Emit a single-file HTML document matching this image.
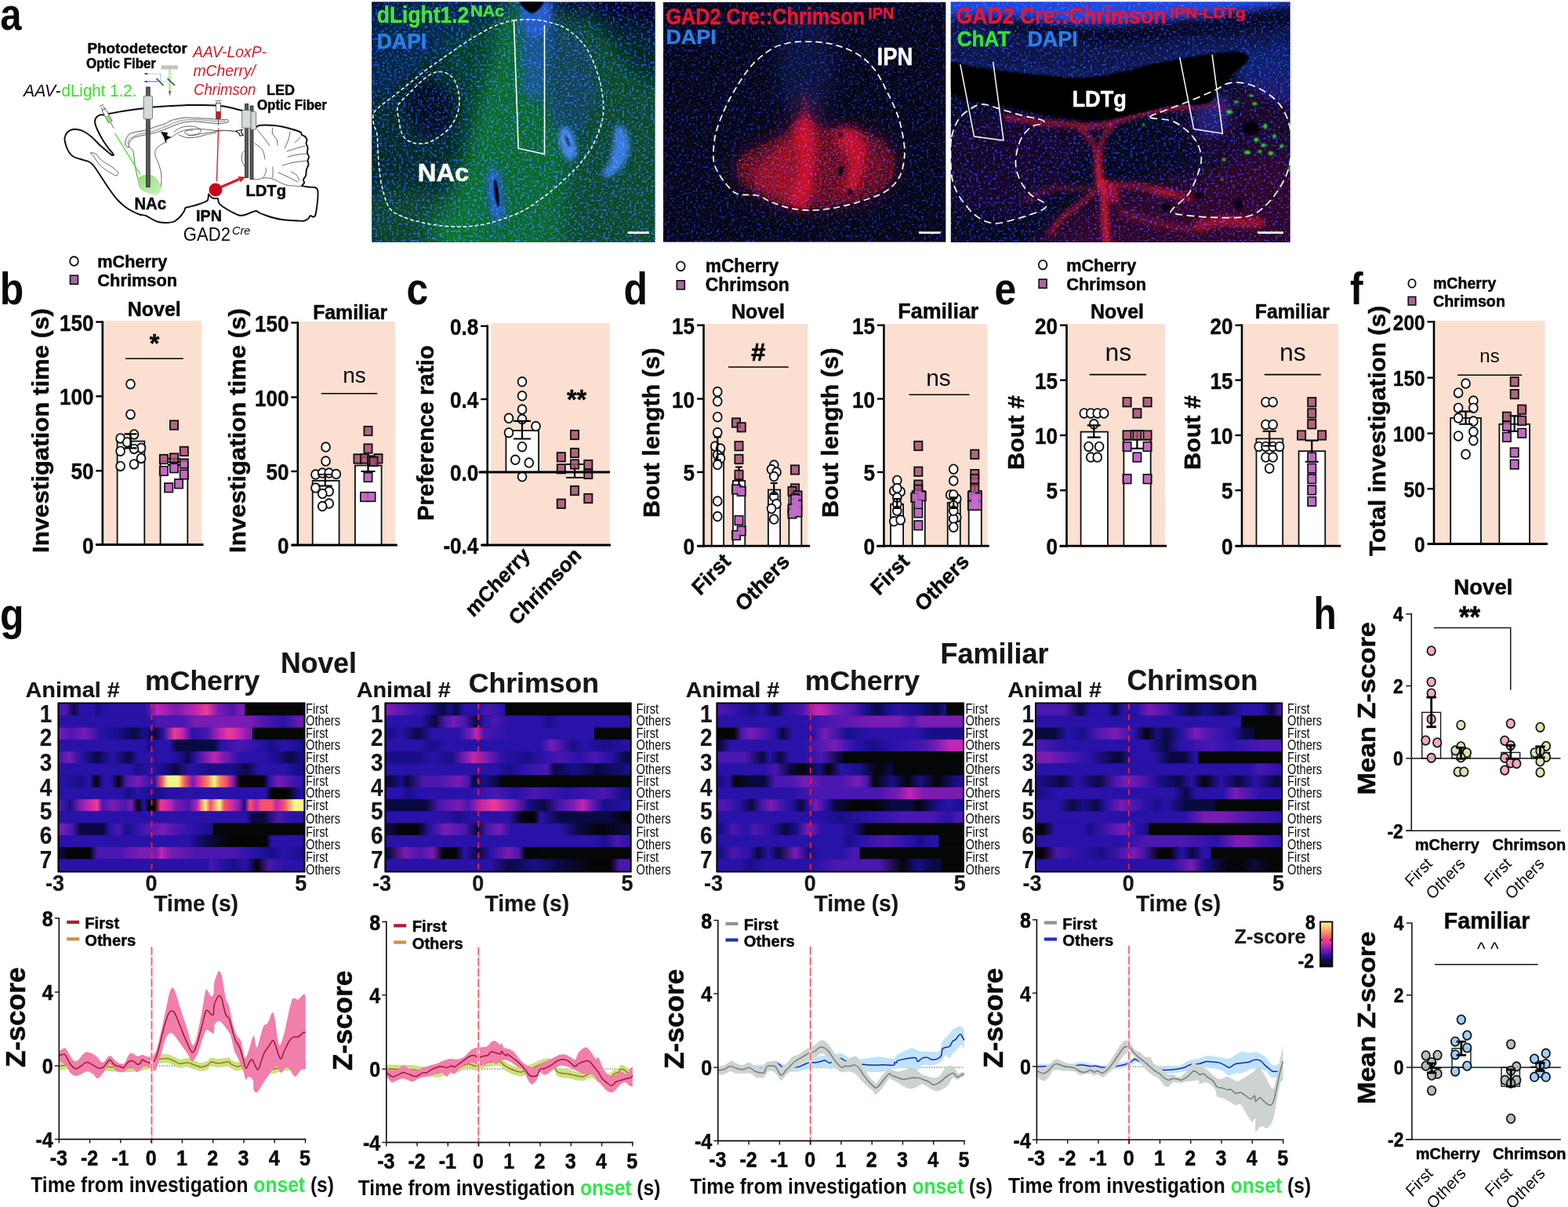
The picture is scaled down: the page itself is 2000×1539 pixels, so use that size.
<!DOCTYPE html>
<html lang="en"><head><meta charset="utf-8"><title>Figure</title>
<style>
html,body{margin:0;padding:0;background:#fff}
body{width:2000px;height:1539px;overflow:hidden}
svg{display:block}
svg text{font-family:"Liberation Sans",sans-serif;font-weight:700;fill:#0a0a0a}
</style></head><body>
<svg width="2000" height="1539" viewBox="0 0 2000 1539" fill="none">
<rect width="2000" height="1539" fill="#fff"/>
<g id="panel_a">
<path d="M164 188C164.83 187.5 164 184 165 182C166 180 167.5 177.5 170 176C172.5 174.5 175.83 174 180 173C184.17 172 190.83 171 195 170C199.17 169 201.67 168.17 205 167C208.33 165.83 211.67 164.33 215 163C218.33 161.67 221.67 160.17 225 159C228.33 157.83 230.83 156.67 235 156C239.17 155.33 244.17 154.83 250 155C255.83 155.17 265 156.58 270 157C275 157.42 276.67 157.67 280 157.5C283.33 157.33 288.17 156.75 290 156C291.83 155.25 291.83 153.58 291 153C290.17 152.42 287.67 152.67 285 152.5C282.33 152.33 279.17 152.25 275 152C270.83 151.75 265.83 151.33 260 151C254.17 150.67 244.17 150.17 240 150C235.83 149.83 238.33 149.5 235 150C231.67 150.5 224.17 151.67 220 153C215.83 154.33 213.33 156.67 210 158C206.67 159.33 204.17 159.67 200 161C195.83 162.33 190 164.67 185 166C180 167.33 173.67 167.83 170 169C166.33 170.17 164.67 171.17 163 173C161.33 174.83 160.5 178 160 180C159.5 182 159.33 183.67 160 185C160.67 186.33 163.17 188.5 164 188Z" fill="#eef1f0" stroke="#3a4040" stroke-width="0.8"/>
<path d="M163 184C163.5 182.83 163.5 179.17 166 177C168.5 174.83 173.17 172.58 178 171C182.83 169.42 189.33 169.17 195 167.5C200.67 165.83 206.17 163.25 212 161C217.83 158.75 223.67 155.42 230 154C236.33 152.58 242.5 152.42 250 152.5C257.5 152.58 268.67 154.17 275 154.5C281.33 154.83 285.83 154.5 288 154.5" stroke="#5a6060" stroke-width="0.6"/>
<path d="M219 175C220.17 174.17 223.17 171.5 226 170C228.83 168.5 232.33 166.92 236 166C239.67 165.08 243.67 164.67 248 164.5C252.33 164.33 257.33 164.67 262 165C266.67 165.33 271.33 166.25 276 166.5C280.67 166.75 286 166.33 290 166.5C294 166.67 298.33 167.33 300 167.5M222 168C223.33 167.17 227 164.17 230 163C233 161.83 236.67 161.17 240 161C243.33 160.83 247.33 161.17 250 162C252.67 162.83 255.5 164.5 256 166C256.5 167.5 255 169.92 253 171C251 172.08 246.83 172.67 244 172.5C241.17 172.33 237 171 236 170C235 169 236.33 167.17 238 166.5C239.67 165.83 244.67 166.08 246 166M228 172C229.67 172.58 234.33 175 238 175.5C241.67 176 246 175.58 250 175C254 174.42 257.67 173 262 172C266.33 171 273.67 169.5 276 169M240 173C243.33 172.5 253.33 171 260 170C266.67 169 275 167.58 280 167C285 166.42 286.67 166.42 290 166.5C293.33 166.58 298.33 167.33 300 167.5M164 187C164.83 187.67 167.83 188.83 169 191C170.17 193.17 170.5 196.83 171 200C171.5 203.17 171.5 206.67 172 210C172.5 213.33 173.33 217 174 220C174.67 223 175.17 225.5 176 228C176.83 230.5 178.5 233.83 179 235M213 181C211.83 181.5 208.33 182.5 206 184C203.67 185.5 200.33 187.67 199 190C197.67 192.33 197.5 195 198 198C198.5 201 200.83 204.67 202 208C203.17 211.33 204.33 214.67 205 218C205.67 221.33 206 224.67 206 228C206 231.33 205.5 235.17 205 238C204.5 240.83 203.33 243.83 203 245M115.5 195C115.83 194.33 119.92 194.67 122 196C124.08 197.33 125.83 201 128 203C130.17 205 132.5 206.33 135 208C137.5 209.67 140.5 211.17 143 213C145.5 214.83 148.75 217.5 150 219C151.25 220.5 150.83 221.17 150.5 222C150.17 222.83 149.42 224.17 148 224C146.58 223.83 144.33 222.33 142 221C139.67 219.67 136.67 218 134 216C131.33 214 128.33 211.67 126 209C123.67 206.33 121.75 202.33 120 200C118.25 197.67 115.17 195.67 115.5 195ZM323 228C323.83 228.17 326 229.17 328 229C330 228.83 332.67 227.33 335 227C337.33 226.67 339.5 226.67 342 227C344.5 227.33 347 227.83 350 229C353 230.17 357 232.75 360 234C363 235.25 365.5 236 368 236.5C370.5 237 372.17 236.83 375 237C377.83 237.17 383.33 237.42 385 237.5M328 165C329.33 166.67 333.33 171.5 336 175C338.67 178.5 342.67 184.17 344 186M325 183C326.17 183.83 330.17 186.17 332 188C333.83 189.83 335 191.5 336 194C337 196.5 337.67 201.5 338 203M348 163C347.92 164.17 346.67 167.5 347.5 170C348.33 172.5 351.92 175.5 353 178C354.08 180.5 353.83 183.83 354 185M370 168C369.67 169.67 369.17 174.5 368 178C366.83 181.5 363.83 187.17 363 189M383 175C382.33 175.67 380.17 177.83 379 179C377.83 180.17 376.5 181.5 376 182M389 186C387.17 186.5 381.83 187.83 378 189C374.17 190.17 368 192.33 366 193M392 196C390 196.17 384.17 196.33 380 197C375.83 197.67 369.17 199.5 367 200M392 205C389.17 205.33 380.33 206 375 207C369.67 208 362.5 210.33 360 211M355 220C357.17 221 363.83 224 368 226C372.17 228 378 231 380 232M371 219C372.17 219.67 376.17 221.17 378 223C379.83 224.83 381.33 228.83 382 230M348 213C348 214.5 348.17 219.67 348 222C347.83 224.33 347.17 226.17 347 227M339 214C339 215 339.5 218 339 220C338.5 222 336.5 225 336 226M312 192C311.5 192.67 309.58 193.83 309 196C308.42 198.17 308 202.33 308.5 205C309 207.67 311.42 210.83 312 212" stroke="#3a4040" stroke-width="0.8" stroke-linecap="round"/>
<path d="M205 168L214 169L213 173L219 175L213 178L211 182L209 175Z" fill="#0a0a0a"/>
<path d="M300.5 167.3L309 165.3L307.5 168.6L310.5 172.3L306 173.3L305.3 170.3Z" fill="#fff" stroke="#0a0a0a" stroke-width="1.1" stroke-linejoin="round"/>
<path d="M310 141C309.17 140.83 307.5 140.58 305 140C302.5 139.42 298.33 138.25 295 137.5C291.67 136.75 288.33 136 285 135.5C281.67 135 279.17 134.75 275 134.5C270.83 134.25 265.83 134.08 260 134C254.17 133.92 245 133.92 240 134C235 134.08 235 134.25 230 134.5C225 134.75 215.92 135.17 210 135.5C204.08 135.83 199 136.05 194.5 136.5C190 136.95 187.08 137.67 183 138.2C178.92 138.73 173.83 139.2 170 139.7C166.17 140.2 163.33 140.65 160 141.2C156.67 141.75 153.33 142.4 150 143C146.67 143.6 143 144.22 140 144.8C137 145.38 134 146.25 132 146.5C130 146.75 129.42 145.88 128 146.3C126.58 146.72 124.67 147.72 123.5 149C122.33 150.28 121.25 152.17 121 154C120.75 155.83 121.5 158.17 122 160C122.5 161.83 122.92 162.67 124 165C125.08 167.33 126.83 171 128.5 174C130.17 177 132.12 180.2 134 183C135.88 185.8 138.3 188.88 139.8 190.8C141.3 192.72 142.13 193.38 143 194.5C143.87 195.62 144.67 197 145 197.5C144.67 197.58 144 198.42 143 198C142 197.58 140.83 196.5 139 195C137.17 193.5 134.08 190.8 132 189C129.92 187.2 129 186.58 126.5 184.2C124 181.82 120.17 177.4 117 174.7C113.83 172 110.33 169.57 107.5 168C104.67 166.43 102.42 165.8 100 165.3C97.58 164.8 95.33 164.47 93 165C90.67 165.53 87.75 166.67 86 168.5C84.25 170.33 82.83 173.25 82.5 176C82.17 178.75 83.08 182 84 185C84.92 188 86.33 191.5 88 194C89.67 196.5 91.5 198.5 94 200C96.5 201.5 99.67 201.92 103 203C106.33 204.08 111.17 205 114 206.5C116.83 208 117.33 208.58 120 212C122.67 215.42 126.67 222 130 227C133.33 232 136.67 237.33 140 242C143.33 246.67 146.67 251.33 150 255C153.33 258.67 156.67 261.5 160 264C163.33 266.5 167 268.42 170 270C173 271.58 175.33 272.67 178 273.5C180.67 274.33 183.33 274 186 275C188.67 276 191.33 278.17 194 279.5C196.67 280.83 199 282.25 202 283C205 283.75 208.67 284.08 212 284C215.33 283.92 219 283.83 222 282.5C225 281.17 227.83 278.25 230 276C232.17 273.75 233.92 270.83 235 269C236.08 267.17 235.67 265.83 236.5 265C237.33 264.17 237.75 264.58 240 264C242.25 263.42 246.67 262.5 250 261.5C253.33 260.5 257.5 259.08 260 258C262.5 256.92 264 256.75 265 255C266 253.25 265.83 248.75 266 247.5C266.5 248.08 267.83 250.08 269 251C270.17 251.92 271.5 252.67 273 253C274.5 253.33 277.17 253 278 253C278.08 253.5 278.17 254.83 278.5 256C278.83 257.17 278.92 258.67 280 260C281.08 261.33 282.5 262.33 285 264C287.5 265.67 291.67 268.25 295 270C298.33 271.75 302.17 273.83 305 274.5C307.83 275.17 309.5 274.58 312 274C314.5 273.42 317.5 271.83 320 271C322.5 270.17 325.33 269 327 269C328.67 269 327.83 270 330 271C332.17 272 336.67 273.83 340 275C343.33 276.17 346.67 277.17 350 278C353.33 278.83 356.67 279.5 360 280C363.33 280.5 366.67 280.75 370 281C373.33 281.25 377 281.42 380 281.5C383 281.58 385.83 281.92 388 281.5C390.17 281.08 391.67 280.08 393 279C394.33 277.92 395 275.42 396 275C397 274.58 398 276.5 399 276.5C400 276.5 401.17 276.92 402 275C402.83 273.08 403.42 269.17 404 265C404.58 260.83 405.33 253.83 405.5 250C405.67 246.17 405.58 243.83 405 242C404.42 240.17 403.83 239.58 402 239C400.17 238.42 396.83 238.83 394 238.5C391.17 238.17 386.5 237.25 385 237C385.5 236.33 387.67 234.33 388 233C388.33 231.67 386.67 230.5 387 229C387.33 227.5 389.33 226.17 390 224C390.67 221.83 390.42 218.33 391 216C391.58 213.67 393.25 211.83 393.5 210C393.75 208.17 392.42 206.67 392.5 205C392.58 203.33 394.08 201.67 394 200C393.92 198.33 392.25 197 392 195C391.75 193 392.75 190 392.5 188C392.25 186 390.67 184.58 390.5 183C390.33 181.42 391.75 180 391.5 178.5C391.25 177 390.08 175.08 389 174C387.92 172.92 385.83 172.83 385 172C384.17 171.17 384.83 169.83 384 169C383.17 168.17 382.33 167.83 380 167C377.67 166.17 373.33 164.92 370 164C366.67 163.08 363.33 162.17 360 161.5C356.67 160.83 353.33 160.33 350 160C346.67 159.67 343.33 159.5 340 159.5C336.67 159.5 332.17 159.58 330 160C327.83 160.42 327.5 161.67 327 162" stroke="#0a0a0a" stroke-width="1.9" stroke-linejoin="round" stroke-linecap="round"/>
<linearGradient id="nacg" x1="0" y1="0" x2="1" y2="1"><stop offset="0" stop-color="#8fdc74"/><stop offset="1" stop-color="#cdf2bd"/></linearGradient>
<path d="M176 228C176.67 225.83 178.67 224.83 181 224C183.33 223.17 187.17 222.67 190 223C192.83 223.33 195.83 224.33 198 226C200.17 227.67 201.83 230.67 203 233C204.17 235.33 205 238 205 240C205 242 204.17 243.67 203 245C201.83 246.33 200.17 247.83 198 248C195.83 248.17 192.67 246.83 190 246C187.33 245.17 184.17 244.5 182 243C179.83 241.5 178 239.5 177 237C176 234.5 175.33 230.17 176 228Z" fill="url(#nacg)" stroke="#c5d6c0" stroke-width="0.8"/>
<path d="M146.5 170L179 222.5" stroke="#3fe01f" stroke-width="1.3"/>
<g transform="translate(137,148.5) rotate(-28)"><path d="M-3 -16h6M-1.6 -14v8M1.6 -14v8M0 8v9" stroke="#2a2e2e" stroke-width="0.7"/><rect x="-2.6" y="-10" width="5.2" height="18" fill="#fff" stroke="#2a2e2e" stroke-width="0.7"/><rect x="-2.3" y="-1" width="4.6" height="9" fill="#8fdc74"/></g>
<rect x="186.6" y="111" width="4.6" height="127.5" fill="#565c5c" stroke="#2a2e2e" stroke-width="0.9"/>
<rect x="183.2" y="122.3" width="11.3" height="29.5" rx="1.6" fill="#d3dad8" stroke="#6a7070" stroke-width="0.9"/>
<rect x="205.5" y="83.3" width="21.3" height="5.2" fill="#c1c5c5"/>
<path d="M216.6 88.5L216.6 117" stroke="#bfeaa0" stroke-width="3.4"/>
<path d="M215.2 116h2.8l-1.4 7z" fill="#4a5050"/>
<path d="M189 94H204.6V104H216.5" stroke="#9fd4f4" stroke-width="1.2"/>
<path d="M189 104L201.5 104" stroke="#4f7fe0" stroke-width="1.2"/>
<path d="M199.5 100L208.5 109M213.5 100L223 109" stroke="#3a4040" stroke-width="1.6"/>
<path d="M184.5 94h4M184.5 104h4" stroke="#1a1a1a" stroke-width="1.4"/>
<circle cx="216.6" cy="92.5" r="0.8" fill="#fff"/><circle cx="216.6" cy="96" r="0.8" fill="#fff"/>
<path d="M274.6 128.3h8M277 129.5v12M280 129.5v12M278.5 151.5v9" stroke="#2a2e2e" stroke-width="0.7"/>
<rect x="275.6" y="131.5" width="5.8" height="20" fill="#fff" stroke="#2a2e2e" stroke-width="0.7"/>
<rect x="276" y="142" width="5" height="9.6" fill="#e0101c"/>
<path d="M278.6 164L276.5 231.5" stroke="#d3202c" stroke-width="1.4"/>
<rect x="319" y="135" width="4" height="93.5" fill="#565c5c" stroke="#2a2e2e" stroke-width="0.9"/>
<rect x="319.8" y="142.2" width="6.8" height="23" rx="1.4" fill="#d3dad8" stroke="#6a7070" stroke-width="0.9"/>
<rect x="312.6" y="132.5" width="4" height="94" fill="#565c5c" stroke="#2a2e2e" stroke-width="0.9"/>
<rect x="308.6" y="140.6" width="11.4" height="22.6" rx="1.4" fill="#d3dad8" stroke="#6a7070" stroke-width="0.9"/>
<circle cx="275" cy="242" r="8.5" fill="#c8041c"/>
<path d="M282 238.5L305 228.5" stroke="#d81a28" stroke-width="3.2"/>
<path d="M313 225.5L303.5 225L306.8 232.5Z" fill="#d81a28"/>
<text transform="translate(0.3,37.5) scale(0.860,1)" font-size="57">a</text>
<text transform="translate(111.5,68) scale(0.990,1)" font-size="19" style="stroke:#0a0a0a;stroke-width:0.5;stroke-linejoin:round;">Photodetector</text>
<text transform="translate(110,87) scale(0.958,1)" font-size="17.6" style="stroke:#0a0a0a;stroke-width:0.5;stroke-linejoin:round;">Optic Fiber</text>
<text transform="translate(30,123) scale(0.986,1)" font-size="21.5" style="font-weight:400;font-style:italic;">AAV-</text>
<text transform="translate(78.5,123) scale(0.956,1)" font-size="21.5" style="font-weight:400;fill:#3ddf2c;">dLight 1.2.</text>
<text transform="translate(246,73) scale(0.945,1)" font-size="20.5" style="font-weight:400;font-style:italic;fill:#cf1f2a;">AAV-LoxP-</text>
<text transform="translate(246.5,97) scale(0.943,1)" font-size="20.5" style="font-weight:400;font-style:italic;fill:#cf1f2a;">mCherry/</text>
<text transform="translate(247,121) scale(0.906,1)" font-size="20.5" style="font-weight:400;font-style:italic;fill:#cf1f2a;">Chrimson</text>
<text transform="translate(340,120.5) scale(0.947,1)" font-size="19" style="stroke:#0a0a0a;stroke-width:0.5;stroke-linejoin:round;">LED</text>
<text transform="translate(328,139.5) scale(0.958,1)" font-size="17.6" style="stroke:#0a0a0a;stroke-width:0.5;stroke-linejoin:round;">Optic Fiber</text>
<text transform="translate(171.5,266.5) scale(0.937,1)" font-size="21.6" style="stroke:#0a0a0a;stroke-width:0.5;stroke-linejoin:round;">NAc</text>
<text transform="translate(250,281.5) scale(0.943,1)" font-size="21" style="stroke:#0a0a0a;stroke-width:0.5;stroke-linejoin:round;">IPN</text>
<text transform="translate(313.5,250) scale(0.960,1)" font-size="21" style="stroke:#0a0a0a;stroke-width:0.5;stroke-linejoin:round;">LDTg</text>
<text transform="translate(233.8,306.5) scale(0.961,1)" font-size="23" style="font-weight:400;">GAD2</text>
<text transform="translate(296,299) scale(0.941,1)" font-size="15.5" style="font-weight:400;font-style:italic;">Cre</text>
<defs>
<filter id="b3" x="-30%" y="-30%" width="160%" height="160%"><feGaussianBlur stdDeviation="3"/></filter>
<filter id="b6" x="-40%" y="-40%" width="180%" height="180%"><feGaussianBlur stdDeviation="6"/></filter>
<filter id="b12" x="-60%" y="-60%" width="220%" height="220%"><feGaussianBlur stdDeviation="12"/></filter>
<filter id="b1" x="-20%" y="-20%" width="140%" height="140%"><feGaussianBlur stdDeviation="1.2"/></filter>
<filter id="spB" x="0" y="0" width="1" height="1" color-interpolation-filters="sRGB"><feTurbulence type="fractalNoise" baseFrequency="0.33" numOctaves="2" seed="4"/><feColorMatrix type="matrix" values="0 0 0 0 0.10  0 0 0 0 0.22  0 0 0 0 0.92  7 0 0 0 -3.75"/><feGaussianBlur stdDeviation="0.45"/></filter>
<filter id="spS" x="0" y="0" width="1" height="1" color-interpolation-filters="sRGB"><feTurbulence type="fractalNoise" baseFrequency="0.33" numOctaves="2" seed="9"/><feColorMatrix type="matrix" values="0 0 0 0 0.10  0 0 0 0 0.20  0 0 0 0 0.90  7 0 0 0 -4.0"/><feGaussianBlur stdDeviation="0.45"/></filter>
<filter id="spB2" x="0" y="0" width="1" height="1" color-interpolation-filters="sRGB"><feTurbulence type="fractalNoise" baseFrequency="0.5" numOctaves="1" seed="11"/><feColorMatrix type="matrix" values="0 0 0 0 0.12  0 0 0 0 0.30  0 0 0 0 0.95  0 9 0 0 -4.6"/></filter>
<filter id="spR" x="0" y="0" width="1" height="1" color-interpolation-filters="sRGB"><feTurbulence type="fractalNoise" baseFrequency="0.45" numOctaves="1" seed="23"/><feColorMatrix type="matrix" values="0 0 0 0 0.95  0 0 0 0 0.06  0 0 0 0 0.14  0 0 9 0 -4.4"/></filter>
<filter id="spG" x="0" y="0" width="1" height="1" color-interpolation-filters="sRGB"><feTurbulence type="fractalNoise" baseFrequency="0.6" numOctaves="1" seed="7"/><feColorMatrix type="matrix" values="0 0 0 0 0.10  0 0 0 0 0.55  0 0 0 0 0.20  8 0 0 0 -3.9"/></filter>
</defs><clipPath id="c2r"><path d="M945 200C952.5 192.17 973.83 184.67 985 178C996.17 171.33 1004.83 169.67 1012 160C1019.17 150.33 1023.33 120.33 1028 120C1032.67 119.67 1031.33 150.5 1040 158C1048.67 165.5 1068 163 1080 165C1092 167 1102.67 165.83 1112 170C1121.33 174.17 1131 182.5 1136 190C1141 197.5 1143.33 206.67 1142 215C1140.67 223.33 1136.67 232.83 1128 240C1119.33 247.17 1104.67 253.67 1090 258C1075.33 262.33 1055.83 265.67 1040 266C1024.17 266.33 1008 263.5 995 260C982 256.5 971.17 250.83 962 245C952.83 239.17 942.83 232.5 940 225C937.17 217.5 937.5 207.83 945 200Z"/></clipPath><clipPath id="c3r"><path d="M1300 309L1340 250L1390 200L1395 155L1410 155L1415 200L1480 230L1560 200L1646 180V309Z"/></clipPath><clipPath id="c1"><rect x="474.2" y="2.5" width="361.2" height="306.3"/></clipPath>
<g clip-path="url(#c1)">
<rect x="474.2" y="2.5" width="361.2" height="306.3" fill="#070d20"/>
<g filter="url(#b12)">
<path d="M650 10C673.33 -1.67 727.33 20 760 30C792.67 40 831.67 21.67 846 70C860.33 118.33 893.67 278.33 846 320C798.33 361.67 602.67 340 560 320C517.33 300 580 236.67 590 200C600 163.33 610 131.67 620 100C630 68.33 626.67 21.67 650 10Z" fill="#10a028" fill-opacity="0.42"/>
<path d="M474 40C498.33 -10 599 -26.67 620 20C641 66.67 624.33 270 600 320C575.67 370 495 366.67 474 320C453 273.33 449.67 90 474 40Z" fill="#0c7a28" fill-opacity="0.26"/>
<path d="M636 -10C644.33 -25 671 -21.67 680 -10C689 1.67 686.67 36.67 690 60C693.33 83.33 695 108.33 700 130C705 151.67 716.67 170 720 190C723.33 210 723.33 226.67 720 250C716.67 273.33 726.67 316.67 700 330C673.33 343.33 579.17 343.33 560 330C540.83 316.67 576.67 278.33 585 250C593.33 221.67 602.5 188.33 610 160C617.5 131.67 625.67 108.33 630 80C634.33 51.67 627.67 5 636 -10Z" fill="#18a830" fill-opacity="0.32"/>
<path d="M474 250C488.33 238.33 542.33 238.33 560 250C577.67 261.67 594.33 308.33 580 320C565.67 331.67 491.67 331.67 474 320C456.33 308.33 459.67 261.67 474 250Z" fill="#108028" fill-opacity="0.3"/>
<path d="M560 60C568.33 43.33 626.67 10 640 20C653.33 30 646.67 90 640 120C633.33 150 608.33 200 600 200C591.67 200 596.67 143.33 590 120C583.33 96.67 551.67 76.67 560 60Z" fill="#108028" fill-opacity="0.25"/>
<path d="M740 0C752.67 -8.33 828.33 -18.33 846 0C863.67 18.33 853.67 95 846 110C838.33 125 812.67 100 800 90C787.33 80 780 65 770 50C760 35 727.33 8.33 740 0Z" fill="#050a18" fill-opacity="0.55"/>
</g>
<g filter="url(#b6)">
<path d="M664 -5C670.33 -19.17 697.67 -15.83 704 -5C710.33 5.83 703.33 42.5 702 60C700.67 77.5 698 89.17 696 100C694 110.83 694.33 121.67 690 125C685.67 128.33 674 127.5 670 120C666 112.5 667 100.83 666 80C665 59.17 657.67 9.17 664 -5Z" fill="#2050c8" fill-opacity="0.6"/>
<path d="M700 40C708.33 25 740 46.67 750 60C760 73.33 761.67 101.67 760 120C758.33 138.33 750 165 740 170C730 175 706.67 171.67 700 150C693.33 128.33 691.67 55 700 40Z" fill="#1a40a0" fill-opacity="0.35"/>
<path d="M474 2C501.67 -17.67 619 -4.33 640 2C661 8.33 616.67 27 600 40C583.33 53 561 66.67 540 80C519 93.33 485 133 474 120C463 107 446.33 21.67 474 2Z" fill="#10246c" fill-opacity="0.4"/>
<ellipse cx="548" cy="138" rx="30" ry="36" fill="#04060f" fill-opacity="0.6" transform="rotate(-15 548 138)"/>
<ellipse cx="632" cy="250" rx="9" ry="40" fill="#2458d8" fill-opacity="0.8" transform="rotate(-6 632 250)"/>
</g>
<g filter="url(#b3)">
<ellipse cx="724" cy="183" rx="10" ry="22" fill="#4484f0" transform="rotate(-14 724 183)"/>
<path d="M786 160C788.67 156.83 795.17 161.83 798 166C800.83 170.17 803 178.5 803 185C803 191.5 800.5 199.5 798 205C795.5 210.5 791.67 214.5 788 218C784.33 221.5 779.33 225.33 776 226C772.67 226.67 767.67 225.5 768 222C768.33 218.5 775.67 211.17 778 205C780.33 198.83 780.67 192.5 782 185C783.33 177.5 783.33 163.17 786 160Z" fill="#3c7cea" fill-opacity="0.95"/>
<ellipse cx="632" cy="246" rx="5.5" ry="30" fill="#2a64e0" fill-opacity="0.95" transform="rotate(-7 632 246)"/>
<path d="M668 2C672.67 -4.33 694.67 -2.67 700 2C705.33 6.67 701.67 22.83 700 30C698.33 37.17 694.67 43.33 690 45C685.33 46.67 675.67 47.17 672 40C668.33 32.83 663.33 8.33 668 2Z" fill="#2a5cd8" fill-opacity="0.8"/>
</g>
<rect x="474.2" y="2.5" width="361.2" height="306.3" filter="url(#spB)" opacity="0.85" style="mix-blend-mode:screen"/>
<g filter="url(#b1)">
<path d="M664 2C667.67 0.33 688 0.5 692 2C696 3.5 690.17 8.5 688 11C685.83 13.5 682 16.83 679 17C676 17.17 672.5 14.5 670 12C667.5 9.5 660.33 3.67 664 2Z" fill="#020305"/>
<ellipse cx="633.5" cy="246" rx="2.6" ry="18" fill="#020305" transform="rotate(-7 633.5 246)"/>
<ellipse cx="724" cy="180" rx="1.6" ry="8" fill="#0a1030" fill-opacity="0.85" transform="rotate(-20 724 180)"/>
</g>
<path d="M655.4 26C661.28 25.33 671.03 24.67 678.3 25C685.57 25.33 692.05 26.28 699 28C705.95 29.72 713.4 31.63 720 35.3C726.6 38.97 733.43 44.8 738.6 50C743.77 55.2 747.18 59.58 751 66.5C754.82 73.42 758.72 83.18 761.5 91.5C764.28 99.82 766.32 108.08 767.7 116.4C769.08 124.72 770.15 133.8 769.8 141.4C769.45 149 768.03 154.4 765.6 162C763.17 169.6 759.7 179 755.2 187C750.7 195 744.83 202.7 738.6 210C732.37 217.3 725.43 223.87 717.8 230.8C710.17 237.73 701.1 245.37 692.8 251.6C684.5 257.83 676.3 263.7 668 268.2C659.7 272.7 651.33 275.65 643 278.6C634.67 281.55 626.33 284.17 618 285.9C609.67 287.63 602 288.65 593 289C584 289.35 573 288.87 564 288C555 287.13 547.33 285.72 539 283.8C530.67 281.88 520.93 279.47 514 276.5C507.07 273.53 501.57 271.2 497.4 266C493.23 260.8 491.23 253.25 489 245.3C486.77 237.35 485.2 228.02 484 218.3C482.8 208.58 482.33 194.97 481.8 187C481.27 179.03 481.67 175.33 480.8 170.5C479.93 165.67 477.37 162.17 476.6 158C475.83 153.83 475.15 148.97 476.2 145.5C477.25 142.03 478.67 141 482.9 137.2C487.13 133.4 495.02 127.9 501.6 122.7C508.18 117.5 515.47 111.55 522.4 106C529.33 100.45 536.27 94.6 543.2 89.4C550.13 84.2 557.08 79.65 564 74.8C570.92 69.95 577.78 64.97 584.7 60.3C591.62 55.63 598.57 50.97 605.5 46.8C612.43 42.63 620.05 38.27 626.3 35.3C632.55 32.33 638.15 30.55 643 29C647.85 27.45 649.52 26.67 655.4 26Z" stroke="#fff" stroke-width="1.5" stroke-dasharray="4.6 3"/>
<path d="M559.8 91.5C563.27 91.33 566.92 91.87 570.2 93.6C573.48 95.33 577.08 98.1 579.5 101.9C581.92 105.7 583.65 111.22 584.7 116.4C585.75 121.58 586.32 127.45 585.8 133C585.28 138.55 583.85 144.5 581.6 149.7C579.35 154.9 575.93 160.05 572.3 164.2C568.67 168.35 564.32 171.63 559.8 174.6C555.28 177.57 550.05 180.6 545.2 182C540.35 183.4 535.2 183.7 530.7 183C526.2 182.3 521.32 180.23 518.2 177.8C515.08 175.37 513.55 172.4 512 168.4C510.45 164.4 509.77 159 508.9 153.8C508.03 148.6 506.28 141.35 506.8 137.2C507.32 133.05 509.07 132.37 512 128.9C514.93 125.43 520.25 120.55 524.4 116.4C528.55 112.25 532.73 107.63 536.9 104C541.07 100.37 545.58 96.68 549.4 94.6C553.22 92.52 556.33 91.67 559.8 91.5Z" stroke="#fff" stroke-width="1.5" stroke-dasharray="4.6 3"/>
<path d="M655.4 26L661.2 189.2L694.5 196.5V32.2" stroke="#fff" stroke-width="1.6" stroke-linejoin="miter"/>
<path d="M800.5 296.7L828 296.7" stroke="#fff" stroke-width="2.8"/>
<text transform="translate(480.8,29.1) scale(0.912,1)" font-size="29" style="fill:#4be03a;stroke:#4be03a;stroke-width:0.5;stroke-linejoin:round;">dLight1.2</text>
<text transform="translate(600.3,20.8) scale(1.102,1)" font-size="19.5" style="fill:#4be03a;stroke:#4be03a;stroke-width:0.5;stroke-linejoin:round;">NAc</text>
<text transform="translate(480.8,62) scale(0.983,1)" font-size="27" style="fill:#2b7fe6;stroke:#2b7fe6;stroke-width:0.5;stroke-linejoin:round;">DAPI</text>
<text transform="translate(532.8,231.2) scale(1.056,1)" font-size="31" style="fill:#fff;stroke:#fff;stroke-width:0.5;stroke-linejoin:round;">NAc</text>
</g><clipPath id="c2"><rect x="845.8" y="2.5" width="360.8" height="306.3"/></clipPath>
<g clip-path="url(#c2)">
<rect x="845.8" y="2.5" width="360.8" height="306.3" fill="#060816"/>
<g filter="url(#b12)">
<ellipse cx="1028" cy="80" rx="36" ry="75" fill="#142a8c" fill-opacity="0.3"/>
<path d="M945 200C952.5 192.17 973.83 184.67 985 178C996.17 171.33 1004.83 169.67 1012 160C1019.17 150.33 1023.33 120.33 1028 120C1032.67 119.67 1031.33 150.5 1040 158C1048.67 165.5 1068 163 1080 165C1092 167 1102.67 165.83 1112 170C1121.33 174.17 1131 182.5 1136 190C1141 197.5 1143.33 206.67 1142 215C1140.67 223.33 1136.67 232.83 1128 240C1119.33 247.17 1104.67 253.67 1090 258C1075.33 262.33 1055.83 265.67 1040 266C1024.17 266.33 1008 263.5 995 260C982 256.5 971.17 250.83 962 245C952.83 239.17 942.83 232.5 940 225C937.17 217.5 937.5 207.83 945 200Z" fill="#a81028" fill-opacity="0.45"/>
</g>
<g filter="url(#b6)">
<path d="M1012 165C1014.67 154.17 1029.33 144.17 1034 150C1038.67 155.83 1040.67 181.33 1040 200C1039.33 218.67 1035.33 252.33 1030 262C1024.67 271.67 1010 265.83 1008 258C1006 250.17 1017.33 230.5 1018 215C1018.67 199.5 1009.33 175.83 1012 165Z" fill="#ee1630" fill-opacity="0.7"/>
<path d="M1064 168C1066.67 164.17 1079.33 159.17 1086 162C1092.67 164.83 1102.33 172.83 1104 185C1105.67 197.17 1100.33 224.5 1096 235C1091.67 245.5 1080.33 253 1078 248C1075.67 243 1083.33 215.5 1082 205C1080.67 194.5 1073 191.17 1070 185C1067 178.83 1061.33 171.83 1064 168Z" fill="#ee1630" fill-opacity="0.65"/>
<path d="M990 190C998.33 182.5 1006.33 174.17 1010 185C1013.67 195.83 1016.17 244.17 1012 255C1007.83 265.83 993.67 254.17 985 250C976.33 245.83 959.17 240 960 230C960.83 220 981.67 197.5 990 190Z" fill="#d01530" fill-opacity="0.4"/>
</g>
<rect x="940" y="120" width="210" height="150" filter="url(#spR)" opacity="0.55" clip-path="url(#c2r)"/>
<rect x="845.8" y="2.5" width="360.8" height="306.3" filter="url(#spS)" opacity="0.7" style="mix-blend-mode:screen"/>
<g filter="url(#b1)">
<ellipse cx="1073" cy="218" rx="3" ry="7" fill="#0a0620" fill-opacity="0.9" transform="rotate(10 1073 218)"/><ellipse cx="1084" cy="245" rx="3.5" ry="4" fill="#0a0620" fill-opacity="0.9"/><ellipse cx="1072" cy="172" rx="3" ry="3.5" fill="#0a0620" fill-opacity="0.8"/>
</g>
<path d="M1027 53C1036.17 53.17 1049.17 53.5 1060 56C1070.83 58.5 1082.83 62.67 1092 68C1101.17 73.33 1108.33 79.67 1115 88C1121.67 96.33 1126.83 107.67 1132 118C1137.17 128.33 1142.5 139.33 1146 150C1149.5 160.67 1151.83 172.83 1153 182C1154.17 191.17 1154.17 197.33 1153 205C1151.83 212.67 1150.17 221.33 1146 228C1141.83 234.67 1135.67 240.33 1128 245C1120.33 249.67 1109.67 252.83 1100 256C1090.33 259.17 1080 262 1070 264C1060 266 1050 267.67 1040 268C1030 268.33 1019.17 267.67 1010 266C1000.83 264.33 992.5 260.83 985 258C977.5 255.17 972.5 250.83 965 249C957.5 247.17 946.83 249.83 940 247C933.17 244.17 928.67 237.83 924 232C919.33 226.17 914.33 218.17 912 212C909.67 205.83 909.83 202 910 195C910.17 188 910.67 179.17 913 170C915.33 160.83 919.5 150 924 140C928.5 130 934 119.67 940 110C946 100.33 952.5 90 960 82C967.5 74 977.5 66.5 985 62C992.5 57.5 998 56.5 1005 55C1012 53.5 1017.83 52.83 1027 53Z" stroke="#fff" stroke-width="1.7" stroke-dasharray="8.3 5"/>
<path d="M1172 296.7L1199.7 296.7" stroke="#fff" stroke-width="2.8"/>
<text transform="translate(849.4,30.8) scale(0.870,1)" font-size="29" style="fill:#ea1530;stroke:#ea1530;stroke-width:0.5;stroke-linejoin:round;">GAD2 Cre::Chrimson</text>
<text transform="translate(1107.2,23.9) scale(0.996,1)" font-size="20" style="fill:#ea1530;stroke:#ea1530;stroke-width:0.5;stroke-linejoin:round;">IPN</text>
<text transform="translate(849.4,56.1) scale(1.037,1)" font-size="26" style="fill:#2b7fe6;stroke:#2b7fe6;stroke-width:0.5;stroke-linejoin:round;">DAPI</text>
<text transform="translate(1118.6,82.7) scale(0.884,1)" font-size="31" style="fill:#fff;stroke:#fff;stroke-width:0.5;stroke-linejoin:round;">IPN</text>
</g><clipPath id="c3"><rect x="1212.6" y="2.3" width="433.2" height="306.7"/></clipPath>
<g clip-path="url(#c3)">
<rect x="1212.6" y="2.3" width="433.2" height="306.7" fill="#07091c"/>
<g filter="url(#b6)">
<path d="M1200 -9.2C1257.5 -13.8 1470.24 -9.97 1544.99 -9.2C1619.73 -8.43 1631.23 -6.9 1648.48 -4.6C1665.73 -2.3 1661.9 1.15 1648.48 4.6C1635.07 8.05 1596.73 12.46 1567.99 16.1C1539.24 19.74 1506.65 23.96 1475.99 26.45C1445.32 28.94 1414.66 31.62 1383.99 31.05C1353.33 30.47 1322.66 25.11 1292 23C1261.33 20.89 1215.33 23.77 1200 18.4C1184.67 13.03 1142.5 -4.6 1200 -9.2Z" fill="#2044dc"/>
<path d="M1209.2 77.05C1215.33 78.2 1232.2 81.84 1246 83.95C1259.8 86.05 1276.66 87.97 1292 89.7C1307.33 91.42 1322.66 93.07 1337.99 94.3C1353.33 95.52 1368.66 97.82 1383.99 97.06C1399.33 96.29 1414.66 92.84 1429.99 89.7C1445.32 86.55 1460.66 81.46 1475.99 78.2C1491.32 74.94 1508.57 72.26 1521.99 70.15C1535.4 68.04 1546.9 66.58 1556.49 65.55C1566.07 64.51 1573.16 63.36 1579.48 63.94C1585.81 64.51 1591.94 68.15 1594.43 69" stroke="#2448d0" stroke-width="4" stroke-opacity="0.8"/>
<path d="M1590.98 69C1602.87 62.48 1638.9 47.53 1648.48 57.5C1658.07 67.46 1655.77 118.45 1648.48 128.79C1641.2 139.14 1616.67 124.96 1604.78 119.6C1592.9 114.23 1579.48 105.03 1577.18 96.6C1574.89 88.16 1579.1 75.51 1590.98 69Z" fill="#1a38b8" fill-opacity="0.5"/>
<path d="M1526.59 137.99C1531.95 130.33 1551.89 118.06 1558.79 119.6C1565.69 121.13 1568.75 137.99 1567.99 147.19C1567.22 156.39 1561.09 171.73 1554.19 174.79C1547.29 177.86 1531.19 171.73 1526.59 165.59C1521.99 159.46 1521.22 145.66 1526.59 137.99Z" fill="#1c3cc0" fill-opacity="0.55"/>
<path d="M1200 27.6C1219.17 21.85 1280.5 38.72 1315 43.7C1349.49 48.68 1372.49 57.11 1406.99 57.5C1441.49 57.88 1489.41 49.06 1521.99 46C1554.57 42.93 1581.4 41.02 1602.48 39.1C1623.57 37.18 1640.82 28.37 1648.48 34.5C1656.15 40.63 1658.07 70.91 1648.48 75.9C1638.9 80.88 1615.9 64.78 1590.98 64.4C1566.07 64.01 1529.65 68.23 1498.99 73.6C1468.32 78.96 1441.49 93.91 1406.99 96.6C1372.49 99.28 1326.49 92.76 1292 89.7C1257.5 86.63 1215.33 88.55 1200 78.2C1184.67 67.85 1180.83 33.35 1200 27.6Z" fill="#0c1a60" fill-opacity="0.6"/>
</g>
<g filter="url(#b12)">
<path d="M1487.49 229.99C1514.32 222.32 1518.15 222.32 1544.99 218.49C1571.82 214.66 1631.23 189.74 1648.48 206.99C1665.73 224.24 1700.23 302.82 1648.48 321.99C1596.73 341.15 1382.08 331.57 1337.99 321.99C1293.91 312.4 1359.08 279.82 1383.99 264.49C1408.91 249.16 1460.66 237.66 1487.49 229.99Z" fill="#8a1038" fill-opacity="0.3"/>
<path d="M1510.49 137.99C1527.74 120.75 1625.48 92 1648.48 103.5C1671.48 115 1665.73 189.74 1648.48 206.99C1631.23 224.24 1567.99 218.49 1544.99 206.99C1521.99 195.49 1493.24 155.24 1510.49 137.99Z" fill="#5a1040" fill-opacity="0.22"/>
<path d="M1213.8 160.99C1226.83 143.36 1263.63 147.19 1292 147.19C1320.36 147.19 1372.49 147.19 1383.99 160.99C1395.49 174.79 1376.33 210.82 1360.99 229.99C1345.66 249.16 1316.53 272.16 1292 275.99C1267.46 279.82 1226.83 272.16 1213.8 252.99C1200.77 233.82 1200.77 178.63 1213.8 160.99Z" fill="#3a0c3c" fill-opacity="0.3"/>
</g>
<g filter="url(#b3)">
<path d="M1282.61 149.8C1287.01 150.35 1301.31 152 1309.01 153.1C1316.71 154.2 1319.64 155.41 1328.81 156.4C1337.98 157.39 1354.48 158.24 1364.02 159.04C1373.55 159.85 1378.68 161.24 1386.02 161.24C1393.35 161.24 1400.69 160.51 1408.02 159.04C1415.35 157.58 1422.69 154.64 1430.02 152.44C1437.36 150.24 1442.86 148.04 1452.02 145.84C1461.19 143.64 1474.03 140.89 1485.03 139.24C1496.03 137.59 1512.53 136.49 1518.03 135.94" stroke="#e8182c" stroke-width="5" stroke-opacity="0.8" stroke-linecap="round"/>
<path d="M1518.03 135.94C1521.7 135.68 1532.7 134.29 1540.03 134.4C1547.37 134.51 1558.37 136.23 1562.04 136.6" stroke="#e8182c" stroke-width="5" stroke-opacity="0.4" stroke-linecap="round"/>
<path d="M1377.22 163C1379.78 165.94 1389.13 175.1 1392.62 180.61C1396.1 186.11 1396.84 189.77 1398.12 196.01C1399.4 202.24 1399.95 214.34 1400.32 218.01" stroke="#e8182c" stroke-width="4" stroke-opacity="0.85" stroke-linecap="round"/>
<path d="M1419.02 160.8C1417.19 163 1410.59 168.87 1408.02 174C1405.45 179.14 1404.65 184.27 1403.62 191.61C1402.59 198.94 1402.15 213.61 1401.86 218.01" stroke="#e8182c" stroke-width="4" stroke-opacity="0.85" stroke-linecap="round"/>
<path d="M1400.98 213.61C1401.24 216.18 1401.53 223.88 1402.52 229.01C1403.51 234.14 1405.82 237.44 1406.92 244.41C1408.02 251.38 1408.5 262.01 1409.12 270.81C1409.74 279.61 1410.11 290.25 1410.66 297.22C1411.21 304.18 1412.13 310.05 1412.42 312.62" stroke="#e8182c" stroke-width="9" stroke-opacity="0.8" stroke-linecap="round"/>
<path d="M1403.62 233.41C1405.82 234.51 1413.89 236.71 1416.82 240.01C1419.75 243.31 1420.49 251.01 1421.22 253.21" stroke="#e8182c" stroke-width="14" stroke-opacity="0.6" stroke-linecap="round"/>
<path d="M1397.02 244.41C1393.35 247.35 1382.35 256.15 1375.02 262.01C1367.68 267.88 1358.88 273.75 1353.01 279.61C1347.15 285.48 1342.01 294.28 1339.81 297.22" stroke="#e8182c" stroke-width="7" stroke-opacity="0.55" stroke-linecap="round"/>
<path d="M1390.42 240.01C1386.02 240.01 1372.08 239.83 1364.02 240.01C1355.95 240.19 1351.18 238.91 1342.01 241.11C1332.85 243.31 1314.51 251.2 1309.01 253.21" stroke="#e8182c" stroke-width="7" stroke-opacity="0.3" stroke-linecap="round"/>
<path d="M1419.02 235.61C1424.52 235.98 1441.02 236.34 1452.02 237.81C1463.03 239.28 1474.03 241.84 1485.03 244.41C1496.03 246.98 1512.53 251.75 1518.03 253.21" stroke="#e8182c" stroke-width="8" stroke-opacity="0.5" stroke-linecap="round"/>
<path d="M1474.03 244.41L1493.83 246.61" stroke="#e8182c" stroke-width="9" stroke-opacity="0.45" stroke-linecap="round"/>
<path d="M1529.03 288.42C1534.53 287.32 1549.2 282.55 1562.04 281.82C1574.87 281.08 1598.71 283.65 1606.04 284.02" stroke="#e8182c" stroke-width="14" stroke-opacity="0.55" stroke-linecap="round"/>
<path d="M1430.02 270.81C1437.36 273.01 1459.36 280.35 1474.03 284.02C1488.69 287.68 1510.7 291.35 1518.03 292.82" stroke="#e8182c" stroke-width="10" stroke-opacity="0.25" stroke-linecap="round"/>
</g>
<rect x="1212.6" y="2.3" width="433.2" height="306.7" filter="url(#spS)" opacity="0.9" style="mix-blend-mode:screen"/>
<g filter="url(#b1)">
<path d="M1209.2 79.35C1215.33 76.86 1232.2 84.14 1246 86.25C1259.8 88.35 1276.66 90.27 1292 92C1307.33 93.72 1322.66 95.37 1337.99 96.6C1353.33 97.82 1368.66 100.12 1383.99 99.36C1399.33 98.59 1414.66 95.14 1429.99 92C1445.32 88.85 1460.66 83.75 1475.99 80.5C1491.32 77.24 1508.57 74.56 1521.99 72.45C1535.4 70.34 1546.9 68.88 1556.49 67.85C1566.07 66.81 1573.54 65.66 1579.48 66.24C1585.43 66.81 1590.6 68.92 1592.13 71.3C1593.67 73.67 1591.94 76.66 1588.68 80.5C1585.43 84.33 1577.57 89.7 1572.59 94.3C1567.6 98.9 1563.39 102.35 1558.79 108.1C1554.19 113.85 1550.35 124.58 1544.99 128.79C1539.62 133.01 1534.25 132.55 1526.59 133.39C1518.92 134.24 1509.34 132.51 1498.99 133.85C1488.64 135.2 1475.99 138.84 1464.49 141.44C1452.99 144.05 1440.34 147.46 1429.99 149.49C1419.64 151.53 1411.59 153.06 1402.39 153.63C1393.19 154.21 1385.53 154.02 1374.79 152.94C1364.06 151.87 1349.88 149.3 1337.99 147.19C1326.11 145.09 1315 142.67 1303.5 140.29C1292 137.92 1280.5 134.85 1269 132.93C1257.5 131.02 1243.31 131.02 1234.5 128.79C1225.68 126.57 1220.32 124.2 1216.1 119.6C1211.88 115 1210.35 107.9 1209.2 101.2C1208.05 94.49 1203.07 81.84 1209.2 79.35Z" fill="#030404"/>
<ellipse cx="1595.58" cy="163.29" rx="10" ry="9" fill="#040408"/>
<ellipse cx="1528.89" cy="249.54" rx="5" ry="4" fill="#06060c" fill-opacity="0.9"/><ellipse cx="1579.48" cy="259.89" rx="6" ry="7" fill="#06060c" fill-opacity="0.8"/><ellipse cx="1487.49" cy="264.49" rx="7" ry="6" fill="#06060c" fill-opacity="0.8"/>
<ellipse cx="1567.99" cy="142.59" rx="4" ry="2.4" fill="#3ee832" fill-opacity="0.95"/>
<ellipse cx="1577.18" cy="129.94" rx="2.4" ry="2" fill="#3ee832" fill-opacity="0.95"/>
<ellipse cx="1595.58" cy="121.9" rx="2.4" ry="1.6" fill="#3ee832" fill-opacity="0.95"/>
<ellipse cx="1600.18" cy="132.24" rx="2.8" ry="2" fill="#3ee832" fill-opacity="0.95"/>
<ellipse cx="1613.98" cy="160.99" rx="2.4" ry="3.2" fill="#3ee832" fill-opacity="0.95"/>
<ellipse cx="1602.48" cy="178.24" rx="3.2" ry="2.4" fill="#3ee832" fill-opacity="0.95"/>
<ellipse cx="1611.68" cy="185.14" rx="3.2" ry="2" fill="#3ee832" fill-opacity="0.95"/>
<ellipse cx="1590.98" cy="194.34" rx="4" ry="2.4" fill="#3ee832" fill-opacity="0.95"/>
<ellipse cx="1607.08" cy="193.19" rx="2.4" ry="2" fill="#3ee832" fill-opacity="0.95"/>
<ellipse cx="1620.88" cy="195.49" rx="3.2" ry="2.4" fill="#3ee832" fill-opacity="0.95"/>
<ellipse cx="1625.48" cy="173.64" rx="2.4" ry="2.4" fill="#3ee832" fill-opacity="0.95"/>
<ellipse cx="1634.68" cy="186.29" rx="2.4" ry="2.4" fill="#3ee832" fill-opacity="0.95"/>
<ellipse cx="1561.09" cy="203.54" rx="2.4" ry="2" fill="#3ee832" fill-opacity="0.95"/>
<ellipse cx="1458.74" cy="159.15" rx="2" ry="1.2" fill="#3ee832" fill-opacity="0.95"/>
<ellipse cx="1645.03" cy="215.04" rx="1.6" ry="3.2" fill="#3ee832" fill-opacity="0.95"/>
<ellipse cx="1558.79" cy="228.84" rx="1.6" ry="1.6" fill="#3ee832" fill-opacity="0.95"/>
</g>
<path d="M1213.8 174.79C1215.52 166.36 1218.78 157.93 1223 151.79C1227.22 145.66 1233.92 141.14 1239.1 137.99C1244.27 134.85 1247.91 132.74 1254.05 132.93C1260.18 133.13 1267.66 136.77 1275.9 139.14C1284.14 141.52 1294.68 144.89 1303.5 147.19C1312.31 149.49 1324.39 151.22 1328.79 152.94C1333.2 154.67 1332.24 156.01 1329.94 157.54C1327.64 159.08 1319.79 158.5 1315 162.14C1310.2 165.79 1304.45 171.92 1301.2 179.39C1297.94 186.87 1295.45 198.56 1295.45 206.99C1295.45 215.42 1297.94 223.09 1301.2 229.99C1304.45 236.89 1309.63 243.41 1315 248.39C1320.36 253.37 1331.09 256.63 1333.39 259.89C1335.69 263.15 1334.54 264.87 1328.79 267.94C1323.05 271.01 1308.86 275.49 1298.9 278.29C1288.93 281.09 1277.81 285.11 1269 284.73C1260.18 284.35 1253.28 281.28 1246 275.99C1238.72 270.7 1230.47 260.66 1225.3 252.99C1220.12 245.32 1217.06 238.42 1214.95 229.99C1212.84 221.56 1212.84 211.59 1212.65 202.39C1212.46 193.19 1212.07 183.23 1213.8 174.79Z" stroke="#fff" stroke-width="1.7" stroke-dasharray="9.5 5.5"/>
<path d="M1466.79 149.49C1465.64 147.19 1479.06 143.74 1487.49 140.29C1495.92 136.84 1507.04 133.01 1517.39 128.79C1527.74 124.58 1541.15 118.83 1549.59 115C1558.02 111.16 1561.09 107.14 1567.99 105.8C1574.89 104.45 1583.32 105.03 1590.98 106.95C1598.65 108.86 1607.08 112.89 1613.98 117.3C1620.88 121.7 1627.4 126.88 1632.38 133.39C1637.37 139.91 1641.39 147.96 1643.88 156.39C1646.37 164.83 1647.33 174.41 1647.33 183.99C1647.33 193.58 1646.37 204.69 1643.88 213.89C1641.39 223.09 1637.37 231.14 1632.38 239.19C1627.4 247.24 1620.88 256.06 1613.98 262.19C1607.08 268.32 1602.48 273.5 1590.98 275.99C1579.48 278.48 1560.32 277.71 1544.99 277.14C1529.65 276.56 1507.23 274.26 1498.99 272.54C1490.75 270.81 1492.85 270.81 1495.54 266.79C1498.22 262.76 1509.91 255.29 1515.09 248.39C1520.26 241.49 1523.71 233.06 1526.59 225.39C1529.46 217.72 1532.34 209.67 1532.34 202.39C1532.34 195.11 1529.85 187.83 1526.59 181.69C1523.33 175.56 1518.15 170.19 1512.79 165.59C1507.42 160.99 1502.05 156.78 1494.39 154.09C1486.72 151.41 1467.94 151.79 1466.79 149.49Z" stroke="#fff" stroke-width="1.7" stroke-dasharray="9.5 5.5"/>
<path d="M1224.84 82.11L1242.55 174.1L1280.04 178.93L1266.7 78.89" stroke="#fff" stroke-width="1.5"/>
<path d="M1504.74 73.14L1522.68 164.44L1559.48 170.19L1546.14 69.69" stroke="#fff" stroke-width="1.5"/>
<path d="M1604 296.7L1637 296.7" stroke="#fff" stroke-width="2.8"/>
<text transform="translate(1219.5,29.9) scale(0.919,1)" font-size="29" style="fill:#ea1530;stroke:#ea1530;stroke-width:0.5;stroke-linejoin:round;">GAD2 Cre::Chrimson</text>
<text transform="translate(1492,23) scale(1.117,1)" font-size="19" style="fill:#ea1530;stroke:#ea1530;stroke-width:0.5;stroke-linejoin:round;">IPN-LDTg</text>
<text transform="translate(1220.7,59.3) scale(0.934,1)" font-size="28" style="fill:#35e22f;stroke:#35e22f;stroke-width:0.5;stroke-linejoin:round;">ChAT</text>
<text transform="translate(1310.4,59.3) scale(0.963,1)" font-size="28" style="fill:#2b7fe6;stroke:#2b7fe6;stroke-width:0.5;stroke-linejoin:round;">DAPI</text>
<text transform="translate(1367.4,136.2) scale(0.907,1)" font-size="30" style="fill:#fff;stroke:#fff;stroke-width:0.5;stroke-linejoin:round;">LDTg</text>
</g>
</g>
<g id="bars">
<text transform="translate(-0.2,388) scale(0.875,1)" font-size="57">b</text>
<ellipse cx="94.5" cy="333" rx="5.3" ry="5.8" fill="#fff" stroke="#0a0f0f" stroke-width="1.85"/>
<rect x="89.5" y="351.2" width="10" height="11.2" fill="#aa679c" stroke="#0a0f0f" stroke-width="1.6"/>
<text transform="translate(124.3,341) scale(0.984,1)" font-size="22" style="stroke:#0a0a0a;stroke-width:0.5;stroke-linejoin:round;">mCherry</text>
<text transform="translate(124.3,364.7) scale(0.993,1)" font-size="22" style="stroke:#0a0a0a;stroke-width:0.5;stroke-linejoin:round;">Chrimson</text>
<rect x="131.8" y="409" width="125.5" height="285.5" fill="#fbe0d1"/>
<rect x="149.6" y="562.6" width="34.7" height="131.9" fill="#fff" stroke="#0a0f0f" stroke-width="1.8"/>
<rect x="204.6" y="589" width="34.7" height="105.5" fill="#fff" stroke="#0a0f0f" stroke-width="1.8"/>
<path d="M214 584.8H230M214 593H230M222 584.8V593" stroke="#000" stroke-width="2.2" fill="none"/>
<clipPath id="cb1"><rect x="150.2" y="562.6" width="33.5" height="131.9"/><rect x="205.2" y="589" width="33.5" height="105.5"/></clipPath>
<g fill="#a44e72" fill-opacity="0.85" stroke="#0a0f0f" stroke-width="1.8"><rect x="216.9" y="536.3" width="10.2" height="11.4"/><rect x="229.7" y="569.7" width="10.2" height="11.4"/><rect x="203.8" y="579.8" width="10.2" height="11.4"/><rect x="216.9" y="578.3" width="10.2" height="11.4"/><rect x="229.7" y="585.4" width="10.2" height="11.4"/><rect x="216.9" y="591.1" width="10.2" height="11.4"/><rect x="203.8" y="594.8" width="10.2" height="11.4"/><rect x="229.7" y="599.3" width="10.2" height="11.4"/><rect x="222.9" y="611.1" width="10.2" height="11.4"/><rect x="210.1" y="616.1" width="10.2" height="11.4"/></g>
<g fill="#c66ccf" fill-opacity="0.85" clip-path="url(#cb1)"><rect x="217.7" y="537.1" width="8.6" height="9.8"/><rect x="230.5" y="570.5" width="8.6" height="9.8"/><rect x="204.6" y="580.6" width="8.6" height="9.8"/><rect x="217.7" y="579.1" width="8.6" height="9.8"/><rect x="230.5" y="586.2" width="8.6" height="9.8"/><rect x="217.7" y="591.9" width="8.6" height="9.8"/><rect x="204.6" y="595.6" width="8.6" height="9.8"/><rect x="230.5" y="600.1" width="8.6" height="9.8"/><rect x="223.7" y="611.9" width="8.6" height="9.8"/><rect x="210.9" y="616.9" width="8.6" height="9.8"/></g>
<g fill="#fff" stroke="#0a0f0f" stroke-width="1.85"><ellipse cx="166.5" cy="489.8" rx="5.4" ry="5.8"/><ellipse cx="166.5" cy="528.4" rx="5.4" ry="5.8"/><ellipse cx="171" cy="553.9" rx="5.4" ry="5.8"/><ellipse cx="153.6" cy="558.9" rx="5.4" ry="5.8"/><ellipse cx="162.2" cy="563.9" rx="5.4" ry="5.8"/><ellipse cx="180" cy="571.3" rx="5.4" ry="5.8"/><ellipse cx="153.6" cy="575.2" rx="5.4" ry="5.8"/><ellipse cx="171" cy="572.4" rx="5.4" ry="5.8"/><ellipse cx="180" cy="584.4" rx="5.4" ry="5.8"/><ellipse cx="171" cy="591.9" rx="5.4" ry="5.8"/><ellipse cx="153.6" cy="594.4" rx="5.4" ry="5.8"/></g>
<path d="M158.5 553.3H174.5M158.5 571.3H174.5M166.5 553.3V571.3" stroke="#000" stroke-width="2.2" fill="none"/>
<path d="M130.8 409.3L130.8 695.7" stroke="#000" stroke-width="2.6"/>
<path d="M122 694.5L259.5 694.5" stroke="#000" stroke-width="2.8"/>
<path d="M122.3 410.5L130.8 410.5" stroke="#000" stroke-width="2.4"/>
<text transform="translate(119.4,421.63) scale(0.890,1)" font-size="29.3" text-anchor="end" style="stroke:#0a0a0a;stroke-width:0.4;stroke-linejoin:round;">150</text>
<path d="M122.3 505.3L130.8 505.3" stroke="#000" stroke-width="2.4"/>
<text transform="translate(119.4,516.43) scale(0.890,1)" font-size="29.3" text-anchor="end" style="stroke:#0a0a0a;stroke-width:0.4;stroke-linejoin:round;">100</text>
<path d="M122.3 600.3L130.8 600.3" stroke="#000" stroke-width="2.4"/>
<text transform="translate(119.4,611.43) scale(0.890,1)" font-size="29.3" text-anchor="end" style="stroke:#0a0a0a;stroke-width:0.4;stroke-linejoin:round;">50</text>
<path d="M122.3 694.5L130.8 694.5" stroke="#000" stroke-width="2.4"/>
<text transform="translate(119.4,705.63) scale(0.890,1)" font-size="29.3" text-anchor="end" style="stroke:#0a0a0a;stroke-width:0.4;stroke-linejoin:round;">0</text>
<text transform="translate(196.8,403.2) scale(0.960,1)" font-size="26" text-anchor="middle" style="stroke:#0a0a0a;stroke-width:0.5;stroke-linejoin:round;">Novel</text><text transform="translate(62.3,705) rotate(-90) scale(1.040,1)" font-size="30" style="stroke:#0a0a0a;stroke-width:0.5;stroke-linejoin:round;">Investigation time (s)</text><text transform="translate(197,448.5) scale(0.950,1)" font-size="34" text-anchor="middle" style="stroke:#0a0a0a;stroke-width:0.5;stroke-linejoin:round;">*</text><path d="M160 457.3L233.8 457.3" stroke="#000" stroke-width="1.6"/>
<rect x="381" y="410" width="123" height="285" fill="#fbe0d1"/>
<rect x="398.7" y="613" width="33.9" height="82" fill="#fff" stroke="#0a0f0f" stroke-width="1.8"/>
<rect x="452.9" y="593.5" width="33.7" height="101.5" fill="#fff" stroke="#0a0f0f" stroke-width="1.8"/>
<path d="M460.5 583H478.5M460.5 601H478.5M469.5 583V601" stroke="#000" stroke-width="2.2" fill="none"/>
<clipPath id="cb2"><rect x="399.3" y="613" width="32.7" height="82"/><rect x="453.5" y="593.5" width="32.5" height="101.5"/></clipPath>
<g fill="#a44e72" fill-opacity="0.85" stroke="#0a0f0f" stroke-width="1.8"><rect x="464.4" y="543.8" width="10.2" height="11.4"/><rect x="464.4" y="566.3" width="10.2" height="11.4"/><rect x="451.4" y="579.3" width="10.2" height="11.4"/><rect x="459.9" y="579.3" width="10.2" height="11.4"/><rect x="468.9" y="581.3" width="10.2" height="11.4"/><rect x="477.4" y="579.1" width="10.2" height="11.4"/><rect x="471.4" y="582.8" width="10.2" height="11.4"/><rect x="464.4" y="602.8" width="10.2" height="11.4"/><rect x="459.9" y="627.8" width="10.2" height="11.4"/><rect x="468.4" y="627.8" width="10.2" height="11.4"/></g>
<g fill="#c66ccf" fill-opacity="0.85" clip-path="url(#cb2)"><rect x="465.2" y="544.6" width="8.6" height="9.8"/><rect x="465.2" y="567.1" width="8.6" height="9.8"/><rect x="452.2" y="580.1" width="8.6" height="9.8"/><rect x="460.7" y="580.1" width="8.6" height="9.8"/><rect x="469.7" y="582.1" width="8.6" height="9.8"/><rect x="478.2" y="579.9" width="8.6" height="9.8"/><rect x="472.2" y="583.6" width="8.6" height="9.8"/><rect x="465.2" y="603.6" width="8.6" height="9.8"/><rect x="460.7" y="628.6" width="8.6" height="9.8"/><rect x="469.2" y="628.6" width="8.6" height="9.8"/></g>
<g fill="#fff" stroke="#0a0f0f" stroke-width="1.85"><ellipse cx="415.5" cy="570" rx="5.4" ry="5.8"/><ellipse cx="415.5" cy="588" rx="5.4" ry="5.8"/><ellipse cx="402.5" cy="605" rx="5.4" ry="5.8"/><ellipse cx="411.2" cy="603" rx="5.4" ry="5.8"/><ellipse cx="419.7" cy="603" rx="5.4" ry="5.8"/><ellipse cx="428.8" cy="604.5" rx="5.4" ry="5.8"/><ellipse cx="402.5" cy="622" rx="5.4" ry="5.8"/><ellipse cx="419.7" cy="626.5" rx="5.4" ry="5.8"/><ellipse cx="411.2" cy="629.5" rx="5.4" ry="5.8"/><ellipse cx="419.7" cy="642" rx="5.4" ry="5.8"/><ellipse cx="411.2" cy="645.5" rx="5.4" ry="5.8"/></g>
<path d="M405.8 605H423.8M405.8 619.5H423.8M414.8 605V619.5" stroke="#000" stroke-width="2.2" fill="none"/>
<path d="M379.8 410.3L379.8 696.2" stroke="#000" stroke-width="2.6"/>
<path d="M371.7 695L506.8 695" stroke="#000" stroke-width="2.8"/>
<path d="M371.3 411.5L379.8 411.5" stroke="#000" stroke-width="2.4"/>
<text transform="translate(368.4,422.63) scale(0.890,1)" font-size="29.3" text-anchor="end" style="stroke:#0a0a0a;stroke-width:0.4;stroke-linejoin:round;">150</text>
<path d="M371.3 506.5L379.8 506.5" stroke="#000" stroke-width="2.4"/>
<text transform="translate(368.4,517.63) scale(0.890,1)" font-size="29.3" text-anchor="end" style="stroke:#0a0a0a;stroke-width:0.4;stroke-linejoin:round;">100</text>
<path d="M371.3 601L379.8 601" stroke="#000" stroke-width="2.4"/>
<text transform="translate(368.4,612.13) scale(0.890,1)" font-size="29.3" text-anchor="end" style="stroke:#0a0a0a;stroke-width:0.4;stroke-linejoin:round;">50</text>
<path d="M371.3 695L379.8 695" stroke="#000" stroke-width="2.4"/>
<text transform="translate(368.4,706.13) scale(0.890,1)" font-size="29.3" text-anchor="end" style="stroke:#0a0a0a;stroke-width:0.4;stroke-linejoin:round;">0</text>
<text transform="translate(446.7,407.3) scale(0.953,1)" font-size="26" text-anchor="middle" style="stroke:#0a0a0a;stroke-width:0.5;stroke-linejoin:round;">Familiar</text><text transform="translate(313.3,705) rotate(-90) scale(1.040,1)" font-size="30" style="stroke:#0a0a0a;stroke-width:0.5;stroke-linejoin:round;">Investigation time (s)</text><text transform="translate(452,488.4)" font-size="28" text-anchor="middle" style="font-weight:400;">ns</text><path d="M409.7 501.8L481.2 501.8" stroke="#000" stroke-width="1.6"/>
<text transform="translate(518.5,388) scale(0.875,1)" font-size="57">c</text>
<rect x="626.2" y="412" width="151.5" height="283" fill="#fbe0d1"/>
<rect x="645.4" y="549" width="41.7" height="53" fill="#fff" stroke="#0a0f0f" stroke-width="1.8"/>
<path d="M722 592H744M722 609H744M733 592V609" stroke="#000" stroke-width="2.2" fill="none"/>
<clipPath id="cb3"><rect x="646" y="549" width="40.5" height="53"/></clipPath>
<g fill="#a44e72" fill-opacity="0.85" stroke="#0a0f0f" stroke-width="1.8"><rect x="727.9" y="548.8" width="10.2" height="11.4"/><rect x="727.9" y="571.8" width="10.2" height="11.4"/><rect x="710.7" y="577.1" width="10.2" height="11.4"/><rect x="727.9" y="586.3" width="10.2" height="11.4"/><rect x="745.2" y="586.8" width="10.2" height="11.4"/><rect x="710.7" y="592.1" width="10.2" height="11.4"/><rect x="745.2" y="598.8" width="10.2" height="11.4"/><rect x="727.9" y="619.8" width="10.2" height="11.4"/><rect x="745.2" y="629.8" width="10.2" height="11.4"/><rect x="710.7" y="636.6" width="10.2" height="11.4"/></g>
<g fill="#c66ccf" fill-opacity="0.85" clip-path="url(#cb3)"><rect x="728.7" y="549.6" width="8.6" height="9.8"/><rect x="728.7" y="572.6" width="8.6" height="9.8"/><rect x="711.5" y="577.9" width="8.6" height="9.8"/><rect x="728.7" y="587.1" width="8.6" height="9.8"/><rect x="746" y="587.6" width="8.6" height="9.8"/><rect x="711.5" y="592.9" width="8.6" height="9.8"/><rect x="746" y="599.6" width="8.6" height="9.8"/><rect x="728.7" y="620.6" width="8.6" height="9.8"/><rect x="746" y="630.6" width="8.6" height="9.8"/><rect x="711.5" y="637.4" width="8.6" height="9.8"/></g>
<g fill="#fff" stroke="#0a0f0f" stroke-width="1.85"><ellipse cx="666" cy="486.8" rx="5.4" ry="5.8"/><ellipse cx="666" cy="504.8" rx="5.4" ry="5.8"/><ellipse cx="666" cy="522" rx="5.4" ry="5.8"/><ellipse cx="649" cy="533.3" rx="5.4" ry="5.8"/><ellipse cx="666" cy="534.5" rx="5.4" ry="5.8"/><ellipse cx="683.5" cy="543.5" rx="5.4" ry="5.8"/><ellipse cx="649" cy="551.7" rx="5.4" ry="5.8"/><ellipse cx="666" cy="569.7" rx="5.4" ry="5.8"/><ellipse cx="657.3" cy="586.3" rx="5.4" ry="5.8"/><ellipse cx="674.8" cy="590" rx="5.4" ry="5.8"/><ellipse cx="666" cy="607.8" rx="5.4" ry="5.8"/></g>
<path d="M655 536.8H677M655 559.5H677M666 536.8V559.5" stroke="#000" stroke-width="2.2" fill="none"/>
<path d="M621.7 414.6L621.7 696.2" stroke="#000" stroke-width="2.6"/>
<path d="M614 695L779 695" stroke="#000" stroke-width="2.8"/>
<path d="M610.7 602L778 602" stroke="#000" stroke-width="2.8"/>
<path d="M613.2 415.8L621.7 415.8" stroke="#000" stroke-width="2.4"/>
<text transform="translate(610.3,426.93) scale(0.890,1)" font-size="29.3" text-anchor="end" style="stroke:#0a0a0a;stroke-width:0.4;stroke-linejoin:round;">0.8</text>
<path d="M613.2 509L621.7 509" stroke="#000" stroke-width="2.4"/>
<text transform="translate(610.3,520.13) scale(0.890,1)" font-size="29.3" text-anchor="end" style="stroke:#0a0a0a;stroke-width:0.4;stroke-linejoin:round;">0.4</text>
<path d="M613.2 602L621.7 602" stroke="#000" stroke-width="2.4"/>
<text transform="translate(610.3,613.13) scale(0.890,1)" font-size="29.3" text-anchor="end" style="stroke:#0a0a0a;stroke-width:0.4;stroke-linejoin:round;">0.0</text>
<path d="M613.2 695L621.7 695" stroke="#000" stroke-width="2.4"/>
<text transform="translate(610.3,706.13) scale(0.890,1)" font-size="29.3" text-anchor="end" style="stroke:#0a0a0a;stroke-width:0.4;stroke-linejoin:round;">-0.4</text>
<text transform="translate(553.4,664) rotate(-90) scale(1.014,1)" font-size="29" style="stroke:#0a0a0a;stroke-width:0.5;stroke-linejoin:round;">Preference ratio</text><text transform="translate(735.5,521) scale(0.900,1)" font-size="36" text-anchor="middle" style="stroke:#0a0a0a;stroke-width:0.5;stroke-linejoin:round;">**</text><text transform="translate(677.5,709.5) scale(0.940,1) rotate(-45)" font-size="27" text-anchor="end" style="stroke:#0a0a0a;stroke-width:0.5;stroke-linejoin:round;">mCherry</text><text transform="translate(743,709.5) scale(0.940,1) rotate(-45)" font-size="27" text-anchor="end" style="stroke:#0a0a0a;stroke-width:0.5;stroke-linejoin:round;">Chrimson</text>
</g>
<g id="bars2">
<text transform="translate(795.5,388) scale(0.875,1)" font-size="57">d</text>
<ellipse cx="868.3" cy="339.4" rx="5.3" ry="5.8" fill="#fff" stroke="#0a0f0f" stroke-width="1.85"/>
<rect x="863.3" y="357.8" width="10" height="11.2" fill="#aa679c" stroke="#0a0f0f" stroke-width="1.6"/>
<text transform="translate(899.7,346.5) scale(0.989,1)" font-size="23" style="stroke:#0a0a0a;stroke-width:0.5;stroke-linejoin:round;">mCherry</text>
<text transform="translate(899.7,370.8) scale(0.997,1)" font-size="23" style="stroke:#0a0a0a;stroke-width:0.5;stroke-linejoin:round;">Chrimson</text>
<rect x="899" y="413" width="131.5" height="283.2" fill="#fbe0d1"/>
<rect x="907.7" y="571" width="15.4" height="125.2" fill="#fff" stroke="#0a0f0f" stroke-width="1.8"/>
<rect x="934.9" y="613" width="15.4" height="83.2" fill="#fff" stroke="#0a0f0f" stroke-width="1.8"/>
<rect x="979.9" y="624.5" width="15.2" height="71.7" fill="#fff" stroke="#0a0f0f" stroke-width="1.8"/>
<rect x="1006.4" y="632" width="15.9" height="64.2" fill="#fff" stroke="#0a0f0f" stroke-width="1.8"/>
<path d="M938 595.5H947M938 620H947M942.5 595.5V620" stroke="#000" stroke-width="2.2" fill="none"/>
<path d="M1009.5 627H1018.5M1009.5 640H1018.5M1014 627V640" stroke="#000" stroke-width="2.2" fill="none"/>
<clipPath id="cb4"><rect x="908.3" y="571" width="14.2" height="125.2"/><rect x="935.5" y="613" width="14.2" height="83.2"/><rect x="980.5" y="624.5" width="14" height="71.7"/><rect x="1007" y="632" width="14.7" height="64.2"/></clipPath>
<g fill="#a44e72" fill-opacity="0.85" stroke="#0a0f0f" stroke-width="1.8"><rect x="933.9" y="533.3" width="10.2" height="11.4"/><rect x="940.6" y="539.1" width="10.2" height="11.4"/><rect x="937.4" y="563" width="10.2" height="11.4"/><rect x="937.4" y="579.8" width="10.2" height="11.4"/><rect x="937.4" y="599.8" width="10.2" height="11.4"/><rect x="933.9" y="618.3" width="10.2" height="11.4"/><rect x="940.6" y="620.8" width="10.2" height="11.4"/><rect x="937.4" y="657.8" width="10.2" height="11.4"/><rect x="940.6" y="671.3" width="10.2" height="11.4"/><rect x="933.9" y="676.8" width="10.2" height="11.4"/><rect x="1008.9" y="593.3" width="10.2" height="11.4"/><rect x="1008.9" y="617.3" width="10.2" height="11.4"/><rect x="1005.4" y="620.8" width="10.2" height="11.4"/><rect x="1012.4" y="626.3" width="10.2" height="11.4"/><rect x="1008.9" y="630.3" width="10.2" height="11.4"/><rect x="1008.9" y="636.3" width="10.2" height="11.4"/><rect x="1012.4" y="638.3" width="10.2" height="11.4"/><rect x="1005.4" y="643.3" width="10.2" height="11.4"/><rect x="1008.9" y="646.3" width="10.2" height="11.4"/><rect x="1005.4" y="649.3" width="10.2" height="11.4"/><rect x="1012.4" y="647.3" width="10.2" height="11.4"/></g>
<g fill="#c66ccf" fill-opacity="0.85" clip-path="url(#cb4)"><rect x="934.7" y="534.1" width="8.6" height="9.8"/><rect x="941.4" y="539.9" width="8.6" height="9.8"/><rect x="938.2" y="563.8" width="8.6" height="9.8"/><rect x="938.2" y="580.6" width="8.6" height="9.8"/><rect x="938.2" y="600.6" width="8.6" height="9.8"/><rect x="934.7" y="619.1" width="8.6" height="9.8"/><rect x="941.4" y="621.6" width="8.6" height="9.8"/><rect x="938.2" y="658.6" width="8.6" height="9.8"/><rect x="941.4" y="672.1" width="8.6" height="9.8"/><rect x="934.7" y="677.6" width="8.6" height="9.8"/><rect x="1009.7" y="594.1" width="8.6" height="9.8"/><rect x="1009.7" y="618.1" width="8.6" height="9.8"/><rect x="1006.2" y="621.6" width="8.6" height="9.8"/><rect x="1013.2" y="627.1" width="8.6" height="9.8"/><rect x="1009.7" y="631.1" width="8.6" height="9.8"/><rect x="1009.7" y="637.1" width="8.6" height="9.8"/><rect x="1013.2" y="639.1" width="8.6" height="9.8"/><rect x="1006.2" y="644.1" width="8.6" height="9.8"/><rect x="1009.7" y="647.1" width="8.6" height="9.8"/><rect x="1006.2" y="650.1" width="8.6" height="9.8"/><rect x="1013.2" y="648.1" width="8.6" height="9.8"/></g>
<g fill="#fff" stroke="#0a0f0f" stroke-width="1.85"><ellipse cx="915.2" cy="499.5" rx="5.4" ry="5.8"/><ellipse cx="915.2" cy="511.8" rx="5.4" ry="5.8"/><ellipse cx="915.2" cy="531.7" rx="5.4" ry="5.8"/><ellipse cx="915.2" cy="551.5" rx="5.4" ry="5.8"/><ellipse cx="912.2" cy="569" rx="5.4" ry="5.8"/><ellipse cx="919" cy="572" rx="5.4" ry="5.8"/><ellipse cx="915.2" cy="580" rx="5.4" ry="5.8"/><ellipse cx="919" cy="584.5" rx="5.4" ry="5.8"/><ellipse cx="915.2" cy="592.5" rx="5.4" ry="5.8"/><ellipse cx="915.2" cy="639" rx="5.4" ry="5.8"/><ellipse cx="915.2" cy="658.5" rx="5.4" ry="5.8"/><ellipse cx="987.2" cy="593" rx="5.4" ry="5.8"/><ellipse cx="984" cy="598.5" rx="5.4" ry="5.8"/><ellipse cx="990.5" cy="602" rx="5.4" ry="5.8"/><ellipse cx="987.2" cy="607.5" rx="5.4" ry="5.8"/><ellipse cx="987.2" cy="633" rx="5.4" ry="5.8"/><ellipse cx="990.5" cy="642.5" rx="5.4" ry="5.8"/><ellipse cx="984" cy="648.5" rx="5.4" ry="5.8"/><ellipse cx="987.2" cy="662" rx="5.4" ry="5.8"/></g>
<path d="M910.7 557.5H919.7M910.7 586.5H919.7M915.2 557.5V586.5" stroke="#000" stroke-width="2.2" fill="none"/>
<path d="M982.7 616H991.7M982.7 630H991.7M987.2 616V630" stroke="#000" stroke-width="2.2" fill="none"/>
<path d="M897.5 413.5L897.5 697.4" stroke="#000" stroke-width="2.6"/>
<path d="M889.2 696.2L1033.2 696.2" stroke="#000" stroke-width="2.8"/>
<path d="M889 414.7L897.5 414.7" stroke="#000" stroke-width="2.4"/>
<text transform="translate(886.1,425.83) scale(0.890,1)" font-size="29.3" text-anchor="end" style="stroke:#0a0a0a;stroke-width:0.4;stroke-linejoin:round;">15</text>
<path d="M889 508.5L897.5 508.5" stroke="#000" stroke-width="2.4"/>
<text transform="translate(886.1,519.63) scale(0.890,1)" font-size="29.3" text-anchor="end" style="stroke:#0a0a0a;stroke-width:0.4;stroke-linejoin:round;">10</text>
<path d="M889 602L897.5 602" stroke="#000" stroke-width="2.4"/>
<text transform="translate(886.1,613.13) scale(0.890,1)" font-size="29.3" text-anchor="end" style="stroke:#0a0a0a;stroke-width:0.4;stroke-linejoin:round;">5</text>
<path d="M889 696.2L897.5 696.2" stroke="#000" stroke-width="2.4"/>
<text transform="translate(886.1,707.33) scale(0.890,1)" font-size="29.3" text-anchor="end" style="stroke:#0a0a0a;stroke-width:0.4;stroke-linejoin:round;">0</text>
<text transform="translate(967,405.6) scale(0.960,1)" font-size="26" text-anchor="middle" style="stroke:#0a0a0a;stroke-width:0.5;stroke-linejoin:round;">Novel</text><text transform="translate(841.2,660) rotate(-90) scale(1.023,1)" font-size="30" style="stroke:#0a0a0a;stroke-width:0.5;stroke-linejoin:round;">Bout length (s)</text><text transform="translate(967.3,460.4) scale(1.050,1)" font-size="31" text-anchor="middle" stroke="#0a0a0a" stroke-width="0.7">#</text><path d="M929 468L1005.8 468" stroke="#000" stroke-width="1.6"/><text transform="translate(933.5,717.5) scale(0.940,1) rotate(-45)" font-size="28" text-anchor="end" style="stroke:#0a0a0a;stroke-width:0.5;stroke-linejoin:round;">First</text><text transform="translate(1008.5,717.5) scale(0.940,1) rotate(-45)" font-size="28" text-anchor="end" style="stroke:#0a0a0a;stroke-width:0.5;stroke-linejoin:round;">Others</text>
<rect x="1128.5" y="413" width="131" height="283.2" fill="#fbe0d1"/>
<rect x="1136" y="642.8" width="16.1" height="53.4" fill="#fff" stroke="#0a0f0f" stroke-width="1.8"/>
<rect x="1163.7" y="626" width="16.1" height="70.2" fill="#fff" stroke="#0a0f0f" stroke-width="1.8"/>
<rect x="1208.7" y="641" width="16.1" height="55.2" fill="#fff" stroke="#0a0f0f" stroke-width="1.8"/>
<rect x="1235.7" y="626" width="16.1" height="70.2" fill="#fff" stroke="#0a0f0f" stroke-width="1.8"/>
<path d="M1166.81 619.16H1175.81M1166.81 632.68H1175.81M1171.31 619.16V632.68" stroke="#000" stroke-width="2.2" fill="none"/>
<path d="M1238.78 619.16H1247.78M1238.78 632.68H1247.78M1243.28 619.16V632.68" stroke="#000" stroke-width="2.2" fill="none"/>
<clipPath id="cb5"><rect x="1136.6" y="642.8" width="14.9" height="53.4"/><rect x="1164.3" y="626" width="14.9" height="70.2"/><rect x="1209.3" y="641" width="14.9" height="55.2"/><rect x="1236.3" y="626" width="14.9" height="70.2"/></clipPath>
<g fill="#a44e72" fill-opacity="0.85" stroke="#0a0f0f" stroke-width="1.8"><rect x="1166.21" y="562.78" width="10.2" height="11.4"/><rect x="1166.21" y="595.56" width="10.2" height="11.4"/><rect x="1166.21" y="612.45" width="10.2" height="11.4"/><rect x="1166.21" y="618.53" width="10.2" height="11.4"/><rect x="1162.15" y="628.67" width="10.2" height="11.4"/><rect x="1170.6" y="626.98" width="10.2" height="11.4"/><rect x="1166.21" y="637.12" width="10.2" height="11.4"/><rect x="1166.21" y="648.27" width="10.2" height="11.4"/><rect x="1166.21" y="664.15" width="10.2" height="11.4"/><rect x="1238.18" y="573.59" width="10.2" height="11.4"/><rect x="1238.18" y="598.93" width="10.2" height="11.4"/><rect x="1238.18" y="605.02" width="10.2" height="11.4"/><rect x="1238.18" y="616.84" width="10.2" height="11.4"/><rect x="1234.8" y="626.98" width="10.2" height="11.4"/><rect x="1241.55" y="628.67" width="10.2" height="11.4"/><rect x="1238.18" y="630.36" width="10.2" height="11.4"/><rect x="1238.18" y="637.12" width="10.2" height="11.4"/><rect x="1234.8" y="638.8" width="10.2" height="11.4"/><rect x="1241.55" y="638.8" width="10.2" height="11.4"/></g>
<g fill="#c66ccf" fill-opacity="0.85" clip-path="url(#cb5)"><rect x="1167.01" y="563.58" width="8.6" height="9.8"/><rect x="1167.01" y="596.36" width="8.6" height="9.8"/><rect x="1167.01" y="613.25" width="8.6" height="9.8"/><rect x="1167.01" y="619.33" width="8.6" height="9.8"/><rect x="1162.95" y="629.47" width="8.6" height="9.8"/><rect x="1171.4" y="627.78" width="8.6" height="9.8"/><rect x="1167.01" y="637.92" width="8.6" height="9.8"/><rect x="1167.01" y="649.07" width="8.6" height="9.8"/><rect x="1167.01" y="664.95" width="8.6" height="9.8"/><rect x="1238.98" y="574.39" width="8.6" height="9.8"/><rect x="1238.98" y="599.73" width="8.6" height="9.8"/><rect x="1238.98" y="605.82" width="8.6" height="9.8"/><rect x="1238.98" y="617.64" width="8.6" height="9.8"/><rect x="1235.6" y="627.78" width="8.6" height="9.8"/><rect x="1242.35" y="629.47" width="8.6" height="9.8"/><rect x="1238.98" y="631.16" width="8.6" height="9.8"/><rect x="1238.98" y="637.92" width="8.6" height="9.8"/><rect x="1235.6" y="639.6" width="8.6" height="9.8"/><rect x="1242.35" y="639.6" width="8.6" height="9.8"/></g>
<g fill="#fff" stroke="#0a0f0f" stroke-width="1.85"><ellipse cx="1144.28" cy="612.41" rx="5.4" ry="5.8"/><ellipse cx="1140.22" cy="625.92" rx="5.4" ry="5.8"/><ellipse cx="1148.67" cy="626.93" rx="5.4" ry="5.8"/><ellipse cx="1144.28" cy="622.54" rx="5.4" ry="5.8"/><ellipse cx="1144.28" cy="642.82" rx="5.4" ry="5.8"/><ellipse cx="1140.22" cy="664.78" rx="5.4" ry="5.8"/><ellipse cx="1148.67" cy="663.09" rx="5.4" ry="5.8"/><ellipse cx="1144.28" cy="634.37" rx="5.4" ry="5.8"/><ellipse cx="1144.28" cy="651.26" rx="5.4" ry="5.8"/><ellipse cx="1216.25" cy="598.21" rx="5.4" ry="5.8"/><ellipse cx="1216.25" cy="613.08" rx="5.4" ry="5.8"/><ellipse cx="1212.19" cy="630.99" rx="5.4" ry="5.8"/><ellipse cx="1220.3" cy="636.06" rx="5.4" ry="5.8"/><ellipse cx="1216.25" cy="630.99" rx="5.4" ry="5.8"/><ellipse cx="1216.25" cy="644.5" rx="5.4" ry="5.8"/><ellipse cx="1220.3" cy="659.71" rx="5.4" ry="5.8"/><ellipse cx="1216.25" cy="661.4" rx="5.4" ry="5.8"/><ellipse cx="1216.25" cy="672.21" rx="5.4" ry="5.8"/><ellipse cx="1216.25" cy="651.26" rx="5.4" ry="5.8"/></g>
<path d="M1139.78 636.06H1148.78M1139.78 647.88H1148.78M1144.28 636.06V647.88" stroke="#000" stroke-width="2.2" fill="none"/>
<path d="M1211.75 634.37H1220.75M1211.75 647.88H1220.75M1216.25 634.37V647.88" stroke="#000" stroke-width="2.2" fill="none"/>
<path d="M1127.4 413.5L1127.4 697.4" stroke="#000" stroke-width="2.6"/>
<path d="M1118 696.2L1261.8 696.2" stroke="#000" stroke-width="2.8"/>
<path d="M1118.9 414.7L1127.4 414.7" stroke="#000" stroke-width="2.4"/>
<text transform="translate(1116,425.83) scale(0.890,1)" font-size="29.3" text-anchor="end" style="stroke:#0a0a0a;stroke-width:0.4;stroke-linejoin:round;">15</text>
<path d="M1118.9 508.5L1127.4 508.5" stroke="#000" stroke-width="2.4"/>
<text transform="translate(1116,519.63) scale(0.890,1)" font-size="29.3" text-anchor="end" style="stroke:#0a0a0a;stroke-width:0.4;stroke-linejoin:round;">10</text>
<path d="M1118.9 602L1127.4 602" stroke="#000" stroke-width="2.4"/>
<text transform="translate(1116,613.13) scale(0.890,1)" font-size="29.3" text-anchor="end" style="stroke:#0a0a0a;stroke-width:0.4;stroke-linejoin:round;">5</text>
<path d="M1118.9 696.2L1127.4 696.2" stroke="#000" stroke-width="2.4"/>
<text transform="translate(1116,707.33) scale(0.890,1)" font-size="29.3" text-anchor="end" style="stroke:#0a0a0a;stroke-width:0.4;stroke-linejoin:round;">0</text>
<text transform="translate(1196.8,405.6) scale(0.995,1)" font-size="27" text-anchor="middle" style="stroke:#0a0a0a;stroke-width:0.5;stroke-linejoin:round;">Familiar</text><text transform="translate(1069.3,660) rotate(-90) scale(1.023,1)" font-size="30" style="stroke:#0a0a0a;stroke-width:0.5;stroke-linejoin:round;">Bout length (s)</text><text transform="translate(1197,491.8)" font-size="30" text-anchor="middle" style="font-weight:400;">ns</text><path d="M1159.5 503.3L1236.5 503.3" stroke="#000" stroke-width="1.6"/><text transform="translate(1161.5,717.5) scale(0.940,1) rotate(-45)" font-size="28" text-anchor="end" style="stroke:#0a0a0a;stroke-width:0.5;stroke-linejoin:round;">First</text><text transform="translate(1237.5,717.5) scale(0.940,1) rotate(-45)" font-size="28" text-anchor="end" style="stroke:#0a0a0a;stroke-width:0.5;stroke-linejoin:round;">Others</text>
<text transform="translate(1268.5,388) scale(0.875,1)" font-size="57">e</text>
<ellipse cx="1330.1" cy="337.7" rx="5.3" ry="5.8" fill="#fff" stroke="#0a0f0f" stroke-width="1.85"/>
<rect x="1325.1" y="356.1" width="10" height="11.2" fill="#aa679c" stroke="#0a0f0f" stroke-width="1.6"/>
<text transform="translate(1360.2,345.5) scale(0.984,1)" font-size="22" style="stroke:#0a0a0a;stroke-width:0.5;stroke-linejoin:round;">mCherry</text>
<text transform="translate(1360.2,369.8) scale(0.993,1)" font-size="22" style="stroke:#0a0a0a;stroke-width:0.5;stroke-linejoin:round;">Chrimson</text>
<rect x="1361.5" y="413" width="124.5" height="283.2" fill="#fbe0d1"/>
<rect x="1378.6" y="550.6" width="34.4" height="145.6" fill="#fff" stroke="#0a0f0f" stroke-width="1.8"/>
<rect x="1433.4" y="560.7" width="34.3" height="135.5" fill="#fff" stroke="#0a0f0f" stroke-width="1.8"/>
<path d="M1441.9 549.22H1458.9M1441.9 571.86H1458.9M1450.4 549.22V571.86" stroke="#000" stroke-width="2.2" fill="none"/>
<clipPath id="cb6"><rect x="1379.2" y="550.6" width="33.2" height="145.6"/><rect x="1434" y="560.7" width="33.1" height="135.5"/></clipPath>
<g fill="#a44e72" fill-opacity="0.85" stroke="#0a0f0f" stroke-width="1.8"><rect x="1432.46" y="507.03" width="10.2" height="11.4"/><rect x="1458.48" y="507.03" width="10.2" height="11.4"/><rect x="1445.3" y="521.22" width="10.2" height="11.4"/><rect x="1432.46" y="549.27" width="10.2" height="11.4"/><rect x="1445.3" y="549.27" width="10.2" height="11.4"/><rect x="1458.48" y="549.27" width="10.2" height="11.4"/><rect x="1432.46" y="563.79" width="10.2" height="11.4"/><rect x="1458.48" y="563.79" width="10.2" height="11.4"/><rect x="1445.3" y="577.31" width="10.2" height="11.4"/><rect x="1432.46" y="605.02" width="10.2" height="11.4"/><rect x="1458.48" y="605.02" width="10.2" height="11.4"/></g>
<g fill="#c66ccf" fill-opacity="0.85" clip-path="url(#cb6)"><rect x="1433.26" y="507.83" width="8.6" height="9.8"/><rect x="1459.28" y="507.83" width="8.6" height="9.8"/><rect x="1446.1" y="522.02" width="8.6" height="9.8"/><rect x="1433.26" y="550.07" width="8.6" height="9.8"/><rect x="1446.1" y="550.07" width="8.6" height="9.8"/><rect x="1459.28" y="550.07" width="8.6" height="9.8"/><rect x="1433.26" y="564.59" width="8.6" height="9.8"/><rect x="1459.28" y="564.59" width="8.6" height="9.8"/><rect x="1446.1" y="578.11" width="8.6" height="9.8"/><rect x="1433.26" y="605.82" width="8.6" height="9.8"/><rect x="1459.28" y="605.82" width="8.6" height="9.8"/></g>
<g fill="#fff" stroke="#0a0f0f" stroke-width="1.85"><ellipse cx="1382.82" cy="526.92" rx="5.4" ry="5.8"/><ellipse cx="1391.27" cy="526.92" rx="5.4" ry="5.8"/><ellipse cx="1399.72" cy="526.92" rx="5.4" ry="5.8"/><ellipse cx="1408.16" cy="526.92" rx="5.4" ry="5.8"/><ellipse cx="1395.32" cy="540.77" rx="5.4" ry="5.8"/><ellipse cx="1388.57" cy="569.49" rx="5.4" ry="5.8"/><ellipse cx="1402.08" cy="569.49" rx="5.4" ry="5.8"/><ellipse cx="1391.27" cy="583.01" rx="5.4" ry="5.8"/><ellipse cx="1399.72" cy="583.01" rx="5.4" ry="5.8"/></g>
<path d="M1386.82 542.46H1403.82M1386.82 557.67H1403.82M1395.32 542.46V557.67" stroke="#000" stroke-width="2.2" fill="none"/>
<path d="M1360.5 413.5L1360.5 697.4" stroke="#000" stroke-width="2.6"/>
<path d="M1351.4 696.2L1488.2 696.2" stroke="#000" stroke-width="2.8"/>
<path d="M1352 414.7L1360.5 414.7" stroke="#000" stroke-width="2.4"/>
<text transform="translate(1349.1,425.83) scale(0.890,1)" font-size="29.3" text-anchor="end" style="stroke:#0a0a0a;stroke-width:0.4;stroke-linejoin:round;">20</text>
<path d="M1352 484.7L1360.5 484.7" stroke="#000" stroke-width="2.4"/>
<text transform="translate(1349.1,495.83) scale(0.890,1)" font-size="29.3" text-anchor="end" style="stroke:#0a0a0a;stroke-width:0.4;stroke-linejoin:round;">15</text>
<path d="M1352 555L1360.5 555" stroke="#000" stroke-width="2.4"/>
<text transform="translate(1349.1,566.13) scale(0.890,1)" font-size="29.3" text-anchor="end" style="stroke:#0a0a0a;stroke-width:0.4;stroke-linejoin:round;">10</text>
<path d="M1352 625.2L1360.5 625.2" stroke="#000" stroke-width="2.4"/>
<text transform="translate(1349.1,636.33) scale(0.890,1)" font-size="29.3" text-anchor="end" style="stroke:#0a0a0a;stroke-width:0.4;stroke-linejoin:round;">5</text>
<path d="M1352 696.2L1360.5 696.2" stroke="#000" stroke-width="2.4"/>
<text transform="translate(1349.1,707.33) scale(0.890,1)" font-size="29.3" text-anchor="end" style="stroke:#0a0a0a;stroke-width:0.4;stroke-linejoin:round;">0</text>
<text transform="translate(1425,405.6) scale(0.960,1)" font-size="26" text-anchor="middle" style="stroke:#0a0a0a;stroke-width:0.5;stroke-linejoin:round;">Novel</text><text transform="translate(1305.8,599) rotate(-90) scale(1.018,1)" font-size="30" style="stroke:#0a0a0a;stroke-width:0.5;stroke-linejoin:round;">Bout #</text><text transform="translate(1426.4,460.4)" font-size="32" text-anchor="middle" style="font-weight:400;">ns</text><path d="M1389.6 477.6L1462.2 477.6" stroke="#000" stroke-width="1.6"/>
<rect x="1585" y="413" width="122" height="283.2" fill="#fbe0d1"/>
<rect x="1602.5" y="559.4" width="33.7" height="136.8" fill="#fff" stroke="#0a0f0f" stroke-width="1.8"/>
<rect x="1656.6" y="575.2" width="33.7" height="121" fill="#fff" stroke="#0a0f0f" stroke-width="1.8"/>
<path d="M1664.77 561.72H1681.77M1664.77 588.75H1681.77M1673.27 561.72V588.75" stroke="#000" stroke-width="2.2" fill="none"/>
<clipPath id="cb7"><rect x="1603.1" y="559.4" width="32.5" height="136.8"/><rect x="1657.2" y="575.2" width="32.5" height="121"/></clipPath>
<g fill="#a44e72" fill-opacity="0.85" stroke="#0a0f0f" stroke-width="1.8"><rect x="1668.17" y="507.03" width="10.2" height="11.4"/><rect x="1668.17" y="521.22" width="10.2" height="11.4"/><rect x="1668.17" y="535.07" width="10.2" height="11.4"/><rect x="1654.99" y="549.27" width="10.2" height="11.4"/><rect x="1681.01" y="549.27" width="10.2" height="11.4"/><rect x="1668.17" y="577.31" width="10.2" height="11.4"/><rect x="1668.17" y="591.5" width="10.2" height="11.4"/><rect x="1668.17" y="605.02" width="10.2" height="11.4"/><rect x="1668.17" y="619.21" width="10.2" height="11.4"/><rect x="1668.17" y="633.74" width="10.2" height="11.4"/></g>
<g fill="#c66ccf" fill-opacity="0.85" clip-path="url(#cb7)"><rect x="1668.97" y="507.83" width="8.6" height="9.8"/><rect x="1668.97" y="522.02" width="8.6" height="9.8"/><rect x="1668.97" y="535.87" width="8.6" height="9.8"/><rect x="1655.79" y="550.07" width="8.6" height="9.8"/><rect x="1681.81" y="550.07" width="8.6" height="9.8"/><rect x="1668.97" y="578.11" width="8.6" height="9.8"/><rect x="1668.97" y="592.3" width="8.6" height="9.8"/><rect x="1668.97" y="605.82" width="8.6" height="9.8"/><rect x="1668.97" y="620.01" width="8.6" height="9.8"/><rect x="1668.97" y="634.54" width="8.6" height="9.8"/></g>
<g fill="#fff" stroke="#0a0f0f" stroke-width="1.85"><ellipse cx="1614.48" cy="512.73" rx="5.4" ry="5.8"/><ellipse cx="1623.6" cy="512.73" rx="5.4" ry="5.8"/><ellipse cx="1614.48" cy="541.45" rx="5.4" ry="5.8"/><ellipse cx="1623.6" cy="541.45" rx="5.4" ry="5.8"/><ellipse cx="1605.69" cy="569.49" rx="5.4" ry="5.8"/><ellipse cx="1614.48" cy="569.49" rx="5.4" ry="5.8"/><ellipse cx="1623.6" cy="569.49" rx="5.4" ry="5.8"/><ellipse cx="1632.05" cy="569.49" rx="5.4" ry="5.8"/><ellipse cx="1614.48" cy="583.01" rx="5.4" ry="5.8"/><ellipse cx="1623.6" cy="583.01" rx="5.4" ry="5.8"/><ellipse cx="1619.21" cy="597.2" rx="5.4" ry="5.8"/></g>
<path d="M1610.71 549.9H1627.71M1610.71 568.48H1627.71M1619.21 549.9V568.48" stroke="#000" stroke-width="2.2" fill="none"/>
<path d="M1584 413.5L1584 697.4" stroke="#000" stroke-width="2.6"/>
<path d="M1575.6 696.2L1710.4 696.2" stroke="#000" stroke-width="2.8"/>
<path d="M1575.5 414.7L1584 414.7" stroke="#000" stroke-width="2.4"/>
<text transform="translate(1572.6,425.83) scale(0.890,1)" font-size="29.3" text-anchor="end" style="stroke:#0a0a0a;stroke-width:0.4;stroke-linejoin:round;">20</text>
<path d="M1575.5 484.7L1584 484.7" stroke="#000" stroke-width="2.4"/>
<text transform="translate(1572.6,495.83) scale(0.890,1)" font-size="29.3" text-anchor="end" style="stroke:#0a0a0a;stroke-width:0.4;stroke-linejoin:round;">15</text>
<path d="M1575.5 555L1584 555" stroke="#000" stroke-width="2.4"/>
<text transform="translate(1572.6,566.13) scale(0.890,1)" font-size="29.3" text-anchor="end" style="stroke:#0a0a0a;stroke-width:0.4;stroke-linejoin:round;">10</text>
<path d="M1575.5 625.2L1584 625.2" stroke="#000" stroke-width="2.4"/>
<text transform="translate(1572.6,636.33) scale(0.890,1)" font-size="29.3" text-anchor="end" style="stroke:#0a0a0a;stroke-width:0.4;stroke-linejoin:round;">5</text>
<path d="M1575.5 696.2L1584 696.2" stroke="#000" stroke-width="2.4"/>
<text transform="translate(1572.6,707.33) scale(0.890,1)" font-size="29.3" text-anchor="end" style="stroke:#0a0a0a;stroke-width:0.4;stroke-linejoin:round;">0</text>
<text transform="translate(1648.3,405.6) scale(0.953,1)" font-size="26" text-anchor="middle" style="stroke:#0a0a0a;stroke-width:0.5;stroke-linejoin:round;">Familiar</text><text transform="translate(1530.7,599) rotate(-90) scale(1.018,1)" font-size="30" style="stroke:#0a0a0a;stroke-width:0.5;stroke-linejoin:round;">Bout #</text><text transform="translate(1648.9,460.4)" font-size="32" text-anchor="middle" style="font-weight:400;">ns</text><path d="M1612.8 477.6L1684.8 477.6" stroke="#000" stroke-width="1.6"/>
<text transform="translate(1722,388) scale(0.875,1)" font-size="57">f</text>
<ellipse cx="1801" cy="361.4" rx="4.6" ry="5.2" fill="#fff" stroke="#0a0f0f" stroke-width="1.85"/>
<rect x="1796.25" y="378.45" width="9.5" height="10.5" fill="#aa679c" stroke="#0a0f0f" stroke-width="1.6"/>
<text transform="translate(1828,368.1) scale(1.002,1)" font-size="19.5" style="stroke:#0a0a0a;stroke-width:0.5;stroke-linejoin:round;">mCherry</text>
<text transform="translate(1828,391.1) scale(1.011,1)" font-size="19.5" style="stroke:#0a0a0a;stroke-width:0.5;stroke-linejoin:round;">Chrimson</text>
<rect x="1830" y="409" width="140.6" height="284.5" fill="#fbe0d1"/>
<rect x="1850.2" y="533" width="38.8" height="160.5" fill="#fff" stroke="#0a0f0f" stroke-width="1.8"/>
<rect x="1912.4" y="540.8" width="38.7" height="152.7" fill="#fff" stroke="#0a0f0f" stroke-width="1.8"/>
<path d="M1923.25 530.3H1940.25M1923.25 549.9H1940.25M1931.75 530.3V549.9" stroke="#000" stroke-width="2.2" fill="none"/>
<clipPath id="cb8"><rect x="1850.8" y="533" width="37.6" height="160.5"/><rect x="1913" y="540.8" width="37.5" height="152.7"/></clipPath>
<g fill="#a44e72" fill-opacity="0.85" stroke="#0a0f0f" stroke-width="1.8"><rect x="1926.65" y="481.01" width="10.2" height="11.4"/><rect x="1926.65" y="496.89" width="10.2" height="11.4"/><rect x="1936.11" y="516.49" width="10.2" height="11.4"/><rect x="1916.85" y="525.61" width="10.2" height="11.4"/><rect x="1936.11" y="530.68" width="10.2" height="11.4"/><rect x="1916.85" y="537.44" width="10.2" height="11.4"/><rect x="1936.11" y="546.56" width="10.2" height="11.4"/><rect x="1916.85" y="551.63" width="10.2" height="11.4"/><rect x="1926.65" y="571.23" width="10.2" height="11.4"/><rect x="1926.65" y="586.43" width="10.2" height="11.4"/></g>
<g fill="#c66ccf" fill-opacity="0.85" clip-path="url(#cb8)"><rect x="1927.45" y="481.81" width="8.6" height="9.8"/><rect x="1927.45" y="497.69" width="8.6" height="9.8"/><rect x="1936.91" y="517.29" width="8.6" height="9.8"/><rect x="1917.65" y="526.41" width="8.6" height="9.8"/><rect x="1936.91" y="531.48" width="8.6" height="9.8"/><rect x="1917.65" y="538.24" width="8.6" height="9.8"/><rect x="1936.91" y="547.36" width="8.6" height="9.8"/><rect x="1917.65" y="552.43" width="8.6" height="9.8"/><rect x="1927.45" y="572.03" width="8.6" height="9.8"/><rect x="1927.45" y="587.23" width="8.6" height="9.8"/></g>
<g fill="#fff" stroke="#0a0f0f" stroke-width="1.85"><ellipse cx="1869.58" cy="489.08" rx="5.4" ry="5.8"/><ellipse cx="1860.12" cy="500.9" rx="5.4" ry="5.8"/><ellipse cx="1879.38" cy="511.04" rx="5.4" ry="5.8"/><ellipse cx="1860.12" cy="520.16" rx="5.4" ry="5.8"/><ellipse cx="1879.38" cy="520.16" rx="5.4" ry="5.8"/><ellipse cx="1860.12" cy="533" rx="5.4" ry="5.8"/><ellipse cx="1879.38" cy="537.06" rx="5.4" ry="5.8"/><ellipse cx="1879.38" cy="550.57" rx="5.4" ry="5.8"/><ellipse cx="1860.12" cy="555.98" rx="5.4" ry="5.8"/><ellipse cx="1879.38" cy="561.72" rx="5.4" ry="5.8"/><ellipse cx="1869.58" cy="579.29" rx="5.4" ry="5.8"/></g>
<path d="M1861.08 524.56H1878.08M1861.08 540.77H1878.08M1869.58 524.56V540.77" stroke="#000" stroke-width="2.2" fill="none"/>
<path d="M1829 409.1L1829 694.7" stroke="#000" stroke-width="2.6"/>
<path d="M1821.3 693.5L1974 693.5" stroke="#000" stroke-width="2.8"/>
<path d="M1820.5 410.3L1829 410.3" stroke="#000" stroke-width="2.4"/>
<text transform="translate(1817.6,420.75) scale(0.890,1)" font-size="27.5" text-anchor="end" style="stroke:#0a0a0a;stroke-width:0.4;stroke-linejoin:round;">200</text>
<path d="M1820.5 481.6L1829 481.6" stroke="#000" stroke-width="2.4"/>
<text transform="translate(1817.6,492.05) scale(0.890,1)" font-size="27.5" text-anchor="end" style="stroke:#0a0a0a;stroke-width:0.4;stroke-linejoin:round;">150</text>
<path d="M1820.5 552.6L1829 552.6" stroke="#000" stroke-width="2.4"/>
<text transform="translate(1817.6,563.05) scale(0.890,1)" font-size="27.5" text-anchor="end" style="stroke:#0a0a0a;stroke-width:0.4;stroke-linejoin:round;">100</text>
<path d="M1820.5 623.2L1829 623.2" stroke="#000" stroke-width="2.4"/>
<text transform="translate(1817.6,633.65) scale(0.890,1)" font-size="27.5" text-anchor="end" style="stroke:#0a0a0a;stroke-width:0.4;stroke-linejoin:round;">50</text>
<path d="M1820.5 693.5L1829 693.5" stroke="#000" stroke-width="2.4"/>
<text transform="translate(1817.6,703.95) scale(0.890,1)" font-size="27.5" text-anchor="end" style="stroke:#0a0a0a;stroke-width:0.4;stroke-linejoin:round;">0</text>
<text transform="translate(1767.2,709) rotate(-90) scale(1.038,1)" font-size="30" style="stroke:#0a0a0a;stroke-width:0.5;stroke-linejoin:round;">Total investigation (s)</text><text transform="translate(1900,462)" font-size="24" text-anchor="middle" style="font-weight:400;">ns</text><path d="M1859.1 478.3L1941.2 478.3" stroke="#000" stroke-width="1.6"/>
</g>
<g id="heat">
<text transform="translate(0,802.5) scale(0.875,1)" font-size="57">g</text>
<text transform="translate(358,858) scale(0.989,1)" font-size="36" style="fill:#15151a;stroke:#15151a;stroke-width:0.2;stroke-linejoin:round;">Novel</text>
<text transform="translate(1199.5,846)" font-size="36" style="fill:#15151a;stroke:#15151a;stroke-width:0.2;stroke-linejoin:round;">Familiar</text>
<rect x="73.6" y="895.7" width="315.7" height="216.6" fill="#050508"/>
<linearGradient id="h1"><stop offset="0.003" stop-color="#4a17b0"/><stop offset="0.031" stop-color="#4a17b0"/><stop offset="0.062" stop-color="#0a0a42"/><stop offset="0.088" stop-color="#2912a8"/><stop offset="0.14" stop-color="#2912a8"/><stop offset="0.156" stop-color="#180f88"/><stop offset="0.192" stop-color="#2912a8"/><stop offset="0.348" stop-color="#2912a8"/><stop offset="0.369" stop-color="#4a17b0"/><stop offset="0.4" stop-color="#bf26b2"/><stop offset="0.478" stop-color="#781cb2"/><stop offset="0.556" stop-color="#bf26b2"/><stop offset="0.603" stop-color="#f03a92"/><stop offset="0.649" stop-color="#781cb2"/><stop offset="0.712" stop-color="#4a17b0"/><stop offset="0.738" stop-color="#781cb2"/></linearGradient>
<rect x="75.2" y="897.15" width="312.5" height="15.54" fill="url(#h1)"/>
<rect x="312.21" y="897.2" width="75.49" height="15.44" fill="#050706"/>
<linearGradient id="h2"><stop offset="0.003" stop-color="#2912a8"/><stop offset="0.379" stop-color="#2912a8"/><stop offset="0.4" stop-color="#4a17b0"/><stop offset="0.504" stop-color="#4a17b0"/><stop offset="0.556" stop-color="#781cb2"/><stop offset="0.764" stop-color="#781cb2"/><stop offset="0.779" stop-color="#781cb2"/><stop offset="0.842" stop-color="#4a17b0"/><stop offset="0.919" stop-color="#2912a8"/><stop offset="1" stop-color="#781cb2"/></linearGradient>
<rect x="75.2" y="912.39" width="312.5" height="15.54" fill="url(#h2)"/>
<linearGradient id="h3"><stop offset="0.005" stop-color="#781cb2"/><stop offset="0.047" stop-color="#4a17b0"/><stop offset="0.104" stop-color="#781cb2"/><stop offset="0.166" stop-color="#2912a8"/><stop offset="0.244" stop-color="#180f88"/><stop offset="0.306" stop-color="#0a0a42"/><stop offset="0.348" stop-color="#180f88"/><stop offset="0.395" stop-color="#0a0a42"/><stop offset="0.426" stop-color="#2912a8"/><stop offset="0.473" stop-color="#f03a92"/><stop offset="0.504" stop-color="#bf26b2"/><stop offset="0.545" stop-color="#2912a8"/><stop offset="0.608" stop-color="#4a17b0"/><stop offset="0.66" stop-color="#bf26b2"/><stop offset="0.696" stop-color="#f03a92"/><stop offset="0.738" stop-color="#bf26b2"/><stop offset="0.779" stop-color="#781cb2"/></linearGradient>
<rect x="75.2" y="927.64" width="312.5" height="15.54" fill="url(#h3)"/>
<rect x="321.95" y="927.69" width="65.75" height="15.44" fill="#050706"/>
<linearGradient id="h4"><stop offset="0.003" stop-color="#2912a8"/><stop offset="0.348" stop-color="#2912a8"/><stop offset="0.364" stop-color="#180f88"/><stop offset="0.4" stop-color="#2912a8"/><stop offset="0.452" stop-color="#2912a8"/><stop offset="0.478" stop-color="#0a0a42"/><stop offset="0.634" stop-color="#0a0a42"/><stop offset="0.66" stop-color="#2912a8"/><stop offset="0.738" stop-color="#4a17b0"/><stop offset="0.816" stop-color="#2912a8"/><stop offset="0.868" stop-color="#180f88"/><stop offset="0.919" stop-color="#2912a8"/><stop offset="1" stop-color="#180f88"/></linearGradient>
<rect x="75.2" y="942.88" width="312.5" height="15.54" fill="url(#h4)"/>
<linearGradient id="h5"><stop offset="0.005" stop-color="#4a17b0"/><stop offset="0.042" stop-color="#781cb2"/><stop offset="0.088" stop-color="#2912a8"/><stop offset="0.156" stop-color="#0a0a42"/><stop offset="0.192" stop-color="#180f88"/><stop offset="0.218" stop-color="#2912a8"/><stop offset="0.286" stop-color="#0a0a42"/><stop offset="0.322" stop-color="#2912a8"/><stop offset="0.452" stop-color="#2912a8"/><stop offset="0.504" stop-color="#180f88"/><stop offset="0.525" stop-color="#0a0a42"/><stop offset="0.556" stop-color="#2912a8"/><stop offset="0.597" stop-color="#781cb2"/><stop offset="0.634" stop-color="#bf26b2"/><stop offset="0.675" stop-color="#781cb2"/><stop offset="0.738" stop-color="#2912a8"/><stop offset="0.842" stop-color="#2912a8"/><stop offset="0.894" stop-color="#180f88"/><stop offset="0.945" stop-color="#0a0a42"/><stop offset="1" stop-color="#180f88"/></linearGradient>
<rect x="75.2" y="958.12" width="312.5" height="15.54" fill="url(#h5)"/>
<linearGradient id="h6"><stop offset="0.003" stop-color="#2912a8"/><stop offset="0.296" stop-color="#2912a8"/><stop offset="0.322" stop-color="#180f88"/><stop offset="0.374" stop-color="#2912a8"/><stop offset="0.426" stop-color="#180f88"/><stop offset="0.478" stop-color="#0a0a42"/><stop offset="0.53" stop-color="#2912a8"/><stop offset="0.608" stop-color="#180f88"/><stop offset="0.712" stop-color="#180f88"/><stop offset="0.764" stop-color="#0a0a42"/><stop offset="0.816" stop-color="#2912a8"/><stop offset="0.919" stop-color="#2912a8"/><stop offset="0.971" stop-color="#180f88"/><stop offset="1" stop-color="#180f88"/></linearGradient>
<rect x="75.2" y="973.36" width="312.5" height="15.54" fill="url(#h6)"/>
<linearGradient id="h7"><stop offset="0.003" stop-color="#2912a8"/><stop offset="0.088" stop-color="#180f88"/><stop offset="0.125" stop-color="#2912a8"/><stop offset="0.151" stop-color="#050508"/><stop offset="0.182" stop-color="#2912a8"/><stop offset="0.213" stop-color="#2912a8"/><stop offset="0.244" stop-color="#050508"/><stop offset="0.275" stop-color="#4a17b0"/><stop offset="0.322" stop-color="#781cb2"/><stop offset="0.358" stop-color="#4a17b0"/><stop offset="0.39" stop-color="#2912a8"/><stop offset="0.421" stop-color="#f8506a"/><stop offset="0.442" stop-color="#f3f584"/><stop offset="0.488" stop-color="#f3f584"/><stop offset="0.504" stop-color="#fc8c62"/><stop offset="0.514" stop-color="#f8506a"/><stop offset="0.545" stop-color="#781cb2"/><stop offset="0.566" stop-color="#bf26b2"/><stop offset="0.587" stop-color="#f8506a"/><stop offset="0.608" stop-color="#fc8c62"/><stop offset="0.634" stop-color="#f3f584"/><stop offset="0.655" stop-color="#fc8c62"/><stop offset="0.681" stop-color="#f8506a"/><stop offset="0.712" stop-color="#781cb2"/><stop offset="0.738" stop-color="#050508"/><stop offset="0.836" stop-color="#050508"/><stop offset="0.857" stop-color="#2912a8"/><stop offset="0.894" stop-color="#781cb2"/><stop offset="0.945" stop-color="#4a17b0"/><stop offset="1" stop-color="#2912a8"/></linearGradient>
<rect x="75.2" y="988.61" width="312.5" height="15.54" fill="url(#h7)"/>
<linearGradient id="h8"><stop offset="0.003" stop-color="#2912a8"/><stop offset="0.244" stop-color="#2912a8"/><stop offset="0.286" stop-color="#180f88"/><stop offset="0.322" stop-color="#2912a8"/><stop offset="0.4" stop-color="#180f88"/><stop offset="0.452" stop-color="#2912a8"/><stop offset="0.842" stop-color="#2912a8"/><stop offset="0.868" stop-color="#050508"/><stop offset="0.935" stop-color="#050508"/><stop offset="0.971" stop-color="#180f88"/><stop offset="1" stop-color="#2912a8"/></linearGradient>
<rect x="75.2" y="1003.85" width="312.5" height="15.54" fill="url(#h8)"/>
<linearGradient id="h9"><stop offset="0.005" stop-color="#4a17b0"/><stop offset="0.047" stop-color="#180f88"/><stop offset="0.083" stop-color="#781cb2"/><stop offset="0.119" stop-color="#bf26b2"/><stop offset="0.156" stop-color="#f03a92"/><stop offset="0.177" stop-color="#4a17b0"/><stop offset="0.218" stop-color="#781cb2"/><stop offset="0.27" stop-color="#4a17b0"/><stop offset="0.296" stop-color="#781cb2"/><stop offset="0.322" stop-color="#050508"/><stop offset="0.348" stop-color="#2912a8"/><stop offset="0.369" stop-color="#050508"/><stop offset="0.39" stop-color="#050508"/><stop offset="0.416" stop-color="#f03a92"/><stop offset="0.452" stop-color="#bf26b2"/><stop offset="0.478" stop-color="#781cb2"/><stop offset="0.53" stop-color="#4a17b0"/><stop offset="0.566" stop-color="#bf26b2"/><stop offset="0.582" stop-color="#fc8c62"/><stop offset="0.597" stop-color="#f3f584"/><stop offset="0.618" stop-color="#f8506a"/><stop offset="0.655" stop-color="#f3f584"/><stop offset="0.675" stop-color="#f8506a"/><stop offset="0.712" stop-color="#bf26b2"/><stop offset="0.738" stop-color="#781cb2"/><stop offset="0.758" stop-color="#180f88"/><stop offset="0.779" stop-color="#f8506a"/><stop offset="0.805" stop-color="#bf26b2"/><stop offset="0.826" stop-color="#f8506a"/><stop offset="0.868" stop-color="#f8506a"/><stop offset="0.888" stop-color="#bf26b2"/><stop offset="0.919" stop-color="#f8506a"/><stop offset="0.961" stop-color="#f3f584"/><stop offset="1" stop-color="#f3f584"/></linearGradient>
<rect x="75.2" y="1019.09" width="312.5" height="15.54" fill="url(#h9)"/>
<linearGradient id="h10"><stop offset="0.003" stop-color="#2912a8"/><stop offset="0.764" stop-color="#2912a8"/><stop offset="0.79" stop-color="#0a0a42"/><stop offset="0.836" stop-color="#0a0a42"/><stop offset="0.894" stop-color="#4a17b0"/><stop offset="0.945" stop-color="#2912a8"/><stop offset="1" stop-color="#2912a8"/></linearGradient>
<rect x="75.2" y="1034.34" width="312.5" height="15.54" fill="url(#h10)"/>
<linearGradient id="h11"><stop offset="0.01" stop-color="#781cb2"/><stop offset="0.052" stop-color="#4a17b0"/><stop offset="0.088" stop-color="#0a0a42"/><stop offset="0.182" stop-color="#0a0a42"/><stop offset="0.208" stop-color="#2912a8"/><stop offset="0.244" stop-color="#4a17b0"/><stop offset="0.275" stop-color="#180f88"/><stop offset="0.306" stop-color="#2912a8"/><stop offset="0.348" stop-color="#4a17b0"/><stop offset="0.426" stop-color="#781cb2"/><stop offset="0.478" stop-color="#4a17b0"/><stop offset="0.556" stop-color="#2912a8"/><stop offset="0.623" stop-color="#180f88"/></linearGradient>
<rect x="75.2" y="1049.58" width="312.5" height="15.54" fill="url(#h11)"/>
<rect x="271.63" y="1049.63" width="116.07" height="15.44" fill="#050706"/>
<linearGradient id="h12"><stop offset="0.003" stop-color="#2912a8"/><stop offset="0.53" stop-color="#2912a8"/><stop offset="0.556" stop-color="#180f88"/><stop offset="0.608" stop-color="#0a0a42"/><stop offset="0.696" stop-color="#050508"/><stop offset="0.847" stop-color="#050508"/><stop offset="0.868" stop-color="#2912a8"/><stop offset="1" stop-color="#2912a8"/></linearGradient>
<rect x="75.2" y="1064.82" width="312.5" height="15.54" fill="url(#h12)"/>
<linearGradient id="h13"><stop offset="0.005" stop-color="#0a0a42"/><stop offset="0.036" stop-color="#050508"/><stop offset="0.125" stop-color="#050508"/><stop offset="0.156" stop-color="#4a17b0"/><stop offset="0.244" stop-color="#4a17b0"/><stop offset="0.322" stop-color="#781cb2"/><stop offset="0.4" stop-color="#781cb2"/><stop offset="0.416" stop-color="#bf26b2"/><stop offset="0.452" stop-color="#781cb2"/><stop offset="0.556" stop-color="#4a17b0"/><stop offset="0.712" stop-color="#4a17b0"/><stop offset="0.79" stop-color="#2912a8"/><stop offset="0.868" stop-color="#180f88"/><stop offset="0.919" stop-color="#2912a8"/><stop offset="1" stop-color="#180f88"/></linearGradient>
<rect x="75.2" y="1080.06" width="312.5" height="15.54" fill="url(#h13)"/>
<linearGradient id="h14"><stop offset="0.003" stop-color="#2912a8"/><stop offset="0.608" stop-color="#2912a8"/><stop offset="0.618" stop-color="#4a17b0"/><stop offset="0.66" stop-color="#2912a8"/><stop offset="0.712" stop-color="#180f88"/><stop offset="0.764" stop-color="#2912a8"/><stop offset="0.81" stop-color="#050508"/><stop offset="0.857" stop-color="#4a17b0"/><stop offset="0.919" stop-color="#2912a8"/><stop offset="1" stop-color="#2912a8"/></linearGradient>
<rect x="75.2" y="1095.31" width="312.5" height="15.54" fill="url(#h14)"/>
<rect x="74.5" y="896.6" width="313.9" height="214.8" fill="none" stroke="#050508" stroke-width="1.8"/>
<path d="M193.5 897.2L193.5 1110.3" stroke="#f0182c" stroke-width="2" stroke-dasharray="7.5 6.1"/>
<text transform="translate(58.5,921) scale(0.900,1)" font-size="31" text-anchor="middle" style="fill:#15151a;stroke:#15151a;stroke-width:0.2;stroke-linejoin:round;">1</text>
<text transform="translate(58.5,951) scale(0.900,1)" font-size="31" text-anchor="middle" style="fill:#15151a;stroke:#15151a;stroke-width:0.2;stroke-linejoin:round;">2</text>
<text transform="translate(58.5,983) scale(0.900,1)" font-size="31" text-anchor="middle" style="fill:#15151a;stroke:#15151a;stroke-width:0.2;stroke-linejoin:round;">3</text>
<text transform="translate(58.5,1015) scale(0.900,1)" font-size="31" text-anchor="middle" style="fill:#15151a;stroke:#15151a;stroke-width:0.2;stroke-linejoin:round;">4</text>
<text transform="translate(58.5,1044.5) scale(0.900,1)" font-size="31" text-anchor="middle" style="fill:#15151a;stroke:#15151a;stroke-width:0.2;stroke-linejoin:round;">5</text>
<text transform="translate(58.5,1076) scale(0.900,1)" font-size="31" text-anchor="middle" style="fill:#15151a;stroke:#15151a;stroke-width:0.2;stroke-linejoin:round;">6</text>
<text transform="translate(58.5,1106.5) scale(0.900,1)" font-size="31" text-anchor="middle" style="fill:#15151a;stroke:#15151a;stroke-width:0.2;stroke-linejoin:round;">7</text>
<text transform="translate(390,909.6) scale(0.840,1)" font-size="17.5" style="font-weight:400;">First</text>
<text transform="translate(390,925) scale(0.840,1)" font-size="17.5" style="font-weight:400;">Others</text>
<text transform="translate(390,940.8) scale(0.840,1)" font-size="17.5" style="font-weight:400;">First</text>
<text transform="translate(390,956.2) scale(0.840,1)" font-size="17.5" style="font-weight:400;">Others</text>
<text transform="translate(390,971.5) scale(0.840,1)" font-size="17.5" style="font-weight:400;">First</text>
<text transform="translate(390,986.6) scale(0.840,1)" font-size="17.5" style="font-weight:400;">Others</text>
<text transform="translate(390,1001.8) scale(0.840,1)" font-size="17.5" style="font-weight:400;">First</text>
<text transform="translate(390,1017) scale(0.840,1)" font-size="17.5" style="font-weight:400;">Others</text>
<text transform="translate(390,1033) scale(0.840,1)" font-size="17.5" style="font-weight:400;">First</text>
<text transform="translate(390,1049.7) scale(0.840,1)" font-size="17.5" style="font-weight:400;">Others</text>
<text transform="translate(390,1066.7) scale(0.840,1)" font-size="17.5" style="font-weight:400;">First</text>
<text transform="translate(390,1083) scale(0.840,1)" font-size="17.5" style="font-weight:400;">Others</text>
<text transform="translate(390,1098.8) scale(0.840,1)" font-size="17.5" style="font-weight:400;">First</text>
<text transform="translate(390,1115) scale(0.840,1)" font-size="17.5" style="font-weight:400;">Others</text>
<text transform="translate(70.1,1136.3) scale(0.900,1)" font-size="30" text-anchor="middle" style="fill:#15151a;stroke:#15151a;stroke-width:0.2;stroke-linejoin:round;">-3</text>
<text transform="translate(193,1136.3) scale(0.900,1)" font-size="30" text-anchor="middle" style="fill:#15151a;stroke:#15151a;stroke-width:0.2;stroke-linejoin:round;">0</text>
<text transform="translate(383.8,1136.3) scale(0.900,1)" font-size="30" text-anchor="middle" style="fill:#15151a;stroke:#15151a;stroke-width:0.2;stroke-linejoin:round;">5</text>
<text transform="translate(196.3,1161.6) scale(0.974,1)" font-size="29" style="fill:#15151a;stroke:#15151a;stroke-width:0.2;stroke-linejoin:round;">Time (s)</text>
<text transform="translate(32.5,889.2) scale(1.038,1)" font-size="27.8" style="fill:#15151a;stroke:#15151a;stroke-width:0.2;stroke-linejoin:round;">Animal #</text>
<text transform="translate(185.1,880.1) scale(0.988,1)" font-size="36" style="fill:#15151a;stroke:#15151a;stroke-width:0.2;stroke-linejoin:round;">mCherry</text>
<rect x="490.6" y="895.7" width="314.9" height="216.6" fill="#050508"/>
<linearGradient id="h15"><stop offset="0.016" stop-color="#781cb2"/><stop offset="0.088" stop-color="#4a17b0"/><stop offset="0.166" stop-color="#2912a8"/><stop offset="0.234" stop-color="#0a0a42"/><stop offset="0.26" stop-color="#180f88"/><stop offset="0.286" stop-color="#0a0a42"/><stop offset="0.322" stop-color="#2912a8"/><stop offset="0.369" stop-color="#2912a8"/><stop offset="0.426" stop-color="#4a17b0"/><stop offset="0.478" stop-color="#2912a8"/></linearGradient>
<rect x="492.2" y="897.15" width="311.7" height="15.54" fill="url(#h15)"/>
<rect x="644.08" y="897.2" width="159.82" height="15.44" fill="#050706"/>
<linearGradient id="h16"><stop offset="0.003" stop-color="#2912a8"/><stop offset="0.14" stop-color="#2912a8"/><stop offset="0.203" stop-color="#0a0a42"/><stop offset="0.244" stop-color="#4a17b0"/><stop offset="0.275" stop-color="#781cb2"/><stop offset="0.322" stop-color="#4a17b0"/><stop offset="0.369" stop-color="#0a0a42"/><stop offset="0.4" stop-color="#2912a8"/><stop offset="0.442" stop-color="#4a17b0"/><stop offset="0.504" stop-color="#2912a8"/><stop offset="0.634" stop-color="#2912a8"/><stop offset="0.67" stop-color="#180f88"/><stop offset="0.712" stop-color="#2912a8"/><stop offset="1" stop-color="#2912a8"/></linearGradient>
<rect x="492.2" y="912.39" width="311.7" height="15.54" fill="url(#h16)"/>
<linearGradient id="h17"><stop offset="0.016" stop-color="#180f88"/><stop offset="0.062" stop-color="#2912a8"/><stop offset="0.13" stop-color="#0a0a42"/><stop offset="0.192" stop-color="#2912a8"/><stop offset="0.296" stop-color="#2912a8"/><stop offset="0.348" stop-color="#781cb2"/><stop offset="0.371" stop-color="#bf26b2"/><stop offset="0.4" stop-color="#4a17b0"/><stop offset="0.504" stop-color="#2912a8"/><stop offset="0.842" stop-color="#2912a8"/></linearGradient>
<rect x="492.2" y="927.64" width="311.7" height="15.54" fill="url(#h17)"/>
<rect x="758.08" y="927.69" width="45.82" height="15.44" fill="#050706"/>
<linearGradient id="h18"><stop offset="0.003" stop-color="#2912a8"/><stop offset="0.14" stop-color="#2912a8"/><stop offset="0.192" stop-color="#180f88"/><stop offset="0.244" stop-color="#2912a8"/><stop offset="0.634" stop-color="#2912a8"/><stop offset="0.681" stop-color="#781cb2"/><stop offset="0.712" stop-color="#4a17b0"/><stop offset="0.764" stop-color="#180f88"/><stop offset="0.816" stop-color="#2912a8"/><stop offset="0.894" stop-color="#180f88"/><stop offset="1" stop-color="#2912a8"/></linearGradient>
<rect x="492.2" y="942.88" width="311.7" height="15.54" fill="url(#h18)"/>
<linearGradient id="h19"><stop offset="0.016" stop-color="#180f88"/><stop offset="0.14" stop-color="#180f88"/><stop offset="0.192" stop-color="#2912a8"/><stop offset="0.27" stop-color="#180f88"/><stop offset="0.322" stop-color="#781cb2"/><stop offset="0.358" stop-color="#bf26b2"/><stop offset="0.416" stop-color="#781cb2"/><stop offset="0.478" stop-color="#2912a8"/><stop offset="0.582" stop-color="#180f88"/><stop offset="0.634" stop-color="#2912a8"/><stop offset="0.712" stop-color="#4a17b0"/><stop offset="0.79" stop-color="#2912a8"/><stop offset="0.857" stop-color="#4a17b0"/><stop offset="0.919" stop-color="#2912a8"/><stop offset="0.987" stop-color="#0a0a42"/><stop offset="1" stop-color="#0a0a42"/></linearGradient>
<rect x="492.2" y="958.12" width="311.7" height="15.54" fill="url(#h19)"/>
<linearGradient id="h20"><stop offset="0.003" stop-color="#2912a8"/><stop offset="0.452" stop-color="#2912a8"/><stop offset="0.504" stop-color="#180f88"/><stop offset="0.556" stop-color="#2912a8"/><stop offset="0.66" stop-color="#4a17b0"/><stop offset="0.691" stop-color="#0a0a42"/><stop offset="0.764" stop-color="#180f88"/><stop offset="0.868" stop-color="#0a0a42"/><stop offset="1" stop-color="#180f88"/></linearGradient>
<rect x="492.2" y="973.36" width="311.7" height="15.54" fill="url(#h20)"/>
<linearGradient id="h21"><stop offset="0.016" stop-color="#0a0a42"/><stop offset="0.062" stop-color="#180f88"/><stop offset="0.088" stop-color="#0a0a42"/><stop offset="0.151" stop-color="#4a17b0"/><stop offset="0.218" stop-color="#4a17b0"/><stop offset="0.296" stop-color="#781cb2"/><stop offset="0.338" stop-color="#4a17b0"/><stop offset="0.358" stop-color="#0a0a42"/><stop offset="0.4" stop-color="#180f88"/><stop offset="0.452" stop-color="#0a0a42"/></linearGradient>
<rect x="492.2" y="988.61" width="311.7" height="15.54" fill="url(#h21)"/>
<rect x="637.61" y="988.66" width="166.29" height="15.44" fill="#050706"/>
<linearGradient id="h22"><stop offset="0.003" stop-color="#2912a8"/><stop offset="0.062" stop-color="#2912a8"/><stop offset="0.088" stop-color="#180f88"/><stop offset="0.14" stop-color="#2912a8"/><stop offset="0.348" stop-color="#2912a8"/><stop offset="0.452" stop-color="#4a17b0"/><stop offset="0.53" stop-color="#2912a8"/><stop offset="0.608" stop-color="#4a17b0"/><stop offset="0.738" stop-color="#2912a8"/><stop offset="0.894" stop-color="#4a17b0"/><stop offset="0.971" stop-color="#180f88"/><stop offset="1" stop-color="#180f88"/></linearGradient>
<rect x="492.2" y="1003.85" width="311.7" height="15.54" fill="url(#h22)"/>
<linearGradient id="h23"><stop offset="0.016" stop-color="#0a0a42"/><stop offset="0.166" stop-color="#0a0a42"/><stop offset="0.218" stop-color="#4a17b0"/><stop offset="0.296" stop-color="#781cb2"/><stop offset="0.338" stop-color="#4a17b0"/><stop offset="0.39" stop-color="#bf26b2"/><stop offset="0.442" stop-color="#f03a92"/><stop offset="0.483" stop-color="#bf26b2"/><stop offset="0.53" stop-color="#781cb2"/><stop offset="0.582" stop-color="#180f88"/><stop offset="0.649" stop-color="#0a0a42"/><stop offset="0.712" stop-color="#4a17b0"/><stop offset="0.764" stop-color="#781cb2"/><stop offset="0.805" stop-color="#bf26b2"/><stop offset="0.857" stop-color="#4a17b0"/><stop offset="0.894" stop-color="#180f88"/><stop offset="1" stop-color="#2912a8"/></linearGradient>
<rect x="492.2" y="1019.09" width="311.7" height="15.54" fill="url(#h23)"/>
<linearGradient id="h24"><stop offset="0.003" stop-color="#2912a8"/><stop offset="0.244" stop-color="#2912a8"/><stop offset="0.296" stop-color="#180f88"/><stop offset="0.348" stop-color="#2912a8"/><stop offset="0.504" stop-color="#2912a8"/><stop offset="0.556" stop-color="#050508"/><stop offset="0.608" stop-color="#050508"/><stop offset="0.634" stop-color="#2912a8"/><stop offset="0.712" stop-color="#0a0a42"/><stop offset="0.919" stop-color="#0a0a42"/><stop offset="0.971" stop-color="#050508"/><stop offset="1" stop-color="#050508"/></linearGradient>
<rect x="492.2" y="1034.34" width="311.7" height="15.54" fill="url(#h24)"/>
<linearGradient id="h25"><stop offset="0.016" stop-color="#0a0a42"/><stop offset="0.062" stop-color="#050508"/><stop offset="0.13" stop-color="#050508"/><stop offset="0.182" stop-color="#2912a8"/><stop offset="0.244" stop-color="#781cb2"/><stop offset="0.322" stop-color="#4a17b0"/><stop offset="0.374" stop-color="#0a0a42"/><stop offset="0.416" stop-color="#4a17b0"/><stop offset="0.462" stop-color="#781cb2"/><stop offset="0.514" stop-color="#2912a8"/><stop offset="0.712" stop-color="#2912a8"/><stop offset="0.79" stop-color="#0a0a42"/><stop offset="0.868" stop-color="#050508"/><stop offset="1" stop-color="#0a0a42"/></linearGradient>
<rect x="492.2" y="1049.58" width="311.7" height="15.54" fill="url(#h25)"/>
<linearGradient id="h26"><stop offset="0.003" stop-color="#2912a8"/><stop offset="0.868" stop-color="#2912a8"/><stop offset="0.894" stop-color="#180f88"/><stop offset="0.945" stop-color="#4a17b0"/><stop offset="1" stop-color="#2912a8"/></linearGradient>
<rect x="492.2" y="1064.82" width="311.7" height="15.54" fill="url(#h26)"/>
<linearGradient id="h27"><stop offset="0.01" stop-color="#0a0a42"/><stop offset="0.078" stop-color="#781cb2"/><stop offset="0.14" stop-color="#4a17b0"/><stop offset="0.192" stop-color="#781cb2"/><stop offset="0.234" stop-color="#050508"/><stop offset="0.286" stop-color="#050508"/><stop offset="0.322" stop-color="#2912a8"/><stop offset="0.379" stop-color="#0a0a42"/><stop offset="0.426" stop-color="#2912a8"/><stop offset="0.504" stop-color="#781cb2"/><stop offset="0.545" stop-color="#4a17b0"/><stop offset="0.571" stop-color="#050508"/></linearGradient>
<rect x="492.2" y="1080.06" width="311.7" height="15.54" fill="url(#h27)"/>
<rect x="685.7" y="1080.11" width="118.2" height="15.44" fill="#050706"/>
<linearGradient id="h28"><stop offset="0.003" stop-color="#2912a8"/><stop offset="0.426" stop-color="#2912a8"/><stop offset="0.504" stop-color="#0a0a42"/><stop offset="0.608" stop-color="#180f88"/><stop offset="0.712" stop-color="#0a0a42"/><stop offset="0.842" stop-color="#050508"/><stop offset="0.919" stop-color="#050508"/><stop offset="0.956" stop-color="#4a17b0"/><stop offset="1" stop-color="#4a17b0"/></linearGradient>
<rect x="492.2" y="1095.31" width="311.7" height="15.54" fill="url(#h28)"/>
<rect x="491.5" y="896.6" width="313.1" height="214.8" fill="none" stroke="#050508" stroke-width="1.8"/>
<path d="M610.2 897.2L610.2 1110.3" stroke="#f0182c" stroke-width="2" stroke-dasharray="7.5 6.1"/>
<text transform="translate(480.7,921) scale(0.900,1)" font-size="31" text-anchor="middle" style="fill:#15151a;stroke:#15151a;stroke-width:0.2;stroke-linejoin:round;">1</text>
<text transform="translate(480.7,951) scale(0.900,1)" font-size="31" text-anchor="middle" style="fill:#15151a;stroke:#15151a;stroke-width:0.2;stroke-linejoin:round;">2</text>
<text transform="translate(480.7,983) scale(0.900,1)" font-size="31" text-anchor="middle" style="fill:#15151a;stroke:#15151a;stroke-width:0.2;stroke-linejoin:round;">3</text>
<text transform="translate(480.7,1015) scale(0.900,1)" font-size="31" text-anchor="middle" style="fill:#15151a;stroke:#15151a;stroke-width:0.2;stroke-linejoin:round;">4</text>
<text transform="translate(480.7,1044.5) scale(0.900,1)" font-size="31" text-anchor="middle" style="fill:#15151a;stroke:#15151a;stroke-width:0.2;stroke-linejoin:round;">5</text>
<text transform="translate(480.7,1076) scale(0.900,1)" font-size="31" text-anchor="middle" style="fill:#15151a;stroke:#15151a;stroke-width:0.2;stroke-linejoin:round;">6</text>
<text transform="translate(480.7,1106.5) scale(0.900,1)" font-size="31" text-anchor="middle" style="fill:#15151a;stroke:#15151a;stroke-width:0.2;stroke-linejoin:round;">7</text>
<text transform="translate(811.6,909.6) scale(0.840,1)" font-size="17.5" style="font-weight:400;">First</text>
<text transform="translate(811.6,925) scale(0.840,1)" font-size="17.5" style="font-weight:400;">Others</text>
<text transform="translate(811.6,940.8) scale(0.840,1)" font-size="17.5" style="font-weight:400;">First</text>
<text transform="translate(811.6,956.2) scale(0.840,1)" font-size="17.5" style="font-weight:400;">Others</text>
<text transform="translate(811.6,971.5) scale(0.840,1)" font-size="17.5" style="font-weight:400;">First</text>
<text transform="translate(811.6,986.6) scale(0.840,1)" font-size="17.5" style="font-weight:400;">Others</text>
<text transform="translate(811.6,1001.8) scale(0.840,1)" font-size="17.5" style="font-weight:400;">First</text>
<text transform="translate(811.6,1017) scale(0.840,1)" font-size="17.5" style="font-weight:400;">Others</text>
<text transform="translate(811.6,1033) scale(0.840,1)" font-size="17.5" style="font-weight:400;">First</text>
<text transform="translate(811.6,1049.7) scale(0.840,1)" font-size="17.5" style="font-weight:400;">Others</text>
<text transform="translate(811.6,1066.7) scale(0.840,1)" font-size="17.5" style="font-weight:400;">First</text>
<text transform="translate(811.6,1083) scale(0.840,1)" font-size="17.5" style="font-weight:400;">Others</text>
<text transform="translate(811.6,1098.8) scale(0.840,1)" font-size="17.5" style="font-weight:400;">First</text>
<text transform="translate(811.6,1115) scale(0.840,1)" font-size="17.5" style="font-weight:400;">Others</text>
<text transform="translate(487.1,1136.3) scale(0.900,1)" font-size="30" text-anchor="middle" style="fill:#15151a;stroke:#15151a;stroke-width:0.2;stroke-linejoin:round;">-3</text>
<text transform="translate(609.7,1136.3) scale(0.900,1)" font-size="30" text-anchor="middle" style="fill:#15151a;stroke:#15151a;stroke-width:0.2;stroke-linejoin:round;">0</text>
<text transform="translate(800,1136.3) scale(0.900,1)" font-size="30" text-anchor="middle" style="fill:#15151a;stroke:#15151a;stroke-width:0.2;stroke-linejoin:round;">5</text>
<text transform="translate(618.5,1161.6) scale(0.974,1)" font-size="29" style="fill:#15151a;stroke:#15151a;stroke-width:0.2;stroke-linejoin:round;">Time (s)</text>
<text transform="translate(454.7,889.2) scale(1.037,1)" font-size="27.8" style="fill:#15151a;stroke:#15151a;stroke-width:0.2;stroke-linejoin:round;">Animal #</text>
<text transform="translate(597.7,883.2) scale(0.990,1)" font-size="36" style="fill:#15151a;stroke:#15151a;stroke-width:0.2;stroke-linejoin:round;">Chrimson</text>
<rect x="913.6" y="895.7" width="316.2" height="216.6" fill="#050508"/>
<linearGradient id="h29"><stop offset="0.016" stop-color="#4a17b0"/><stop offset="0.088" stop-color="#2912a8"/><stop offset="0.14" stop-color="#180f88"/><stop offset="0.182" stop-color="#2912a8"/><stop offset="0.234" stop-color="#0a0a42"/><stop offset="0.275" stop-color="#2912a8"/><stop offset="0.348" stop-color="#4a17b0"/><stop offset="0.4" stop-color="#bf26b2"/><stop offset="0.426" stop-color="#bf26b2"/><stop offset="0.478" stop-color="#781cb2"/><stop offset="0.556" stop-color="#4a17b0"/><stop offset="0.608" stop-color="#180f88"/><stop offset="0.649" stop-color="#0a0a42"/><stop offset="0.686" stop-color="#180f88"/><stop offset="0.738" stop-color="#2912a8"/><stop offset="0.816" stop-color="#180f88"/><stop offset="0.894" stop-color="#0a0a42"/><stop offset="0.925" stop-color="#180f88"/></linearGradient>
<rect x="915.2" y="897.15" width="313" height="15.54" fill="url(#h29)"/>
<rect x="1207.06" y="897.2" width="21.14" height="15.44" fill="#050706"/>
<linearGradient id="h30"><stop offset="0.003" stop-color="#2912a8"/><stop offset="0.348" stop-color="#2912a8"/><stop offset="0.452" stop-color="#4a17b0"/><stop offset="0.634" stop-color="#781cb2"/><stop offset="0.738" stop-color="#781cb2"/><stop offset="0.795" stop-color="#4a17b0"/><stop offset="0.826" stop-color="#781cb2"/><stop offset="0.919" stop-color="#781cb2"/><stop offset="1" stop-color="#781cb2"/></linearGradient>
<rect x="915.2" y="912.39" width="313" height="15.54" fill="url(#h30)"/>
<linearGradient id="h31"><stop offset="0.016" stop-color="#050508"/><stop offset="0.068" stop-color="#050508"/><stop offset="0.099" stop-color="#4a17b0"/><stop offset="0.135" stop-color="#781cb2"/><stop offset="0.192" stop-color="#4a17b0"/><stop offset="0.234" stop-color="#2912a8"/><stop offset="0.265" stop-color="#0a0a42"/><stop offset="0.306" stop-color="#2912a8"/><stop offset="0.39" stop-color="#2912a8"/><stop offset="0.436" stop-color="#781cb2"/><stop offset="0.478" stop-color="#4a17b0"/><stop offset="0.53" stop-color="#180f88"/><stop offset="0.608" stop-color="#2912a8"/><stop offset="0.816" stop-color="#2912a8"/><stop offset="0.868" stop-color="#180f88"/><stop offset="1" stop-color="#180f88"/></linearGradient>
<rect x="915.2" y="927.64" width="313" height="15.54" fill="url(#h31)"/>
<linearGradient id="h32"><stop offset="0.01" stop-color="#0a0a42"/><stop offset="0.052" stop-color="#2912a8"/><stop offset="0.348" stop-color="#2912a8"/><stop offset="0.4" stop-color="#4a17b0"/><stop offset="0.478" stop-color="#781cb2"/><stop offset="0.556" stop-color="#2912a8"/><stop offset="0.634" stop-color="#180f88"/><stop offset="0.712" stop-color="#2912a8"/><stop offset="0.842" stop-color="#4a17b0"/><stop offset="0.894" stop-color="#781cb2"/><stop offset="0.945" stop-color="#bf26b2"/><stop offset="1" stop-color="#bf26b2"/></linearGradient>
<rect x="915.2" y="942.88" width="313" height="15.54" fill="url(#h32)"/>
<linearGradient id="h33"><stop offset="0.036" stop-color="#4a17b0"/><stop offset="0.114" stop-color="#4a17b0"/><stop offset="0.182" stop-color="#0a0a42"/><stop offset="0.213" stop-color="#2912a8"/><stop offset="0.255" stop-color="#0a0a42"/><stop offset="0.296" stop-color="#2912a8"/><stop offset="0.348" stop-color="#2912a8"/><stop offset="0.426" stop-color="#4a17b0"/><stop offset="0.494" stop-color="#0a0a42"/></linearGradient>
<rect x="915.2" y="958.12" width="313" height="15.54" fill="url(#h33)"/>
<rect x="1074.87" y="958.17" width="153.33" height="15.44" fill="#050706"/>
<linearGradient id="h34"><stop offset="0.003" stop-color="#2912a8"/><stop offset="0.192" stop-color="#2912a8"/><stop offset="0.234" stop-color="#4a17b0"/><stop offset="0.296" stop-color="#0a0a42"/><stop offset="0.348" stop-color="#050508"/><stop offset="0.379" stop-color="#0a0a42"/><stop offset="0.416" stop-color="#180f88"/><stop offset="0.452" stop-color="#050508"/><stop offset="0.504" stop-color="#2912a8"/><stop offset="0.582" stop-color="#180f88"/><stop offset="0.649" stop-color="#050508"/><stop offset="0.701" stop-color="#0a0a42"/></linearGradient>
<rect x="915.2" y="973.36" width="313" height="15.54" fill="url(#h34)"/>
<rect x="1139.26" y="973.41" width="88.94" height="15.44" fill="#050706"/>
<linearGradient id="h35"><stop offset="0.016" stop-color="#180f88"/><stop offset="0.047" stop-color="#2912a8"/><stop offset="0.073" stop-color="#050508"/><stop offset="0.14" stop-color="#0a0a42"/><stop offset="0.192" stop-color="#0a0a42"/><stop offset="0.234" stop-color="#4a17b0"/><stop offset="0.296" stop-color="#4a17b0"/><stop offset="0.358" stop-color="#781cb2"/><stop offset="0.426" stop-color="#4a17b0"/><stop offset="0.504" stop-color="#4a17b0"/><stop offset="0.571" stop-color="#781cb2"/><stop offset="0.608" stop-color="#4a17b0"/><stop offset="0.639" stop-color="#050508"/><stop offset="0.712" stop-color="#180f88"/><stop offset="0.774" stop-color="#050508"/><stop offset="0.826" stop-color="#180f88"/><stop offset="0.894" stop-color="#050508"/><stop offset="0.971" stop-color="#180f88"/><stop offset="1" stop-color="#180f88"/></linearGradient>
<rect x="915.2" y="988.61" width="313" height="15.54" fill="url(#h35)"/>
<linearGradient id="h36"><stop offset="0.003" stop-color="#2912a8"/><stop offset="0.296" stop-color="#2912a8"/><stop offset="0.4" stop-color="#4a17b0"/><stop offset="0.66" stop-color="#4a17b0"/><stop offset="0.738" stop-color="#781cb2"/><stop offset="0.784" stop-color="#bf26b2"/><stop offset="0.842" stop-color="#781cb2"/><stop offset="0.919" stop-color="#781cb2"/><stop offset="1" stop-color="#781cb2"/></linearGradient>
<rect x="915.2" y="1003.85" width="313" height="15.54" fill="url(#h36)"/>
<linearGradient id="h37"><stop offset="0.036" stop-color="#4a17b0"/><stop offset="0.088" stop-color="#2912a8"/><stop offset="0.14" stop-color="#0a0a42"/><stop offset="0.182" stop-color="#4a17b0"/><stop offset="0.218" stop-color="#781cb2"/><stop offset="0.255" stop-color="#4a17b0"/><stop offset="0.296" stop-color="#2912a8"/><stop offset="0.343" stop-color="#0a0a42"/><stop offset="0.369" stop-color="#2912a8"/><stop offset="0.4" stop-color="#781cb2"/><stop offset="0.442" stop-color="#2912a8"/><stop offset="0.478" stop-color="#0a0a42"/><stop offset="0.545" stop-color="#050508"/><stop offset="0.649" stop-color="#050508"/><stop offset="0.712" stop-color="#0a0a42"/><stop offset="0.79" stop-color="#0a0a42"/><stop offset="0.816" stop-color="#050508"/><stop offset="0.894" stop-color="#180f88"/><stop offset="0.945" stop-color="#2912a8"/><stop offset="1" stop-color="#180f88"/></linearGradient>
<rect x="915.2" y="1019.09" width="313" height="15.54" fill="url(#h37)"/>
<linearGradient id="h38"><stop offset="0.003" stop-color="#2912a8"/><stop offset="0.4" stop-color="#2912a8"/><stop offset="0.504" stop-color="#180f88"/><stop offset="0.608" stop-color="#2912a8"/><stop offset="0.764" stop-color="#4a17b0"/><stop offset="0.868" stop-color="#4a17b0"/><stop offset="0.945" stop-color="#2912a8"/><stop offset="0.971" stop-color="#4a17b0"/><stop offset="1" stop-color="#4a17b0"/></linearGradient>
<rect x="915.2" y="1034.34" width="313" height="15.54" fill="url(#h38)"/>
<linearGradient id="h39"><stop offset="0.016" stop-color="#180f88"/><stop offset="0.062" stop-color="#4a17b0"/><stop offset="0.114" stop-color="#2912a8"/><stop offset="0.151" stop-color="#4a17b0"/><stop offset="0.218" stop-color="#2912a8"/><stop offset="0.275" stop-color="#0a0a42"/><stop offset="0.322" stop-color="#180f88"/><stop offset="0.369" stop-color="#781cb2"/><stop offset="0.426" stop-color="#2912a8"/><stop offset="0.504" stop-color="#2912a8"/><stop offset="0.556" stop-color="#180f88"/><stop offset="0.608" stop-color="#050508"/></linearGradient>
<rect x="915.2" y="1049.58" width="313" height="15.54" fill="url(#h39)"/>
<rect x="1110.32" y="1049.63" width="117.88" height="15.44" fill="#050706"/>
<linearGradient id="h40"><stop offset="0.003" stop-color="#2912a8"/><stop offset="0.504" stop-color="#2912a8"/><stop offset="0.535" stop-color="#180f88"/><stop offset="0.582" stop-color="#2912a8"/><stop offset="0.686" stop-color="#4a17b0"/><stop offset="0.79" stop-color="#2912a8"/><stop offset="0.826" stop-color="#180f88"/><stop offset="0.868" stop-color="#2912a8"/></linearGradient>
<rect x="915.2" y="1064.82" width="313" height="15.54" fill="url(#h40)"/>
<rect x="1197.31" y="1064.87" width="30.89" height="15.44" fill="#050706"/>
<linearGradient id="h41"><stop offset="0.016" stop-color="#180f88"/><stop offset="0.062" stop-color="#4a17b0"/><stop offset="0.13" stop-color="#2912a8"/><stop offset="0.166" stop-color="#0a0a42"/><stop offset="0.208" stop-color="#2912a8"/><stop offset="0.249" stop-color="#0a0a42"/><stop offset="0.317" stop-color="#781cb2"/><stop offset="0.369" stop-color="#180f88"/><stop offset="0.426" stop-color="#2912a8"/><stop offset="0.504" stop-color="#2912a8"/><stop offset="0.556" stop-color="#4a17b0"/></linearGradient>
<rect x="915.2" y="1080.06" width="313" height="15.54" fill="url(#h41)"/>
<rect x="1096.5" y="1080.11" width="131.7" height="15.44" fill="#050706"/>
<linearGradient id="h42"><stop offset="0.003" stop-color="#2912a8"/><stop offset="0.088" stop-color="#2912a8"/><stop offset="0.13" stop-color="#180f88"/><stop offset="0.192" stop-color="#2912a8"/><stop offset="0.4" stop-color="#2912a8"/><stop offset="0.478" stop-color="#4a17b0"/><stop offset="0.66" stop-color="#4a17b0"/><stop offset="0.753" stop-color="#050508"/><stop offset="0.816" stop-color="#180f88"/><stop offset="0.878" stop-color="#0a0a42"/></linearGradient>
<rect x="915.2" y="1095.31" width="313" height="15.54" fill="url(#h42)"/>
<rect x="1200.56" y="1095.36" width="27.64" height="15.44" fill="#050706"/>
<rect x="914.5" y="896.6" width="314.4" height="214.8" fill="none" stroke="#050508" stroke-width="1.8"/>
<path d="M1033.8 897.2L1033.8 1110.3" stroke="#f0182c" stroke-width="2" stroke-dasharray="7.5 6.1"/>
<text transform="translate(900.7,921) scale(0.900,1)" font-size="31" text-anchor="middle" style="fill:#15151a;stroke:#15151a;stroke-width:0.2;stroke-linejoin:round;">1</text>
<text transform="translate(900.7,951) scale(0.900,1)" font-size="31" text-anchor="middle" style="fill:#15151a;stroke:#15151a;stroke-width:0.2;stroke-linejoin:round;">2</text>
<text transform="translate(900.7,983) scale(0.900,1)" font-size="31" text-anchor="middle" style="fill:#15151a;stroke:#15151a;stroke-width:0.2;stroke-linejoin:round;">3</text>
<text transform="translate(900.7,1015) scale(0.900,1)" font-size="31" text-anchor="middle" style="fill:#15151a;stroke:#15151a;stroke-width:0.2;stroke-linejoin:round;">4</text>
<text transform="translate(900.7,1044.5) scale(0.900,1)" font-size="31" text-anchor="middle" style="fill:#15151a;stroke:#15151a;stroke-width:0.2;stroke-linejoin:round;">5</text>
<text transform="translate(900.7,1076) scale(0.900,1)" font-size="31" text-anchor="middle" style="fill:#15151a;stroke:#15151a;stroke-width:0.2;stroke-linejoin:round;">6</text>
<text transform="translate(900.7,1106.5) scale(0.900,1)" font-size="31" text-anchor="middle" style="fill:#15151a;stroke:#15151a;stroke-width:0.2;stroke-linejoin:round;">7</text>
<text transform="translate(1231.6,909.6) scale(0.840,1)" font-size="17.5" style="font-weight:400;">First</text>
<text transform="translate(1231.6,925) scale(0.840,1)" font-size="17.5" style="font-weight:400;">Others</text>
<text transform="translate(1231.6,940.8) scale(0.840,1)" font-size="17.5" style="font-weight:400;">First</text>
<text transform="translate(1231.6,956.2) scale(0.840,1)" font-size="17.5" style="font-weight:400;">Others</text>
<text transform="translate(1231.6,971.5) scale(0.840,1)" font-size="17.5" style="font-weight:400;">First</text>
<text transform="translate(1231.6,986.6) scale(0.840,1)" font-size="17.5" style="font-weight:400;">Others</text>
<text transform="translate(1231.6,1001.8) scale(0.840,1)" font-size="17.5" style="font-weight:400;">First</text>
<text transform="translate(1231.6,1017) scale(0.840,1)" font-size="17.5" style="font-weight:400;">Others</text>
<text transform="translate(1231.6,1033) scale(0.840,1)" font-size="17.5" style="font-weight:400;">First</text>
<text transform="translate(1231.6,1049.7) scale(0.840,1)" font-size="17.5" style="font-weight:400;">Others</text>
<text transform="translate(1231.6,1066.7) scale(0.840,1)" font-size="17.5" style="font-weight:400;">First</text>
<text transform="translate(1231.6,1083) scale(0.840,1)" font-size="17.5" style="font-weight:400;">Others</text>
<text transform="translate(1231.6,1098.8) scale(0.840,1)" font-size="17.5" style="font-weight:400;">First</text>
<text transform="translate(1231.6,1115) scale(0.840,1)" font-size="17.5" style="font-weight:400;">Others</text>
<text transform="translate(910.1,1136.3) scale(0.900,1)" font-size="30" text-anchor="middle" style="fill:#15151a;stroke:#15151a;stroke-width:0.2;stroke-linejoin:round;">-3</text>
<text transform="translate(1033.3,1136.3) scale(0.900,1)" font-size="30" text-anchor="middle" style="fill:#15151a;stroke:#15151a;stroke-width:0.2;stroke-linejoin:round;">0</text>
<text transform="translate(1224.3,1136.3) scale(0.900,1)" font-size="30" text-anchor="middle" style="fill:#15151a;stroke:#15151a;stroke-width:0.2;stroke-linejoin:round;">5</text>
<text transform="translate(1038.5,1161.6) scale(0.974,1)" font-size="29" style="fill:#15151a;stroke:#15151a;stroke-width:0.2;stroke-linejoin:round;">Time (s)</text>
<text transform="translate(874.7,889.2) scale(1.032,1)" font-size="27.8" style="fill:#15151a;stroke:#15151a;stroke-width:0.2;stroke-linejoin:round;">Animal #</text>
<text transform="translate(1026.8,880) scale(0.988,1)" font-size="36" style="fill:#15151a;stroke:#15151a;stroke-width:0.2;stroke-linejoin:round;">mCherry</text>
<rect x="1320" y="895.7" width="316.1" height="216.6" fill="#050508"/>
<linearGradient id="h43"><stop offset="0.016" stop-color="#4a17b0"/><stop offset="0.114" stop-color="#4a17b0"/><stop offset="0.182" stop-color="#0a0a42"/><stop offset="0.218" stop-color="#2912a8"/><stop offset="0.286" stop-color="#2912a8"/><stop offset="0.322" stop-color="#0a0a42"/><stop offset="0.358" stop-color="#2912a8"/><stop offset="0.41" stop-color="#2912a8"/><stop offset="0.462" stop-color="#781cb2"/><stop offset="0.53" stop-color="#4a17b0"/><stop offset="0.582" stop-color="#180f88"/><stop offset="0.634" stop-color="#0a0a42"/><stop offset="0.686" stop-color="#180f88"/><stop offset="0.764" stop-color="#0a0a42"/><stop offset="0.842" stop-color="#2912a8"/><stop offset="0.919" stop-color="#2912a8"/><stop offset="0.961" stop-color="#0a0a42"/><stop offset="1" stop-color="#4a17b0"/></linearGradient>
<rect x="1321.6" y="897.15" width="312.9" height="15.54" fill="url(#h43)"/>
<linearGradient id="h44"><stop offset="0.003" stop-color="#2912a8"/><stop offset="0.816" stop-color="#2912a8"/></linearGradient>
<rect x="1321.6" y="912.39" width="312.9" height="15.54" fill="url(#h44)"/>
<rect x="1582.97" y="912.44" width="51.53" height="15.44" fill="#050706"/>
<linearGradient id="h45"><stop offset="0.016" stop-color="#0a0a42"/><stop offset="0.078" stop-color="#0a0a42"/><stop offset="0.13" stop-color="#2912a8"/><stop offset="0.192" stop-color="#180f88"/><stop offset="0.244" stop-color="#4a17b0"/><stop offset="0.322" stop-color="#781cb2"/><stop offset="0.369" stop-color="#4a17b0"/><stop offset="0.4" stop-color="#2912a8"/><stop offset="0.452" stop-color="#050508"/><stop offset="0.494" stop-color="#180f88"/><stop offset="0.53" stop-color="#0a0a42"/><stop offset="0.597" stop-color="#2912a8"/><stop offset="0.649" stop-color="#781cb2"/><stop offset="0.712" stop-color="#4a17b0"/><stop offset="0.79" stop-color="#2912a8"/><stop offset="0.857" stop-color="#0a0a42"/></linearGradient>
<rect x="1321.6" y="927.64" width="312.9" height="15.54" fill="url(#h45)"/>
<rect x="1600.37" y="927.69" width="34.13" height="15.44" fill="#050706"/>
<linearGradient id="h46"><stop offset="0.016" stop-color="#4a17b0"/><stop offset="0.114" stop-color="#2912a8"/><stop offset="0.452" stop-color="#2912a8"/><stop offset="0.53" stop-color="#0a0a42"/><stop offset="0.582" stop-color="#2912a8"/><stop offset="0.712" stop-color="#4a17b0"/><stop offset="0.79" stop-color="#2912a8"/><stop offset="0.919" stop-color="#4a17b0"/><stop offset="1" stop-color="#4a17b0"/></linearGradient>
<rect x="1321.6" y="942.88" width="312.9" height="15.54" fill="url(#h46)"/>
<linearGradient id="h47"><stop offset="0.052" stop-color="#781cb2"/><stop offset="0.14" stop-color="#4a17b0"/><stop offset="0.218" stop-color="#2912a8"/><stop offset="0.317" stop-color="#0a0a42"/><stop offset="0.348" stop-color="#0a0a42"/><stop offset="0.39" stop-color="#2912a8"/><stop offset="0.478" stop-color="#2912a8"/><stop offset="0.545" stop-color="#0a0a42"/><stop offset="0.608" stop-color="#0a0a42"/><stop offset="0.649" stop-color="#2912a8"/></linearGradient>
<rect x="1321.6" y="958.12" width="312.9" height="15.54" fill="url(#h47)"/>
<rect x="1528.36" y="958.17" width="106.14" height="15.44" fill="#050706"/>
<linearGradient id="h48"><stop offset="0.003" stop-color="#2912a8"/><stop offset="0.868" stop-color="#2912a8"/><stop offset="0.909" stop-color="#4a17b0"/><stop offset="1" stop-color="#2912a8"/></linearGradient>
<rect x="1321.6" y="973.36" width="312.9" height="15.54" fill="url(#h48)"/>
<linearGradient id="h49"><stop offset="0.016" stop-color="#180f88"/><stop offset="0.104" stop-color="#0a0a42"/><stop offset="0.166" stop-color="#2912a8"/><stop offset="0.255" stop-color="#0a0a42"/><stop offset="0.322" stop-color="#4a17b0"/><stop offset="0.369" stop-color="#781cb2"/><stop offset="0.442" stop-color="#4a17b0"/><stop offset="0.504" stop-color="#180f88"/><stop offset="0.582" stop-color="#0a0a42"/><stop offset="0.634" stop-color="#2912a8"/><stop offset="0.686" stop-color="#050508"/><stop offset="0.753" stop-color="#2912a8"/><stop offset="0.826" stop-color="#0a0a42"/><stop offset="0.894" stop-color="#2912a8"/><stop offset="0.971" stop-color="#0a0a42"/><stop offset="1" stop-color="#0a0a42"/></linearGradient>
<rect x="1321.6" y="988.61" width="312.9" height="15.54" fill="url(#h49)"/>
<linearGradient id="h50"><stop offset="0.016" stop-color="#180f88"/><stop offset="0.088" stop-color="#2912a8"/><stop offset="0.556" stop-color="#2912a8"/><stop offset="0.613" stop-color="#0a0a42"/><stop offset="0.649" stop-color="#2912a8"/><stop offset="0.764" stop-color="#2912a8"/><stop offset="0.81" stop-color="#781cb2"/><stop offset="0.868" stop-color="#4a17b0"/><stop offset="0.919" stop-color="#2912a8"/><stop offset="1" stop-color="#2912a8"/></linearGradient>
<rect x="1321.6" y="1003.85" width="312.9" height="15.54" fill="url(#h50)"/>
<linearGradient id="h51"><stop offset="0.016" stop-color="#2912a8"/><stop offset="0.088" stop-color="#2912a8"/><stop offset="0.151" stop-color="#0a0a42"/><stop offset="0.192" stop-color="#180f88"/><stop offset="0.244" stop-color="#0a0a42"/><stop offset="0.286" stop-color="#2912a8"/><stop offset="0.348" stop-color="#781cb2"/><stop offset="0.4" stop-color="#4a17b0"/><stop offset="0.452" stop-color="#2912a8"/><stop offset="0.488" stop-color="#180f88"/><stop offset="0.53" stop-color="#2912a8"/><stop offset="0.608" stop-color="#0a0a42"/><stop offset="0.712" stop-color="#0a0a42"/></linearGradient>
<rect x="1321.6" y="1019.09" width="312.9" height="15.54" fill="url(#h51)"/>
<rect x="1550.79" y="1019.14" width="83.71" height="15.44" fill="#050706"/>
<linearGradient id="h52"><stop offset="0.003" stop-color="#2912a8"/><stop offset="0.608" stop-color="#2912a8"/><stop offset="0.686" stop-color="#781cb2"/><stop offset="0.764" stop-color="#781cb2"/><stop offset="0.868" stop-color="#4a17b0"/><stop offset="1" stop-color="#2912a8"/></linearGradient>
<rect x="1321.6" y="1034.34" width="312.9" height="15.54" fill="url(#h52)"/>
<linearGradient id="h53"><stop offset="0.026" stop-color="#050508"/><stop offset="0.078" stop-color="#2912a8"/><stop offset="0.192" stop-color="#2912a8"/><stop offset="0.218" stop-color="#180f88"/><stop offset="0.296" stop-color="#4a17b0"/><stop offset="0.358" stop-color="#781cb2"/><stop offset="0.41" stop-color="#2912a8"/><stop offset="0.447" stop-color="#180f88"/></linearGradient>
<rect x="1321.6" y="1049.58" width="312.9" height="15.54" fill="url(#h53)"/>
<rect x="1464.97" y="1049.63" width="169.53" height="15.44" fill="#050706"/>
<linearGradient id="h54"><stop offset="0.003" stop-color="#2912a8"/><stop offset="0.348" stop-color="#2912a8"/><stop offset="0.452" stop-color="#4a17b0"/><stop offset="0.608" stop-color="#4a17b0"/><stop offset="0.738" stop-color="#2912a8"/><stop offset="0.816" stop-color="#781cb2"/><stop offset="0.857" stop-color="#781cb2"/><stop offset="0.919" stop-color="#4a17b0"/><stop offset="1" stop-color="#2912a8"/></linearGradient>
<rect x="1321.6" y="1064.82" width="312.9" height="15.54" fill="url(#h54)"/>
<linearGradient id="h55"><stop offset="0.026" stop-color="#050508"/><stop offset="0.088" stop-color="#4a17b0"/><stop offset="0.192" stop-color="#2912a8"/><stop offset="0.27" stop-color="#180f88"/><stop offset="0.348" stop-color="#4a17b0"/><stop offset="0.4" stop-color="#781cb2"/><stop offset="0.436" stop-color="#4a17b0"/><stop offset="0.504" stop-color="#050508"/><stop offset="0.545" stop-color="#050508"/><stop offset="0.592" stop-color="#2912a8"/><stop offset="0.639" stop-color="#0a0a42"/><stop offset="0.681" stop-color="#2912a8"/></linearGradient>
<rect x="1321.6" y="1080.06" width="312.9" height="15.54" fill="url(#h55)"/>
<rect x="1544.29" y="1080.11" width="90.21" height="15.44" fill="#050706"/>
<linearGradient id="h56"><stop offset="0.003" stop-color="#2912a8"/><stop offset="0.556" stop-color="#2912a8"/><stop offset="0.634" stop-color="#781cb2"/><stop offset="0.686" stop-color="#180f88"/><stop offset="0.779" stop-color="#050508"/><stop offset="0.842" stop-color="#050508"/><stop offset="0.894" stop-color="#0a0a42"/><stop offset="0.945" stop-color="#050508"/><stop offset="1" stop-color="#050508"/></linearGradient>
<rect x="1321.6" y="1095.31" width="312.9" height="15.54" fill="url(#h56)"/>
<rect x="1320.9" y="896.6" width="314.3" height="214.8" fill="none" stroke="#050508" stroke-width="1.8"/>
<path d="M1439.8 897.2L1439.8 1110.3" stroke="#f0182c" stroke-width="2" stroke-dasharray="7.5 6.1"/>
<text transform="translate(1311.2,921) scale(0.900,1)" font-size="31" text-anchor="middle" style="fill:#15151a;stroke:#15151a;stroke-width:0.2;stroke-linejoin:round;">1</text>
<text transform="translate(1311.2,951) scale(0.900,1)" font-size="31" text-anchor="middle" style="fill:#15151a;stroke:#15151a;stroke-width:0.2;stroke-linejoin:round;">2</text>
<text transform="translate(1311.2,983) scale(0.900,1)" font-size="31" text-anchor="middle" style="fill:#15151a;stroke:#15151a;stroke-width:0.2;stroke-linejoin:round;">3</text>
<text transform="translate(1311.2,1015) scale(0.900,1)" font-size="31" text-anchor="middle" style="fill:#15151a;stroke:#15151a;stroke-width:0.2;stroke-linejoin:round;">4</text>
<text transform="translate(1311.2,1044.5) scale(0.900,1)" font-size="31" text-anchor="middle" style="fill:#15151a;stroke:#15151a;stroke-width:0.2;stroke-linejoin:round;">5</text>
<text transform="translate(1311.2,1076) scale(0.900,1)" font-size="31" text-anchor="middle" style="fill:#15151a;stroke:#15151a;stroke-width:0.2;stroke-linejoin:round;">6</text>
<text transform="translate(1311.2,1106.5) scale(0.900,1)" font-size="31" text-anchor="middle" style="fill:#15151a;stroke:#15151a;stroke-width:0.2;stroke-linejoin:round;">7</text>
<text transform="translate(1642.1,909.6) scale(0.840,1)" font-size="17.5" style="font-weight:400;">First</text>
<text transform="translate(1642.1,925) scale(0.840,1)" font-size="17.5" style="font-weight:400;">Others</text>
<text transform="translate(1642.1,940.8) scale(0.840,1)" font-size="17.5" style="font-weight:400;">First</text>
<text transform="translate(1642.1,956.2) scale(0.840,1)" font-size="17.5" style="font-weight:400;">Others</text>
<text transform="translate(1642.1,971.5) scale(0.840,1)" font-size="17.5" style="font-weight:400;">First</text>
<text transform="translate(1642.1,986.6) scale(0.840,1)" font-size="17.5" style="font-weight:400;">Others</text>
<text transform="translate(1642.1,1001.8) scale(0.840,1)" font-size="17.5" style="font-weight:400;">First</text>
<text transform="translate(1642.1,1017) scale(0.840,1)" font-size="17.5" style="font-weight:400;">Others</text>
<text transform="translate(1642.1,1033) scale(0.840,1)" font-size="17.5" style="font-weight:400;">First</text>
<text transform="translate(1642.1,1049.7) scale(0.840,1)" font-size="17.5" style="font-weight:400;">Others</text>
<text transform="translate(1642.1,1066.7) scale(0.840,1)" font-size="17.5" style="font-weight:400;">First</text>
<text transform="translate(1642.1,1083) scale(0.840,1)" font-size="17.5" style="font-weight:400;">Others</text>
<text transform="translate(1642.1,1098.8) scale(0.840,1)" font-size="17.5" style="font-weight:400;">First</text>
<text transform="translate(1642.1,1115) scale(0.840,1)" font-size="17.5" style="font-weight:400;">Others</text>
<text transform="translate(1316.5,1136.3) scale(0.900,1)" font-size="30" text-anchor="middle" style="fill:#15151a;stroke:#15151a;stroke-width:0.2;stroke-linejoin:round;">-3</text>
<text transform="translate(1439.3,1136.3) scale(0.900,1)" font-size="30" text-anchor="middle" style="fill:#15151a;stroke:#15151a;stroke-width:0.2;stroke-linejoin:round;">0</text>
<text transform="translate(1630.6,1136.3) scale(0.900,1)" font-size="30" text-anchor="middle" style="fill:#15151a;stroke:#15151a;stroke-width:0.2;stroke-linejoin:round;">5</text>
<text transform="translate(1449,1161.6) scale(0.977,1)" font-size="29" style="fill:#15151a;stroke:#15151a;stroke-width:0.2;stroke-linejoin:round;">Time (s)</text>
<text transform="translate(1285.2,889.2) scale(1.034,1)" font-size="27.8" style="fill:#15151a;stroke:#15151a;stroke-width:0.2;stroke-linejoin:round;">Animal #</text>
<text transform="translate(1437.5,880) scale(0.993,1)" font-size="36" style="fill:#15151a;stroke:#15151a;stroke-width:0.2;stroke-linejoin:round;">Chrimson</text>
</g>
<g id="traces">
<path d="M75 1359L390 1359" stroke="#333" stroke-width="1.1" stroke-dasharray="1.3 1.9"/>
<path d="M75.69 1353.9C76.91 1353.68 81.24 1353.03 83 1352.6C84.76 1352.16 83 1351.3 86.25 1351.3C89.5 1351.3 94.37 1352.06 102.5 1352.6C110.62 1353.14 125.25 1353.95 135 1354.55C144.75 1355.14 153.14 1356.28 161 1356.17C168.85 1356.06 176.16 1355.03 182.12 1353.9C188.08 1352.76 193.23 1350.78 196.75 1349.35C200.27 1347.91 200.54 1346.15 203.25 1345.28C205.95 1344.42 210.02 1343.88 213 1344.15C215.98 1344.42 218.41 1345.83 221.12 1346.91C223.83 1347.99 226.27 1350.24 229.25 1350.65C232.23 1351.05 235.75 1349.02 239 1349.35C242.25 1349.67 245.77 1351.65 248.75 1352.6C251.72 1353.54 254.16 1355.03 256.87 1355.03C259.58 1355.03 262.96 1353.68 265 1352.6C267.03 1351.51 266.89 1348.94 269.06 1348.53C271.22 1348.13 275.15 1350.08 277.99 1350.16C280.84 1350.24 283.68 1349.29 286.12 1349.02C288.56 1348.75 291.27 1348.21 292.62 1348.53C293.97 1348.86 292.62 1349.97 294.24 1350.97C295.87 1351.97 299.93 1354.14 302.37 1354.55C304.81 1354.95 304.26 1353.19 308.87 1353.41C313.47 1353.63 323.76 1355.03 329.99 1355.85C336.22 1356.66 340.83 1358.55 346.24 1358.28C351.66 1358.01 357.08 1355.03 362.49 1354.22C367.91 1353.41 374.19 1353.73 378.74 1353.41C383.29 1353.08 387.95 1352.46 389.79 1352.27L389.79 1363.32C387.95 1363.51 383.29 1364.13 378.74 1364.46C374.19 1364.78 367.91 1364.46 362.49 1365.27C357.08 1366.08 351.66 1369.06 346.24 1369.33C340.83 1369.6 336.22 1367.71 329.99 1366.9C323.76 1366.08 313.47 1364.68 308.87 1364.46C304.26 1364.24 304.81 1366 302.37 1365.6C299.93 1365.19 295.87 1363.02 294.24 1362.02C292.62 1361.02 293.97 1359.91 292.62 1359.58C291.27 1359.26 288.56 1359.8 286.12 1360.07C283.68 1360.34 280.84 1361.29 277.99 1361.21C275.15 1361.13 271.22 1359.18 269.06 1359.58C266.89 1359.99 267.03 1362.56 265 1363.65C262.96 1364.73 259.58 1366.08 256.87 1366.08C254.16 1366.08 251.72 1364.59 248.75 1363.65C245.77 1362.7 242.25 1360.72 239 1360.4C235.75 1360.07 232.23 1362.1 229.25 1361.7C226.27 1361.29 223.83 1359.04 221.12 1357.96C218.41 1356.88 215.98 1355.47 213 1355.2C210.02 1354.93 205.95 1355.47 203.25 1356.33C200.54 1357.2 200.27 1358.96 196.75 1360.4C193.23 1361.83 188.08 1363.81 182.12 1364.95C176.16 1366.08 168.85 1367.11 161 1367.22C153.14 1367.33 144.75 1366.19 135 1365.6C125.25 1365 110.62 1364.19 102.5 1363.65C94.37 1363.1 89.5 1362.35 86.25 1362.35C83 1362.35 84.76 1363.21 83 1363.65C81.24 1364.08 76.91 1364.73 75.69 1364.95Z" fill="#c6e37e"/>
<path d="M75.69 1359.42C76.91 1359.2 81.24 1358.55 83 1358.12C84.76 1357.69 83 1356.82 86.25 1356.82C89.5 1356.82 94.37 1357.58 102.5 1358.12C110.62 1358.66 125.25 1359.48 135 1360.07C144.75 1360.67 153.14 1361.8 161 1361.7C168.85 1361.59 176.16 1360.56 182.12 1359.42C188.08 1358.28 193.23 1356.31 196.75 1354.87C200.27 1353.44 200.54 1351.68 203.25 1350.81C205.95 1349.94 210.02 1349.4 213 1349.67C215.98 1349.94 218.41 1351.35 221.12 1352.43C223.83 1353.52 226.27 1355.77 229.25 1356.17C232.23 1356.58 235.75 1354.55 239 1354.87C242.25 1355.2 245.77 1357.17 248.75 1358.12C251.72 1359.07 254.16 1360.56 256.87 1360.56C259.58 1360.56 262.96 1359.2 265 1358.12C267.03 1357.04 266.89 1354.47 269.06 1354.06C271.22 1353.65 275.15 1355.6 277.99 1355.68C280.84 1355.77 283.68 1354.82 286.12 1354.55C288.56 1354.28 291.27 1353.73 292.62 1354.06C293.97 1354.38 292.62 1355.49 294.24 1356.5C295.87 1357.5 299.93 1359.67 302.37 1360.07C304.81 1360.48 304.26 1358.72 308.87 1358.93C313.47 1359.15 323.76 1360.56 329.99 1361.37C336.22 1362.18 340.83 1364.08 346.24 1363.81C351.66 1363.54 357.08 1360.56 362.49 1359.75C367.91 1358.93 374.19 1359.26 378.74 1358.93C383.29 1358.61 387.95 1357.99 389.79 1357.8" stroke="#a8601c" stroke-width="1.3" stroke-linejoin="round"/>
<path d="M75.69 1340.25C76.91 1339.57 80.97 1335.64 83 1336.18C85.03 1336.73 85.57 1340.52 87.87 1343.5C90.18 1346.48 93.29 1354.33 96.81 1354.06C100.33 1353.79 104.8 1343.23 109 1341.87C113.2 1340.52 118.34 1343.77 122 1345.93C125.65 1348.1 127.96 1354.87 130.94 1354.87C133.92 1354.87 137.03 1346.21 139.87 1345.93C142.72 1345.66 145.02 1351.49 148 1353.25C150.98 1355.01 154.77 1358.18 157.75 1356.5C160.73 1354.82 162.89 1344.8 165.87 1343.17C168.85 1341.55 172.91 1346.42 175.62 1346.75C178.33 1347.07 179.68 1344.99 182.12 1345.12C184.56 1345.26 187.54 1348.1 190.25 1347.56C192.96 1347.02 195.93 1346.88 198.37 1341.87C200.81 1336.86 202.71 1326.43 204.87 1317.5C207.04 1308.56 209.48 1296.91 211.37 1288.25C213.27 1279.58 214.76 1270.29 216.25 1265.5C217.74 1260.71 218.95 1259.22 220.31 1259.49C221.66 1259.76 222.61 1262.33 224.37 1267.12C226.13 1271.92 228.43 1280.67 230.87 1288.25C233.31 1295.83 236.61 1305.31 239 1312.62C241.38 1319.94 243.27 1330.23 245.17 1332.12C247.07 1334.02 248.42 1330.5 250.37 1324C252.32 1317.5 254.97 1302.87 256.87 1293.12C258.77 1283.37 260.53 1270.64 261.75 1265.5C262.96 1260.35 262.96 1261.44 264.18 1262.25C265.4 1263.06 267.7 1269.56 269.06 1270.37C270.41 1271.19 271.63 1269.83 272.31 1267.12C272.98 1264.42 272.31 1258.46 273.12 1254.12C273.93 1249.79 276.1 1243.78 277.18 1241.12C278.27 1238.47 278.67 1237.66 279.62 1238.2C280.57 1238.74 281.52 1238.74 282.87 1244.37C284.22 1250.01 286.12 1265.23 287.74 1272C289.37 1278.77 290.99 1279.04 292.62 1285C294.24 1290.96 295.87 1301.79 297.49 1307.75C299.12 1313.71 300.74 1317.5 302.37 1320.75C303.99 1324 305.62 1322.64 307.24 1327.25C308.87 1331.85 310.49 1346.21 312.12 1348.37C313.74 1350.54 315.1 1344.85 316.99 1340.25C318.89 1335.64 321.73 1321.56 323.49 1320.75C325.25 1319.94 325.93 1335.91 327.56 1335.37C329.18 1334.83 331.75 1322.1 333.24 1317.5C334.73 1312.89 335.14 1309.91 336.49 1307.75C337.85 1305.58 339.61 1307.21 341.37 1304.5C343.13 1301.79 345.57 1292.58 347.06 1291.5C348.55 1290.41 348.82 1291.23 350.31 1298C351.8 1304.77 353.96 1328.87 355.99 1332.12C358.02 1335.37 360.6 1323.73 362.49 1317.5C364.39 1311.27 365.74 1301.79 367.37 1294.75C368.99 1287.71 370.89 1278.9 372.24 1275.25C373.6 1271.59 374.14 1272.95 375.49 1272.81C376.85 1272.68 378.47 1275.25 380.37 1274.44C382.26 1273.62 385.3 1268.88 386.87 1267.94C388.44 1266.99 389.3 1268.61 389.79 1268.75L389.79 1363C388.76 1363.27 385.87 1363 383.62 1364.62C381.37 1366.25 378.74 1373.02 376.3 1372.75C373.87 1372.48 371.02 1364.89 368.99 1363C366.96 1361.1 365.88 1360.56 364.12 1361.37C362.36 1362.18 360.33 1368.14 358.43 1367.87C356.53 1367.6 354.77 1360.02 352.74 1359.75C350.71 1359.48 348.68 1363.27 346.24 1366.25C343.81 1369.23 340.83 1373.56 338.12 1377.62C335.41 1381.68 331.89 1388.05 329.99 1390.62C328.1 1393.19 327.83 1393.33 326.74 1393.06C325.66 1392.79 324.17 1391.57 323.49 1389C322.82 1386.42 323.76 1380.33 322.68 1377.62C321.6 1374.91 318.54 1372.88 316.99 1372.75C315.45 1372.61 314.5 1377.89 313.42 1376.81C312.34 1375.73 312.06 1370.71 310.49 1366.25C308.92 1361.78 305.89 1354.33 303.99 1350C302.1 1345.66 300.74 1345.12 299.12 1340.25C297.49 1335.37 295.87 1325.35 294.24 1320.75C292.62 1316.14 290.99 1315.06 289.37 1312.62C287.74 1310.19 286.12 1307.88 284.49 1306.12C282.87 1304.36 281.38 1302.06 279.62 1302.06C277.86 1302.06 275.07 1303.55 273.93 1306.12C272.79 1308.7 273.74 1315.87 272.79 1317.5C271.85 1319.12 269.82 1316.55 268.25 1315.87C266.67 1315.2 265 1312.08 263.37 1313.44C261.75 1314.79 260.39 1318.99 258.5 1324C256.6 1329.01 254.22 1338.62 252 1343.5C249.77 1348.37 247.34 1353.25 245.17 1353.25C243 1353.25 241.38 1347.02 239 1343.5C236.61 1339.98 233.58 1335.91 230.87 1332.12C228.16 1328.33 225.05 1323.24 222.75 1320.75C220.44 1318.26 218.95 1316.63 217.06 1317.17C215.16 1317.71 213.13 1320.15 211.37 1324C209.61 1327.84 208.39 1334.02 206.5 1340.25C204.6 1346.48 201.62 1357.17 200 1361.37C198.37 1365.57 198.37 1365.43 196.75 1365.43C195.12 1365.43 192.41 1362.32 190.25 1361.37C188.08 1360.42 186.18 1358.8 183.75 1359.75C181.31 1360.69 177.79 1366.52 175.62 1367.06C173.46 1367.6 172.37 1363.94 170.75 1363C169.12 1362.05 168.04 1360.69 165.87 1361.37C163.71 1362.05 160.73 1366.38 157.75 1367.06C154.77 1367.74 150.98 1367.19 148 1365.43C145.02 1363.67 142.58 1356.09 139.87 1356.5C137.16 1356.9 134.32 1364.76 131.75 1367.87C129.18 1370.99 126.6 1374.91 124.44 1375.18C122.27 1375.45 121.05 1370.99 118.75 1369.5C116.45 1368.01 113.33 1366.11 110.62 1366.25C107.92 1366.38 104.94 1369.36 102.5 1370.31C100.06 1371.26 98.17 1372.34 96 1371.93C93.83 1371.53 91.67 1370.17 89.5 1367.87C87.33 1365.57 85.3 1360.69 83 1358.12C80.7 1355.55 76.91 1353.38 75.69 1352.43Z" fill="#f07fac"/>
<path d="M75.69 1345.93C76.64 1345.66 80.02 1344.31 81.37 1344.31C82.73 1344.31 82.46 1343.9 83.81 1345.93C85.17 1347.97 87.33 1353.71 89.5 1356.5C91.67 1359.29 94.65 1362.13 96.81 1362.67C98.98 1363.21 100.2 1361.1 102.5 1359.75C104.8 1358.39 107.92 1354.82 110.62 1354.55C113.33 1354.28 116.31 1356.93 118.75 1358.12C121.19 1359.31 123.22 1361.15 125.25 1361.7C127.28 1362.24 129.04 1362.51 130.94 1361.37C132.83 1360.23 135.08 1356.55 136.62 1354.87C138.17 1353.19 138.98 1351.16 140.2 1351.3C141.42 1351.43 142.64 1354.41 143.94 1355.68C145.24 1356.96 146.51 1358.26 148 1358.93C149.49 1359.61 151.25 1359.34 152.87 1359.75C154.5 1360.15 156.12 1362.18 157.75 1361.37C159.37 1360.56 161 1356.36 162.62 1354.87C164.25 1353.38 166.01 1352.57 167.5 1352.43C168.99 1352.3 170.21 1353.25 171.56 1354.06C172.91 1354.87 174.27 1357.17 175.62 1357.31C176.98 1357.44 178.74 1355.87 179.68 1354.87C180.63 1353.87 180.36 1351.57 181.31 1351.3C182.26 1351.03 184.02 1352.65 185.37 1353.25C186.73 1353.84 187.94 1354.74 189.43 1354.87C190.92 1355.01 192.82 1354.87 194.31 1354.06C195.8 1353.25 196.88 1353.38 198.37 1350C199.86 1346.61 201.35 1340.79 203.25 1333.75C205.14 1326.71 207.72 1314.79 209.75 1307.75C211.78 1300.71 213.81 1294.61 215.43 1291.5C217.06 1288.38 218.14 1288.79 219.5 1289.06C220.85 1289.33 221.66 1289.47 223.56 1293.12C225.45 1296.78 228.3 1304.77 230.87 1311C233.44 1317.23 236.61 1325.35 239 1330.5C241.38 1335.64 243.27 1341.33 245.17 1341.87C247.07 1342.41 248.42 1338.89 250.37 1333.75C252.32 1328.6 254.97 1318.04 256.87 1311C258.77 1303.96 260.53 1295.29 261.75 1291.5C262.96 1287.71 262.96 1287.98 264.18 1288.25C265.4 1288.52 267.7 1292.31 269.06 1293.12C270.41 1293.94 271.63 1295.02 272.31 1293.12C272.98 1291.23 272.31 1285.27 273.12 1281.75C273.93 1278.23 276.1 1274.03 277.18 1272C278.27 1269.97 278.67 1269.29 279.62 1269.56C280.57 1269.83 281.52 1269.7 282.87 1273.62C284.22 1277.55 286.12 1288.79 287.74 1293.12C289.37 1297.46 290.99 1295.56 292.62 1299.62C294.24 1303.69 296.14 1312.89 297.49 1317.5C298.85 1322.1 299.39 1324.27 300.74 1327.25C302.1 1330.23 303.99 1331.31 305.62 1335.37C307.24 1339.43 309.14 1347.15 310.49 1351.62C311.85 1356.09 312.39 1361.91 313.74 1362.18C315.1 1362.45 317.26 1355.06 318.62 1353.25C319.97 1351.43 320.79 1350.48 321.87 1351.3C322.95 1352.11 323.9 1356.04 325.12 1358.12C326.34 1360.21 327.83 1364.62 329.18 1363.81C330.54 1363 331.89 1356.9 333.24 1353.25C334.6 1349.59 335.68 1345.12 337.31 1341.87C338.93 1338.62 341.18 1336.32 342.99 1333.75C344.81 1331.17 346.84 1326.71 348.19 1326.43C349.55 1326.16 349.55 1328.2 351.12 1332.12C352.69 1336.05 355.72 1348.64 357.62 1350C359.51 1351.35 360.6 1344.04 362.49 1340.25C364.39 1336.46 367.1 1330.23 368.99 1327.25C370.89 1324.27 371.97 1323.24 373.87 1322.37C375.76 1321.51 378.2 1323 380.37 1322.05C382.53 1321.1 385.3 1317.58 386.87 1316.69C388.44 1315.79 389.3 1316.69 389.79 1316.69" stroke="#a3172c" stroke-width="1.5" stroke-linejoin="round"/>
<path d="M193.5 1207.6L193.5 1458" stroke="#fbd9d9" stroke-width="3.2"/><path d="M193.5 1207.6L193.5 1458" stroke="#f25a66" stroke-width="1.5" stroke-dasharray="10 3.5"/>
<path d="M75.3 1169.9L75.3 1453.4" stroke="#0a0f0f" stroke-width="1.6"/>
<path d="M74.5 1452.6L390.3 1452.6" stroke="#0a0f0f" stroke-width="1.6"/>
<path d="M69.8 1170.7L75.3 1170.7" stroke="#0a0f0f" stroke-width="1.4"/>
<text transform="translate(67.8,1180.9) scale(0.880,1)" font-size="28.5" text-anchor="end" style="stroke:#0a0a0a;stroke-width:0.5;stroke-linejoin:round;">8</text>
<path d="M69.8 1265L75.3 1265" stroke="#0a0f0f" stroke-width="1.4"/>
<text transform="translate(67.8,1275.2) scale(0.880,1)" font-size="28.5" text-anchor="end" style="stroke:#0a0a0a;stroke-width:0.5;stroke-linejoin:round;">4</text>
<path d="M69.8 1359L75.3 1359" stroke="#0a0f0f" stroke-width="1.4"/>
<text transform="translate(67.8,1369.2) scale(0.880,1)" font-size="28.5" text-anchor="end" style="stroke:#0a0a0a;stroke-width:0.5;stroke-linejoin:round;">0</text>
<path d="M69.8 1452.6L75.3 1452.6" stroke="#0a0f0f" stroke-width="1.4"/>
<text transform="translate(67.8,1462.8) scale(0.880,1)" font-size="28.5" text-anchor="end" style="stroke:#0a0a0a;stroke-width:0.5;stroke-linejoin:round;">-4</text>
<path d="M75.3 1452.6L75.3 1457.6" stroke="#0a0f0f" stroke-width="1.4"/>
<text transform="translate(74.8,1485.6) scale(0.880,1)" font-size="28.5" text-anchor="middle" style="stroke:#0a0a0a;stroke-width:0.5;stroke-linejoin:round;">-3</text>
<path d="M114.57 1452.6L114.57 1457.6" stroke="#0a0f0f" stroke-width="1.4"/>
<text transform="translate(114.07,1485.6) scale(0.880,1)" font-size="28.5" text-anchor="middle" style="stroke:#0a0a0a;stroke-width:0.5;stroke-linejoin:round;">-2</text>
<path d="M153.85 1452.6L153.85 1457.6" stroke="#0a0f0f" stroke-width="1.4"/>
<text transform="translate(153.35,1485.6) scale(0.880,1)" font-size="28.5" text-anchor="middle" style="stroke:#0a0a0a;stroke-width:0.5;stroke-linejoin:round;">-1</text>
<path d="M193.12 1452.6L193.12 1457.6" stroke="#0a0f0f" stroke-width="1.4"/>
<text transform="translate(192.62,1485.6) scale(0.880,1)" font-size="28.5" text-anchor="middle" style="stroke:#0a0a0a;stroke-width:0.5;stroke-linejoin:round;">0</text>
<path d="M232.4 1452.6L232.4 1457.6" stroke="#0a0f0f" stroke-width="1.4"/>
<text transform="translate(231.9,1485.6) scale(0.880,1)" font-size="28.5" text-anchor="middle" style="stroke:#0a0a0a;stroke-width:0.5;stroke-linejoin:round;">1</text>
<path d="M271.68 1452.6L271.68 1457.6" stroke="#0a0f0f" stroke-width="1.4"/>
<text transform="translate(271.18,1485.6) scale(0.880,1)" font-size="28.5" text-anchor="middle" style="stroke:#0a0a0a;stroke-width:0.5;stroke-linejoin:round;">2</text>
<path d="M310.95 1452.6L310.95 1457.6" stroke="#0a0f0f" stroke-width="1.4"/>
<text transform="translate(310.45,1485.6) scale(0.880,1)" font-size="28.5" text-anchor="middle" style="stroke:#0a0a0a;stroke-width:0.5;stroke-linejoin:round;">3</text>
<path d="M350.23 1452.6L350.23 1457.6" stroke="#0a0f0f" stroke-width="1.4"/>
<text transform="translate(349.73,1485.6) scale(0.880,1)" font-size="28.5" text-anchor="middle" style="stroke:#0a0a0a;stroke-width:0.5;stroke-linejoin:round;">4</text>
<path d="M389.5 1452.6L389.5 1457.6" stroke="#0a0f0f" stroke-width="1.4"/>
<text transform="translate(389,1485.6) scale(0.880,1)" font-size="28.5" text-anchor="middle" style="stroke:#0a0a0a;stroke-width:0.5;stroke-linejoin:round;">5</text>
<text transform="translate(39.2,1520.3) scale(0.896,1)" font-size="27.5">Time from investigation <tspan style="fill:#2fe84a">onset</tspan> (s)</text>
<text transform="translate(31.6,1361) rotate(-90) scale(1.009,1)" font-size="35" style="stroke:#0a0a0a;stroke-width:0.5;stroke-linejoin:round;">Z-score</text>
<path d="M85.2 1175.8L101.2 1175.8" stroke="#ab1f2d" stroke-width="4.2"/>
<path d="M85.2 1197.3L101.2 1197.3" stroke="#cf9140" stroke-width="4.2"/>
<text transform="translate(108.2,1184.1) scale(0.990,1)" font-size="20.5" style="stroke:#0a0a0a;stroke-width:0.5;stroke-linejoin:round;">First</text>
<text transform="translate(108.2,1205.6) scale(0.984,1)" font-size="20.5" style="stroke:#0a0a0a;stroke-width:0.5;stroke-linejoin:round;">Others</text>
<path d="M493 1363L807 1363" stroke="#333" stroke-width="1.1" stroke-dasharray="1.3 1.9"/>
<path d="M492.69 1357.47C495.26 1357.53 502.3 1357.66 508.12 1357.8C513.95 1357.93 519.77 1357.47 527.62 1358.28C535.48 1359.1 549.56 1362.13 555.25 1362.67C560.94 1363.21 556.87 1362.67 561.75 1361.53C566.62 1360.4 578.54 1357.61 584.5 1355.85C590.46 1354.09 593.71 1351.3 597.5 1350.97C601.29 1350.65 603.18 1354.17 607.25 1353.9C611.31 1353.63 617 1350.38 621.87 1349.35C626.75 1348.32 632.98 1347.18 636.5 1347.72C640.02 1348.26 640.83 1351.11 643 1352.6C645.16 1354.09 647.06 1355.44 649.5 1356.66C651.93 1357.88 655.18 1359.1 657.62 1359.91C660.06 1360.72 662.22 1361.53 664.12 1361.53C666.02 1361.53 667.1 1360.59 669 1359.91C670.89 1359.23 673.33 1358.28 675.5 1357.47C677.66 1356.66 679.83 1355.98 682 1355.03C684.16 1354.09 685.79 1352.73 688.49 1351.78C691.2 1350.84 695.27 1349.21 698.24 1349.35C701.22 1349.48 704.47 1350.84 706.37 1352.6C708.27 1354.36 708.27 1358.23 709.62 1359.91C710.97 1361.59 711.79 1361.99 714.49 1362.67C717.2 1363.35 722.62 1363.43 725.87 1363.97C729.12 1364.51 731.01 1365.38 733.99 1365.92C736.97 1366.46 740.49 1367.68 743.74 1367.22C746.99 1366.76 750.51 1363.43 753.49 1363.16C756.47 1362.89 758.91 1364.38 761.62 1365.6C764.33 1366.82 766.76 1370.2 769.74 1370.47C772.72 1370.74 777.06 1368.44 779.49 1367.22C781.93 1366 782.74 1364.11 784.37 1363.16C785.99 1362.21 788.16 1362.35 789.24 1361.53C790.33 1360.72 789.78 1358.83 790.87 1358.28C791.95 1357.74 794.12 1357.61 795.74 1358.28C797.37 1358.96 798.78 1361.4 800.62 1362.35C802.46 1363.29 805.76 1363.7 806.79 1363.97L806.79 1375.02C805.76 1374.75 802.46 1374.34 800.62 1373.4C798.78 1372.45 797.37 1370.01 795.74 1369.33C794.12 1368.66 791.95 1368.79 790.87 1369.33C789.78 1369.88 790.33 1371.77 789.24 1372.58C788.16 1373.4 785.99 1373.26 784.37 1374.21C782.74 1375.16 781.93 1377.05 779.49 1378.27C777.06 1379.49 772.72 1381.79 769.74 1381.52C766.76 1381.25 764.33 1377.86 761.62 1376.65C758.91 1375.43 756.47 1373.94 753.49 1374.21C750.51 1374.48 746.99 1377.81 743.74 1378.27C740.49 1378.73 736.97 1377.51 733.99 1376.97C731.01 1376.43 729.12 1375.56 725.87 1375.02C722.62 1374.48 717.2 1374.4 714.49 1373.72C711.79 1373.04 710.97 1372.64 709.62 1370.96C708.27 1369.28 708.27 1365.41 706.37 1363.65C704.47 1361.89 701.22 1360.53 698.24 1360.4C695.27 1360.26 691.2 1361.89 688.49 1362.83C685.79 1363.78 684.16 1365.14 682 1366.08C679.83 1367.03 677.66 1367.71 675.5 1368.52C673.33 1369.33 670.89 1370.28 669 1370.96C667.1 1371.64 666.02 1372.58 664.12 1372.58C662.22 1372.58 660.06 1371.77 657.62 1370.96C655.18 1370.15 651.93 1368.93 649.5 1367.71C647.06 1366.49 645.16 1365.14 643 1363.65C640.83 1362.16 640.02 1359.31 636.5 1358.77C632.98 1358.23 626.75 1359.37 621.87 1360.4C617 1361.43 611.31 1364.68 607.25 1364.95C603.18 1365.22 601.29 1361.7 597.5 1362.02C593.71 1362.35 590.46 1365.14 584.5 1366.9C578.54 1368.66 566.62 1371.45 561.75 1372.58C556.87 1373.72 560.94 1374.26 555.25 1373.72C549.56 1373.18 535.48 1370.15 527.62 1369.33C519.77 1368.52 513.95 1368.98 508.12 1368.85C502.3 1368.71 495.26 1368.58 492.69 1368.52Z" fill="#c6e37e"/>
<path d="M492.69 1363C495.26 1363.05 502.3 1363.19 508.12 1363.32C513.95 1363.46 519.77 1363 527.62 1363.81C535.48 1364.62 549.56 1367.65 555.25 1368.2C560.94 1368.74 556.87 1368.2 561.75 1367.06C566.62 1365.92 578.54 1363.13 584.5 1361.37C590.46 1359.61 593.71 1356.82 597.5 1356.5C601.29 1356.17 603.18 1359.69 607.25 1359.42C611.31 1359.15 617 1355.9 621.87 1354.87C626.75 1353.84 632.98 1352.71 636.5 1353.25C640.02 1353.79 640.83 1356.63 643 1358.12C645.16 1359.61 647.06 1360.97 649.5 1362.18C651.93 1363.4 655.18 1364.62 657.62 1365.43C660.06 1366.25 662.22 1367.06 664.12 1367.06C666.02 1367.06 667.1 1366.11 669 1365.43C670.89 1364.76 673.33 1363.81 675.5 1363C677.66 1362.18 679.83 1361.51 682 1360.56C684.16 1359.61 685.79 1358.26 688.49 1357.31C691.2 1356.36 695.27 1354.74 698.24 1354.87C701.22 1355.01 704.47 1356.36 706.37 1358.12C708.27 1359.88 708.27 1363.75 709.62 1365.43C710.97 1367.11 711.79 1367.52 714.49 1368.2C717.2 1368.87 722.62 1368.95 725.87 1369.5C729.12 1370.04 731.01 1370.9 733.99 1371.45C736.97 1371.99 740.49 1373.21 743.74 1372.75C746.99 1372.29 750.51 1368.95 753.49 1368.68C756.47 1368.41 758.91 1369.9 761.62 1371.12C764.33 1372.34 766.76 1375.73 769.74 1376C772.72 1376.27 777.06 1373.96 779.49 1372.75C781.93 1371.53 782.74 1369.63 784.37 1368.68C785.99 1367.74 788.16 1367.87 789.24 1367.06C790.33 1366.25 789.78 1364.35 790.87 1363.81C791.95 1363.27 794.12 1363.13 795.74 1363.81C797.37 1364.49 798.78 1366.92 800.62 1367.87C802.46 1368.82 805.76 1369.23 806.79 1369.5" stroke="#a8601c" stroke-width="1.3" stroke-linejoin="round"/>
<path d="M492.69 1361.37C493.91 1361.91 497.43 1364.35 500 1364.62C502.57 1364.89 505.69 1364 508.12 1363C510.56 1361.99 512.19 1358.61 514.62 1358.61C517.06 1358.61 520.04 1361.99 522.75 1363C525.46 1364 528.17 1364.89 530.87 1364.62C533.58 1364.35 536.02 1362.4 539 1361.37C541.98 1360.34 545.5 1359.39 548.75 1358.45C552 1357.5 555.79 1356.69 558.5 1355.68C561.21 1354.68 562.29 1353.38 565 1352.43C567.71 1351.49 571.77 1350.27 574.75 1350C577.73 1349.73 580.16 1351.08 582.87 1350.81C585.58 1350.54 588.29 1350.13 591 1348.37C593.71 1346.61 596.68 1342.28 599.12 1340.25C601.56 1338.22 602.91 1337 605.62 1336.18C608.33 1335.37 612.66 1335.78 615.37 1335.37C618.08 1334.97 619.98 1334.88 621.87 1333.75C623.77 1332.61 625.12 1329.63 626.75 1328.55C628.37 1327.46 629.73 1326.65 631.62 1327.25C633.52 1327.84 636.77 1331.72 638.12 1332.12C639.48 1332.53 638.93 1329.01 639.75 1329.68C640.56 1330.36 641.91 1335.02 643 1336.18C644.08 1337.35 644.35 1336 646.25 1336.67C648.14 1337.35 651.66 1338.03 654.37 1340.25C657.08 1342.47 660.06 1347.29 662.5 1350C664.93 1352.71 666.83 1354.87 669 1356.5C671.16 1358.12 673.33 1358.93 675.5 1359.75C677.66 1360.56 679.56 1362.05 682 1361.37C684.43 1360.69 687.41 1357.17 690.12 1355.68C692.83 1354.19 695.54 1353.65 698.24 1352.43C700.95 1351.22 704.2 1349.46 706.37 1348.37C708.54 1347.29 709.35 1346.61 711.24 1345.93C713.14 1345.26 715.58 1344.31 717.74 1344.31C719.91 1344.31 722.08 1344.99 724.24 1345.93C726.41 1346.88 729.12 1349.18 730.74 1350C732.37 1350.81 732.78 1352.16 733.99 1350.81C735.21 1349.46 736.43 1344.23 738.06 1341.87C739.68 1339.52 741.98 1337.7 743.74 1336.67C745.5 1335.64 746.99 1334.97 748.62 1335.7C750.24 1336.43 751.6 1338.68 753.49 1341.06C755.39 1343.44 758.37 1348.78 759.99 1350C761.62 1351.22 761.89 1346.75 763.24 1348.37C764.6 1350 766.49 1356.5 768.12 1359.75C769.74 1363 771.1 1365.7 772.99 1367.87C774.89 1370.04 777.33 1372.34 779.49 1372.75C781.66 1373.15 783.83 1371.39 785.99 1370.31C788.16 1369.23 790.33 1366.38 792.49 1366.25C794.66 1366.11 797.1 1370.04 798.99 1369.5C800.89 1368.95 802.57 1364.68 803.87 1363C805.17 1361.32 806.3 1360.02 806.79 1359.42L806.79 1385.75C806.03 1385.48 803.81 1385.07 802.24 1384.12C800.67 1383.17 799.26 1380.19 797.37 1380.06C795.47 1379.92 793.03 1381.55 790.87 1383.31C788.7 1385.07 786.26 1389 784.37 1390.62C782.47 1392.25 781.39 1393.19 779.49 1393.06C777.6 1392.92 775.16 1391.57 772.99 1389.81C770.83 1388.05 768.39 1384.39 766.49 1382.5C764.6 1380.6 763.51 1380.6 761.62 1378.43C759.72 1376.27 757.56 1370.85 755.12 1369.5C752.68 1368.14 749.97 1370.85 746.99 1370.31C744.01 1369.77 739.95 1367.47 737.24 1366.25C734.54 1365.03 733.18 1364.08 730.74 1363C728.31 1361.91 725.33 1360.42 722.62 1359.75C719.91 1359.07 717.2 1358.39 714.49 1358.93C711.79 1359.48 709.08 1361.24 706.37 1363C703.66 1364.76 700.41 1368.28 698.24 1369.5C696.08 1370.71 694.99 1370.71 693.37 1370.31C691.74 1369.9 689.85 1366.11 688.49 1367.06C687.14 1368.01 686.87 1373.42 685.25 1376C683.62 1378.57 680.64 1382.23 678.75 1382.5C676.85 1382.77 675.77 1380.6 673.87 1377.62C671.97 1374.64 669.81 1367.6 667.37 1364.62C664.93 1361.64 662.22 1361.64 659.25 1359.75C656.27 1357.85 652.48 1354.6 649.5 1353.25C646.52 1351.89 644.08 1351.08 641.37 1351.62C638.66 1352.16 635.68 1356.23 633.25 1356.5C630.81 1356.77 628.91 1353.11 626.75 1353.25C624.58 1353.38 622.68 1356.36 620.25 1357.31C617.81 1358.26 614.29 1359.07 612.12 1358.93C609.96 1358.8 609.14 1357.17 607.25 1356.5C605.35 1355.82 603.18 1354.6 600.75 1354.87C598.31 1355.14 595.33 1356.5 592.62 1358.12C589.91 1359.75 586.66 1362.73 584.5 1364.62C582.33 1366.52 581.25 1369.09 579.62 1369.5C578 1369.9 576.37 1366.52 574.75 1367.06C573.12 1367.6 571.77 1372.61 569.87 1372.75C567.98 1372.88 565.81 1368.41 563.37 1367.87C560.94 1367.33 558.23 1368.68 555.25 1369.5C552.27 1370.31 548.21 1372.07 545.5 1372.75C542.79 1373.42 541.17 1373.02 539 1373.56C536.83 1374.1 534.67 1375.05 532.5 1376C530.33 1376.94 528.17 1379.11 526 1379.25C523.83 1379.38 521.67 1377.49 519.5 1376.81C517.33 1376.13 515.17 1375.05 513 1375.18C510.83 1375.32 508.67 1376.81 506.5 1377.62C504.33 1378.43 502.3 1381.01 500 1380.06C497.7 1379.11 493.91 1373.29 492.69 1371.93Z" fill="#f07fac"/>
<path d="M492.69 1367.06C493.91 1368.01 497.7 1372.07 500 1372.75C502.3 1373.42 504.06 1371.99 506.5 1371.12C508.94 1370.25 511.92 1367.68 514.62 1367.55C517.33 1367.41 520.04 1369.5 522.75 1370.31C525.46 1371.12 528.17 1372.83 530.87 1372.42C533.58 1372.01 536.83 1368.63 539 1367.87C541.17 1367.11 541.71 1368.68 543.87 1367.87C546.04 1367.06 549.02 1364.35 552 1363C554.98 1361.64 558.77 1360.02 561.75 1359.75C564.73 1359.48 567.44 1361.51 569.87 1361.37C572.31 1361.24 574.75 1359.07 576.37 1358.93C578 1358.8 577.73 1361.24 579.62 1360.56C581.52 1359.88 584.5 1357.17 587.75 1354.87C591 1352.57 596.14 1348.24 599.12 1346.75C602.1 1345.26 603.73 1345.66 605.62 1345.93C607.52 1346.21 608.6 1348.29 610.5 1348.37C612.39 1348.45 615.1 1346.83 617 1346.42C618.89 1346.02 620.25 1346.83 621.87 1345.93C623.5 1345.04 624.85 1341.6 626.75 1341.06C628.64 1340.52 631.22 1342.22 633.25 1342.68C635.28 1343.14 637.85 1344.23 638.93 1343.82C640.02 1343.42 639.07 1340.17 639.75 1340.25C640.42 1340.33 642.05 1343.36 643 1344.31C643.94 1345.26 644.76 1345.93 645.43 1345.93C646.11 1345.93 645.57 1343.77 647.06 1344.31C648.55 1344.85 651.8 1347.29 654.37 1349.18C656.94 1351.08 660.06 1353.38 662.5 1355.68C664.93 1357.99 666.83 1360.42 669 1363C671.16 1365.57 673.73 1369.55 675.5 1371.12C677.26 1372.69 677.93 1372.42 679.56 1372.42C681.18 1372.42 683.76 1372.56 685.25 1371.12C686.73 1369.69 686.87 1365.3 688.49 1363.81C690.12 1362.32 692.56 1363.13 694.99 1362.18C697.43 1361.24 700.41 1359.75 703.12 1358.12C705.83 1356.5 708.81 1353.65 711.24 1352.43C713.68 1351.22 715.58 1350.81 717.74 1350.81C719.91 1350.81 722.08 1351.27 724.24 1352.43C726.41 1353.6 729.12 1356.58 730.74 1357.8C732.37 1359.02 732.64 1360.1 733.99 1359.75C735.35 1359.39 736.7 1356.82 738.87 1355.68C741.04 1354.55 744.96 1353.38 746.99 1352.92C749.02 1352.46 749.43 1351.92 751.06 1352.92C752.68 1353.92 754.71 1356.58 756.74 1358.93C758.77 1361.29 761.35 1364.35 763.24 1367.06C765.14 1369.77 766.22 1372.88 768.12 1375.18C770.01 1377.49 772.59 1379.38 774.62 1380.87C776.65 1382.36 778.41 1384.39 780.31 1384.12C782.2 1383.85 783.96 1380.38 785.99 1379.25C788.02 1378.11 790.33 1377.97 792.49 1377.3C794.66 1376.62 796.96 1375.73 798.99 1375.18C801.02 1374.64 803.38 1374.72 804.68 1374.05C805.98 1373.37 806.44 1371.61 806.79 1371.12" stroke="#a3172c" stroke-width="1.5" stroke-linejoin="round"/>
<path d="M610.3 1208L610.3 1462" stroke="#fbd9d9" stroke-width="3.2"/><path d="M610.3 1208L610.3 1462" stroke="#f25a66" stroke-width="1.5" stroke-dasharray="10 3.5"/>
<path d="M492.8 1174.5L492.8 1457.4" stroke="#0a0f0f" stroke-width="1.6"/>
<path d="M492 1456.6L807.6 1456.6" stroke="#0a0f0f" stroke-width="1.6"/>
<path d="M487.3 1175.3L492.8 1175.3" stroke="#0a0f0f" stroke-width="1.4"/>
<text transform="translate(485.3,1185.5) scale(0.880,1)" font-size="28.5" text-anchor="end" style="stroke:#0a0a0a;stroke-width:0.5;stroke-linejoin:round;">8</text>
<path d="M487.3 1268.8L492.8 1268.8" stroke="#0a0f0f" stroke-width="1.4"/>
<text transform="translate(485.3,1279) scale(0.880,1)" font-size="28.5" text-anchor="end" style="stroke:#0a0a0a;stroke-width:0.5;stroke-linejoin:round;">4</text>
<path d="M487.3 1363.1L492.8 1363.1" stroke="#0a0f0f" stroke-width="1.4"/>
<text transform="translate(485.3,1373.3) scale(0.880,1)" font-size="28.5" text-anchor="end" style="stroke:#0a0a0a;stroke-width:0.5;stroke-linejoin:round;">0</text>
<path d="M487.3 1456.6L492.8 1456.6" stroke="#0a0f0f" stroke-width="1.4"/>
<text transform="translate(485.3,1466.8) scale(0.880,1)" font-size="28.5" text-anchor="end" style="stroke:#0a0a0a;stroke-width:0.5;stroke-linejoin:round;">-4</text>
<path d="M492.8 1456.6L492.8 1461.6" stroke="#0a0f0f" stroke-width="1.4"/>
<text transform="translate(492.3,1489.6) scale(0.880,1)" font-size="28.5" text-anchor="middle" style="stroke:#0a0a0a;stroke-width:0.5;stroke-linejoin:round;">-3</text>
<path d="M532.05 1456.6L532.05 1461.6" stroke="#0a0f0f" stroke-width="1.4"/>
<text transform="translate(531.55,1489.6) scale(0.880,1)" font-size="28.5" text-anchor="middle" style="stroke:#0a0a0a;stroke-width:0.5;stroke-linejoin:round;">-2</text>
<path d="M571.3 1456.6L571.3 1461.6" stroke="#0a0f0f" stroke-width="1.4"/>
<text transform="translate(570.8,1489.6) scale(0.880,1)" font-size="28.5" text-anchor="middle" style="stroke:#0a0a0a;stroke-width:0.5;stroke-linejoin:round;">-1</text>
<path d="M610.55 1456.6L610.55 1461.6" stroke="#0a0f0f" stroke-width="1.4"/>
<text transform="translate(610.05,1489.6) scale(0.880,1)" font-size="28.5" text-anchor="middle" style="stroke:#0a0a0a;stroke-width:0.5;stroke-linejoin:round;">0</text>
<path d="M649.8 1456.6L649.8 1461.6" stroke="#0a0f0f" stroke-width="1.4"/>
<text transform="translate(649.3,1489.6) scale(0.880,1)" font-size="28.5" text-anchor="middle" style="stroke:#0a0a0a;stroke-width:0.5;stroke-linejoin:round;">1</text>
<path d="M689.05 1456.6L689.05 1461.6" stroke="#0a0f0f" stroke-width="1.4"/>
<text transform="translate(688.55,1489.6) scale(0.880,1)" font-size="28.5" text-anchor="middle" style="stroke:#0a0a0a;stroke-width:0.5;stroke-linejoin:round;">2</text>
<path d="M728.3 1456.6L728.3 1461.6" stroke="#0a0f0f" stroke-width="1.4"/>
<text transform="translate(727.8,1489.6) scale(0.880,1)" font-size="28.5" text-anchor="middle" style="stroke:#0a0a0a;stroke-width:0.5;stroke-linejoin:round;">3</text>
<path d="M767.55 1456.6L767.55 1461.6" stroke="#0a0f0f" stroke-width="1.4"/>
<text transform="translate(767.05,1489.6) scale(0.880,1)" font-size="28.5" text-anchor="middle" style="stroke:#0a0a0a;stroke-width:0.5;stroke-linejoin:round;">4</text>
<path d="M806.8 1456.6L806.8 1461.6" stroke="#0a0f0f" stroke-width="1.4"/>
<text transform="translate(806.3,1489.6) scale(0.880,1)" font-size="28.5" text-anchor="middle" style="stroke:#0a0a0a;stroke-width:0.5;stroke-linejoin:round;">5</text>
<text transform="translate(456.7,1524.1) scale(0.893,1)" font-size="27.5">Time from investigation <tspan style="fill:#2fe84a">onset</tspan> (s)</text>
<text transform="translate(449.1,1365.1) rotate(-90) scale(1.009,1)" font-size="35" style="stroke:#0a0a0a;stroke-width:0.5;stroke-linejoin:round;">Z-score</text>
<path d="M502.2 1180.3L518.2 1180.3" stroke="#ab1f2d" stroke-width="4.2"/>
<path d="M502.2 1201.5L518.2 1201.5" stroke="#cf9140" stroke-width="4.2"/>
<text transform="translate(525.7,1188.4) scale(0.990,1)" font-size="20.5" style="stroke:#0a0a0a;stroke-width:0.5;stroke-linejoin:round;">First</text>
<text transform="translate(525.7,1209.9) scale(0.984,1)" font-size="20.5" style="stroke:#0a0a0a;stroke-width:0.5;stroke-linejoin:round;">Others</text>
<path d="M916 1361L1230 1361" stroke="#333" stroke-width="1.1" stroke-dasharray="1.3 1.9"/>
<path d="M915.69 1358.93C925.57 1358.66 962.95 1358.47 975 1357.31C987.05 1356.14 983.66 1351.95 988 1351.95C992.33 1351.95 996.12 1356.55 1001 1357.31C1005.87 1358.07 1011.83 1357.72 1017.25 1356.5C1022.66 1355.28 1028.08 1351.76 1033.5 1350C1038.91 1348.24 1044.6 1346.88 1049.75 1345.93C1054.89 1344.99 1060.58 1344.85 1064.37 1344.31C1068.16 1343.77 1070.06 1342.41 1072.5 1342.68C1074.93 1342.96 1076.83 1344.72 1079 1345.93C1081.16 1347.15 1081.7 1349.32 1085.5 1350C1089.29 1350.67 1096.33 1350.4 1101.75 1350C1107.16 1349.59 1113.66 1347.83 1117.99 1347.56C1122.33 1347.29 1124.09 1347.97 1127.74 1348.37C1131.4 1348.78 1137.22 1350.54 1139.93 1350C1142.64 1349.46 1141.69 1346.75 1143.99 1345.12C1146.3 1343.5 1150.49 1341.74 1153.74 1340.25C1156.99 1338.76 1160.24 1336.18 1163.49 1336.18C1166.74 1336.18 1168.91 1339.43 1173.24 1340.25C1177.58 1341.06 1185.43 1341.06 1189.49 1341.06C1193.56 1341.06 1195.45 1342.55 1197.62 1340.25C1199.78 1337.94 1200.33 1330.77 1202.49 1327.25C1204.66 1323.73 1208.45 1321.56 1210.62 1319.12C1212.78 1316.69 1213.05 1314.38 1215.49 1312.62C1217.93 1310.86 1222.86 1308.56 1225.24 1308.56C1227.63 1308.56 1229.03 1311.95 1229.79 1312.62L1229.79 1337C1229.17 1336.18 1227.35 1332.12 1226.05 1332.12C1224.75 1332.12 1223.75 1335.1 1221.99 1337C1220.23 1338.89 1217.39 1341.47 1215.49 1343.5C1213.6 1345.53 1212.24 1348.78 1210.62 1349.18C1208.99 1349.59 1207.37 1345.26 1205.74 1345.93C1204.12 1346.61 1203.58 1351.22 1200.87 1353.25C1198.16 1355.28 1193.56 1357.31 1189.49 1358.12C1185.43 1358.93 1179.74 1357.04 1176.49 1358.12C1173.24 1359.2 1173.79 1364.08 1169.99 1364.62C1166.2 1365.16 1158.62 1361.64 1153.74 1361.37C1148.87 1361.1 1145.35 1362.18 1140.74 1363C1136.14 1363.81 1130.72 1365.57 1126.12 1366.25C1121.52 1366.92 1117.18 1367.19 1113.12 1367.06C1109.06 1366.92 1105.81 1366.11 1101.75 1365.43C1097.68 1364.76 1092.54 1363.67 1088.75 1363C1084.95 1362.32 1082.79 1362.18 1079 1361.37C1075.2 1360.56 1069.25 1357.72 1066 1358.12C1062.75 1358.53 1061.93 1363.54 1059.5 1363.81C1057.06 1364.08 1054.62 1360.15 1051.37 1359.75C1048.12 1359.34 1044.6 1360.56 1040 1361.37C1035.39 1362.18 1027.81 1363.67 1023.75 1364.62C1019.68 1365.57 1019.41 1366.92 1015.62 1367.06C1011.83 1367.19 1005.6 1366.38 1001 1365.43C996.39 1364.49 992.33 1361.37 988 1361.37C983.66 1361.37 987.05 1364.76 975 1365.43C962.95 1366.11 925.57 1365.43 915.69 1365.43Z" fill="#bfe3f6"/>
<path d="M915.69 1361.37C920.16 1361.43 933.7 1361.56 942.5 1361.7C951.3 1361.83 963.08 1362.29 968.5 1362.18C973.92 1362.08 972.83 1361.72 975 1361.05C977.16 1360.37 979.33 1359.15 981.5 1358.12C983.66 1357.09 986.1 1355.14 988 1354.87C989.89 1354.6 991.11 1355.47 992.87 1356.5C994.63 1357.53 996.94 1360.23 998.56 1361.05C1000.19 1361.86 999.51 1361.45 1002.62 1361.37C1005.74 1361.29 1013.73 1361.1 1017.25 1360.56C1020.77 1360.02 1021.31 1359.07 1023.75 1358.12C1026.18 1357.17 1029.16 1355.41 1031.87 1354.87C1034.58 1354.33 1037.56 1355.09 1040 1354.87C1042.43 1354.65 1044.47 1354.06 1046.5 1353.57C1048.53 1353.08 1050.29 1351.68 1052.18 1351.95C1054.08 1352.22 1055.57 1355.12 1057.87 1355.2C1060.17 1355.28 1063.56 1353.38 1066 1352.43C1068.43 1351.49 1070.33 1349.37 1072.5 1349.51C1074.66 1349.64 1076.29 1352.08 1079 1353.25C1081.7 1354.41 1084.95 1355.82 1088.75 1356.5C1092.54 1357.17 1097.68 1357.04 1101.75 1357.31C1105.81 1357.58 1109.06 1358.04 1113.12 1358.12C1117.18 1358.2 1121.65 1357.8 1126.12 1357.8C1130.59 1357.8 1137.49 1358.61 1139.93 1358.12C1142.37 1357.63 1140.07 1355.41 1140.74 1354.87C1141.42 1354.33 1143.32 1355.28 1143.99 1354.87C1144.67 1354.47 1143.18 1353.19 1144.81 1352.43C1146.43 1351.68 1150.63 1350.94 1153.74 1350.32C1156.86 1349.7 1161.06 1348.89 1163.49 1348.7C1165.93 1348.51 1167.15 1348.37 1168.37 1349.18C1169.59 1350 1169.45 1353.57 1170.81 1353.57C1172.16 1353.57 1174.46 1350.05 1176.49 1349.18C1178.52 1348.32 1180.83 1348.02 1182.99 1348.37C1185.16 1348.72 1187.06 1351.16 1189.49 1351.3C1191.93 1351.43 1195.72 1350.21 1197.62 1349.18C1199.51 1348.16 1200.06 1347.15 1200.87 1345.12C1201.68 1343.09 1200.87 1338.76 1202.49 1337C1204.12 1335.24 1208.94 1335.37 1210.62 1334.56C1212.3 1333.75 1211.75 1333.34 1212.57 1332.12C1213.38 1330.9 1214.46 1328.33 1215.49 1327.25C1216.52 1326.16 1217.39 1326.92 1218.74 1325.62C1220.1 1324.32 1222.4 1320.48 1223.62 1319.45C1224.84 1318.42 1225.03 1318.28 1226.05 1319.45C1227.08 1320.61 1229.17 1325.27 1229.79 1326.43" stroke="#1a24b4" stroke-width="1.5" stroke-linejoin="round"/>
<path d="M915.69 1359.75C916.91 1359.61 920.43 1360.02 923 1358.93C925.57 1357.85 929.23 1354.33 931.12 1353.25C933.02 1352.16 933.02 1352.03 934.37 1352.43C935.73 1352.84 937.08 1354.74 939.25 1355.68C941.42 1356.63 944.67 1358.26 947.37 1358.12C950.08 1357.99 952.79 1354.6 955.5 1354.87C958.21 1355.14 960.92 1358.66 963.62 1359.75C966.33 1360.83 969.31 1362.32 971.75 1361.37C974.19 1360.42 976.08 1355.41 978.25 1354.06C980.41 1352.71 982.58 1353.11 984.75 1353.25C986.91 1353.38 989.35 1353.52 991.25 1354.87C993.14 1356.23 993.96 1361.37 996.12 1361.37C998.29 1361.37 1001.81 1357.17 1004.25 1354.87C1006.69 1352.57 1008.31 1349.32 1010.75 1347.56C1013.18 1345.8 1016.16 1345.8 1018.87 1344.31C1021.58 1342.82 1024.56 1340.11 1027 1338.62C1029.43 1337.13 1031.33 1336.46 1033.5 1335.37C1035.66 1334.29 1037.83 1333.61 1040 1332.12C1042.16 1330.63 1044.33 1327.11 1046.5 1326.43C1048.66 1325.76 1050.83 1326.57 1053 1328.06C1055.16 1329.55 1057.33 1332.53 1059.5 1335.37C1061.66 1338.22 1063.83 1342.68 1066 1345.12C1068.16 1347.56 1070.33 1348.64 1072.5 1350C1074.66 1351.35 1076.83 1353.52 1079 1353.25C1081.16 1352.98 1083.6 1349.46 1085.5 1348.37C1087.39 1347.29 1088.75 1346.48 1090.37 1346.75C1092 1347.02 1093.35 1347.56 1095.25 1350C1097.14 1352.43 1099.58 1357.72 1101.75 1361.37C1103.91 1365.03 1106.08 1368.95 1108.25 1371.93C1110.41 1374.91 1113.12 1377.76 1114.74 1379.25C1116.37 1380.74 1116.64 1381.68 1117.99 1380.87C1119.35 1380.06 1120.97 1376.81 1122.87 1374.37C1124.77 1371.93 1127.47 1368.2 1129.37 1366.25C1131.27 1364.3 1132.62 1362.94 1134.24 1362.67C1135.87 1362.4 1137.22 1364.03 1139.12 1364.62C1141.02 1365.22 1143.18 1366.25 1145.62 1366.25C1148.06 1366.25 1151.17 1365.43 1153.74 1364.62C1156.32 1363.81 1158.62 1361.51 1161.06 1361.37C1163.49 1361.24 1165.8 1362.32 1168.37 1363.81C1170.94 1365.3 1174.06 1368.95 1176.49 1370.31C1178.93 1371.66 1180.83 1371.26 1182.99 1371.93C1185.16 1372.61 1187.06 1374.24 1189.49 1374.37C1191.93 1374.51 1195.45 1374.1 1197.62 1372.75C1199.78 1371.39 1200.87 1368.28 1202.49 1366.25C1204.12 1364.22 1205.47 1361.78 1207.37 1360.56C1209.26 1359.34 1211.97 1358.53 1213.87 1358.93C1215.76 1359.34 1217.39 1361.37 1218.74 1363C1220.1 1364.62 1220.64 1368.01 1221.99 1368.68C1223.35 1369.36 1225.57 1367.33 1226.87 1367.06C1228.17 1366.79 1229.3 1367.06 1229.79 1367.06L1229.79 1371.93C1229.03 1372.34 1226.68 1373.56 1225.24 1374.37C1223.81 1375.18 1222.8 1376.81 1221.18 1376.81C1219.55 1376.81 1217.52 1373.15 1215.49 1374.37C1213.46 1375.59 1211.16 1381.68 1208.99 1384.12C1206.83 1386.56 1204.66 1387.78 1202.49 1389C1200.33 1390.21 1198.16 1391.3 1195.99 1391.43C1193.83 1391.57 1191.66 1390.76 1189.49 1389.81C1187.33 1388.86 1185.16 1386.96 1182.99 1385.75C1180.83 1384.53 1178.66 1382.5 1176.49 1382.5C1174.33 1382.5 1172.43 1384.8 1169.99 1385.75C1167.56 1386.69 1164.58 1388.18 1161.87 1388.18C1159.16 1388.18 1156.45 1386.96 1153.74 1385.75C1151.04 1384.53 1148.33 1382.36 1145.62 1380.87C1142.91 1379.38 1139.39 1377.76 1137.49 1376.81C1135.6 1375.86 1135.87 1373.96 1134.24 1375.18C1132.62 1376.4 1129.91 1381.28 1127.74 1384.12C1125.58 1386.96 1123.01 1390.3 1121.24 1392.25C1119.48 1394.2 1118.67 1396.09 1117.18 1395.82C1115.69 1395.55 1114.34 1392.57 1112.31 1390.62C1110.28 1388.67 1107.57 1386.56 1105 1384.12C1102.42 1381.68 1099.31 1378.57 1096.87 1376C1094.43 1373.42 1092.81 1370.31 1090.37 1368.68C1087.93 1367.06 1084.68 1366.52 1082.25 1366.25C1079.81 1365.98 1077.64 1367.06 1075.75 1367.06C1073.85 1367.06 1072.77 1367.47 1070.87 1366.25C1068.98 1365.03 1066.54 1362.45 1064.37 1359.75C1062.2 1357.04 1059.77 1352.43 1057.87 1350C1055.98 1347.56 1054.76 1346.21 1053 1345.12C1051.24 1344.04 1049.48 1342.96 1047.31 1343.5C1045.14 1344.04 1042.3 1347.29 1040 1348.37C1037.69 1349.46 1036.21 1348.78 1033.5 1350C1030.79 1351.22 1027 1353.79 1023.75 1355.68C1020.5 1357.58 1016.71 1359.61 1014 1361.37C1011.29 1363.13 1009.66 1364.35 1007.5 1366.25C1005.33 1368.14 1002.89 1370.85 1001 1372.75C999.1 1374.64 997.75 1377.89 996.12 1377.62C994.5 1377.35 992.87 1373.02 991.25 1371.12C989.62 1369.23 988.27 1367.06 986.37 1366.25C984.48 1365.43 981.9 1365.03 979.87 1366.25C977.84 1367.47 976.62 1372.26 974.19 1373.56C971.75 1374.86 968.09 1374.86 965.25 1374.05C962.4 1373.23 959.83 1369.58 957.12 1368.68C954.42 1367.79 951.98 1368.68 949 1368.68C946.02 1368.68 942.23 1369.09 939.25 1368.68C936.27 1368.28 933.83 1365.98 931.12 1366.25C928.42 1366.52 925.57 1369.77 923 1370.31C920.43 1370.85 916.91 1369.63 915.69 1369.5Z" fill="#cdd4d0"/>
<path d="M915.69 1364.62C916.91 1364.49 920.43 1364.68 923 1363.81C925.57 1362.94 928.42 1359.69 931.12 1359.42C933.83 1359.15 936.54 1361.45 939.25 1362.18C941.96 1362.92 944.67 1363.94 947.37 1363.81C950.08 1363.67 952.79 1360.97 955.5 1361.37C958.21 1361.78 960.92 1365.11 963.62 1366.25C966.33 1367.38 969.85 1368.06 971.75 1368.2C973.64 1368.33 973.92 1368.47 975 1367.06C976.08 1365.65 976.62 1361.1 978.25 1359.75C979.87 1358.39 982.85 1358.8 984.75 1358.93C986.64 1359.07 987.73 1358.53 989.62 1360.56C991.52 1362.59 993.96 1370.44 996.12 1371.12C998.29 1371.8 1000.73 1366.52 1002.62 1364.62C1004.52 1362.73 1005.6 1361.64 1007.5 1359.75C1009.39 1357.85 1011.29 1355.28 1014 1353.25C1016.71 1351.22 1020.5 1349.46 1023.75 1347.56C1027 1345.66 1031.06 1342.96 1033.5 1341.87C1035.93 1340.79 1036.75 1341.87 1038.37 1341.06C1040 1340.25 1041.76 1338.03 1043.25 1337C1044.74 1335.97 1045.68 1334.88 1047.31 1334.88C1048.93 1334.88 1051.24 1335.83 1053 1337C1054.76 1338.16 1055.98 1339.43 1057.87 1341.87C1059.77 1344.31 1062.2 1348.78 1064.37 1351.62C1066.54 1354.47 1069.11 1357.31 1070.87 1358.93C1072.63 1360.56 1073.85 1361.37 1074.93 1361.37C1076.02 1361.37 1076.15 1359.2 1077.37 1358.93C1078.59 1358.66 1080.08 1359.88 1082.25 1359.75C1084.41 1359.61 1088.2 1357.85 1090.37 1358.12C1092.54 1358.39 1093.35 1359.2 1095.25 1361.37C1097.14 1363.54 1099.58 1368.14 1101.75 1371.12C1103.91 1374.1 1106.35 1377.08 1108.25 1379.25C1110.14 1381.41 1111.63 1382.77 1113.12 1384.12C1114.61 1385.48 1115.83 1387.37 1117.18 1387.37C1118.54 1387.37 1119.48 1386.02 1121.24 1384.12C1123.01 1382.23 1125.58 1378.49 1127.74 1376C1129.91 1373.5 1132.62 1369.98 1134.24 1369.17C1135.87 1368.36 1135.87 1370.39 1137.49 1371.12C1139.12 1371.85 1141.83 1372.75 1143.99 1373.56C1146.16 1374.37 1148.33 1375.64 1150.49 1376C1152.66 1376.35 1154.83 1375.94 1156.99 1375.67C1159.16 1375.4 1161.06 1374.59 1163.49 1374.37C1165.93 1374.15 1169.18 1373.96 1171.62 1374.37C1174.06 1374.78 1175.95 1376 1178.12 1376.81C1180.28 1377.62 1182.72 1378.24 1184.62 1379.25C1186.51 1380.25 1187.6 1382.41 1189.49 1382.82C1191.39 1383.23 1193.83 1382.69 1195.99 1381.68C1198.16 1380.68 1200.6 1378.3 1202.49 1376.81C1204.39 1375.32 1205.2 1374.18 1207.37 1372.75C1209.53 1371.31 1213.19 1368.06 1215.49 1368.2C1217.79 1368.33 1219.55 1373.07 1221.18 1373.56C1222.8 1374.05 1223.81 1371.85 1225.24 1371.12C1226.68 1370.39 1229.03 1369.5 1229.79 1369.17" stroke="#767c7a" stroke-width="1.5" stroke-linejoin="round"/>
<path d="M1033.7 1207L1033.7 1460" stroke="#fbd9d9" stroke-width="3.2"/><path d="M1033.7 1207L1033.7 1460" stroke="#f25a66" stroke-width="1.5" stroke-dasharray="10 3.5"/>
<path d="M915.8 1172.7L915.8 1455.4" stroke="#0a0f0f" stroke-width="1.6"/>
<path d="M915 1454.6L1230.8 1454.6" stroke="#0a0f0f" stroke-width="1.6"/>
<path d="M910.3 1173.5L915.8 1173.5" stroke="#0a0f0f" stroke-width="1.4"/>
<text transform="translate(908.3,1183.7) scale(0.880,1)" font-size="28.5" text-anchor="end" style="stroke:#0a0a0a;stroke-width:0.5;stroke-linejoin:round;">8</text>
<path d="M910.3 1267L915.8 1267" stroke="#0a0f0f" stroke-width="1.4"/>
<text transform="translate(908.3,1277.2) scale(0.880,1)" font-size="28.5" text-anchor="end" style="stroke:#0a0a0a;stroke-width:0.5;stroke-linejoin:round;">4</text>
<path d="M910.3 1361.1L915.8 1361.1" stroke="#0a0f0f" stroke-width="1.4"/>
<text transform="translate(908.3,1371.3) scale(0.880,1)" font-size="28.5" text-anchor="end" style="stroke:#0a0a0a;stroke-width:0.5;stroke-linejoin:round;">0</text>
<path d="M910.3 1454.6L915.8 1454.6" stroke="#0a0f0f" stroke-width="1.4"/>
<text transform="translate(908.3,1464.8) scale(0.880,1)" font-size="28.5" text-anchor="end" style="stroke:#0a0a0a;stroke-width:0.5;stroke-linejoin:round;">-4</text>
<path d="M915.8 1454.6L915.8 1459.6" stroke="#0a0f0f" stroke-width="1.4"/>
<text transform="translate(915.3,1487.6) scale(0.880,1)" font-size="28.5" text-anchor="middle" style="stroke:#0a0a0a;stroke-width:0.5;stroke-linejoin:round;">-3</text>
<path d="M955.07 1454.6L955.07 1459.6" stroke="#0a0f0f" stroke-width="1.4"/>
<text transform="translate(954.57,1487.6) scale(0.880,1)" font-size="28.5" text-anchor="middle" style="stroke:#0a0a0a;stroke-width:0.5;stroke-linejoin:round;">-2</text>
<path d="M994.35 1454.6L994.35 1459.6" stroke="#0a0f0f" stroke-width="1.4"/>
<text transform="translate(993.85,1487.6) scale(0.880,1)" font-size="28.5" text-anchor="middle" style="stroke:#0a0a0a;stroke-width:0.5;stroke-linejoin:round;">-1</text>
<path d="M1033.62 1454.6L1033.62 1459.6" stroke="#0a0f0f" stroke-width="1.4"/>
<text transform="translate(1033.12,1487.6) scale(0.880,1)" font-size="28.5" text-anchor="middle" style="stroke:#0a0a0a;stroke-width:0.5;stroke-linejoin:round;">0</text>
<path d="M1072.9 1454.6L1072.9 1459.6" stroke="#0a0f0f" stroke-width="1.4"/>
<text transform="translate(1072.4,1487.6) scale(0.880,1)" font-size="28.5" text-anchor="middle" style="stroke:#0a0a0a;stroke-width:0.5;stroke-linejoin:round;">1</text>
<path d="M1112.17 1454.6L1112.17 1459.6" stroke="#0a0f0f" stroke-width="1.4"/>
<text transform="translate(1111.67,1487.6) scale(0.880,1)" font-size="28.5" text-anchor="middle" style="stroke:#0a0a0a;stroke-width:0.5;stroke-linejoin:round;">2</text>
<path d="M1151.45 1454.6L1151.45 1459.6" stroke="#0a0f0f" stroke-width="1.4"/>
<text transform="translate(1150.95,1487.6) scale(0.880,1)" font-size="28.5" text-anchor="middle" style="stroke:#0a0a0a;stroke-width:0.5;stroke-linejoin:round;">3</text>
<path d="M1190.72 1454.6L1190.72 1459.6" stroke="#0a0f0f" stroke-width="1.4"/>
<text transform="translate(1190.22,1487.6) scale(0.880,1)" font-size="28.5" text-anchor="middle" style="stroke:#0a0a0a;stroke-width:0.5;stroke-linejoin:round;">4</text>
<path d="M1230 1454.6L1230 1459.6" stroke="#0a0f0f" stroke-width="1.4"/>
<text transform="translate(1229.5,1487.6) scale(0.880,1)" font-size="28.5" text-anchor="middle" style="stroke:#0a0a0a;stroke-width:0.5;stroke-linejoin:round;">5</text>
<text transform="translate(879.9,1522.1) scale(0.894,1)" font-size="27.5">Time from investigation <tspan style="fill:#2fe84a">onset</tspan> (s)</text>
<text transform="translate(872.4,1363.1) rotate(-90) scale(1.009,1)" font-size="35" style="stroke:#0a0a0a;stroke-width:0.5;stroke-linejoin:round;">Z-score</text>
<path d="M925.5 1177.8L941.5 1177.8" stroke="#8e9492" stroke-width="4.2"/>
<path d="M925.5 1198.5L941.5 1198.5" stroke="#2030c0" stroke-width="4.2"/>
<text transform="translate(948.7,1186.1) scale(0.990,1)" font-size="20.5" style="stroke:#0a0a0a;stroke-width:0.5;stroke-linejoin:round;">First</text>
<text transform="translate(948.7,1206.9) scale(0.984,1)" font-size="20.5" style="stroke:#0a0a0a;stroke-width:0.5;stroke-linejoin:round;">Others</text>
<path d="M1323 1360L1637 1360" stroke="#333" stroke-width="1.1" stroke-dasharray="1.3 1.9"/>
<path d="M1322.5 1356.5C1329.54 1356.5 1355.54 1356.9 1364.75 1356.5C1373.96 1356.09 1373.14 1354.06 1377.75 1354.06C1382.35 1354.06 1387.5 1355.82 1392.37 1356.5C1397.25 1357.17 1400.23 1358.53 1407 1358.12C1413.77 1357.72 1426.5 1355.68 1433 1354.06C1439.5 1352.43 1443.02 1349.05 1446 1348.37C1448.98 1347.69 1448.16 1348.91 1450.87 1350C1453.58 1351.08 1457.1 1353.25 1462.25 1354.87C1467.39 1356.5 1474.98 1359.07 1481.75 1359.75C1488.52 1360.42 1497.18 1360.15 1502.87 1358.93C1508.56 1357.72 1511.27 1354.06 1515.87 1352.43C1520.47 1350.81 1526.43 1350.27 1530.49 1349.18C1534.56 1348.1 1536.18 1346.07 1540.24 1345.93C1544.31 1345.8 1550.26 1347.69 1554.87 1348.37C1559.47 1349.05 1564.35 1350.54 1567.87 1350C1571.39 1349.46 1573.29 1346.61 1575.99 1345.12C1578.7 1343.63 1581.41 1341.47 1584.12 1341.06C1586.83 1340.65 1589.26 1342.6 1592.24 1342.68C1595.22 1342.77 1599.01 1341.14 1601.99 1341.55C1604.97 1341.95 1607.68 1343.71 1610.12 1345.12C1612.56 1346.53 1614.45 1347.83 1616.62 1350C1618.78 1352.16 1620.68 1356.9 1623.12 1358.12C1625.55 1359.34 1629.02 1357.04 1631.24 1357.31C1633.46 1357.58 1635.58 1359.34 1636.44 1359.75L1636.44 1379.25C1635.3 1378.43 1632.11 1375.32 1629.62 1374.37C1627.13 1373.42 1623.93 1374.91 1621.49 1373.56C1619.05 1372.2 1617.7 1368.01 1614.99 1366.25C1612.28 1364.49 1608.49 1363.54 1605.24 1363C1601.99 1362.45 1598.74 1362.18 1595.49 1363C1592.24 1363.81 1588.99 1366.92 1585.74 1367.87C1582.49 1368.82 1579.24 1368.14 1575.99 1368.68C1572.74 1369.23 1568.95 1371.66 1566.24 1371.12C1563.54 1370.58 1562.99 1366.92 1559.74 1365.43C1556.49 1363.94 1551.62 1362.86 1546.74 1362.18C1541.87 1361.51 1535.1 1360.97 1530.49 1361.37C1525.89 1361.78 1523.72 1363.54 1519.12 1364.62C1514.52 1365.7 1508.02 1367.19 1502.87 1367.87C1497.72 1368.55 1491.77 1368.82 1488.25 1368.68C1484.72 1368.55 1486.08 1368.28 1481.75 1367.06C1477.41 1365.84 1467.39 1363.4 1462.25 1361.37C1457.1 1359.34 1454.66 1355.14 1450.87 1354.87C1447.08 1354.6 1444.1 1358.39 1439.5 1359.75C1434.89 1361.1 1428.66 1362.18 1423.25 1363C1417.83 1363.81 1414.04 1364.76 1407 1364.62C1399.96 1364.49 1390.75 1362.18 1381 1362.18C1371.25 1362.18 1358.25 1364.22 1348.5 1364.62C1338.75 1365.03 1326.83 1364.62 1322.5 1364.62Z" fill="#bfe3f6"/>
<path d="M1322.5 1360.07C1323.58 1360.02 1324.67 1359.85 1329 1359.75C1333.33 1359.64 1341.05 1359.61 1348.5 1359.42C1355.95 1359.23 1368.81 1358.88 1373.69 1358.61C1378.56 1358.34 1375.99 1357.82 1377.75 1357.8C1379.51 1357.77 1381.81 1358.12 1384.25 1358.45C1386.69 1358.77 1390.21 1359.67 1392.37 1359.75C1394.54 1359.83 1394.81 1358.72 1397.25 1358.93C1399.69 1359.15 1402.53 1360.97 1407 1361.05C1411.47 1361.13 1419.73 1359.96 1424.06 1359.42C1428.39 1358.88 1430.42 1358.42 1433 1357.8C1435.57 1357.17 1437.33 1356.77 1439.5 1355.68C1441.66 1354.6 1444.51 1352.11 1446 1351.3C1447.49 1350.48 1445.73 1349.67 1448.43 1350.81C1451.14 1351.95 1456.69 1355.95 1462.25 1358.12C1467.8 1360.29 1477.41 1362.78 1481.75 1363.81C1486.08 1364.84 1486.08 1364.3 1488.25 1364.3C1490.41 1364.3 1492.31 1364.03 1494.75 1363.81C1497.18 1363.59 1500.16 1363.46 1502.87 1363C1505.58 1362.54 1508.29 1361.99 1511 1361.05C1513.7 1360.1 1515.87 1358.12 1519.12 1357.31C1522.37 1356.5 1527.24 1356.79 1530.49 1356.17C1533.74 1355.55 1535.91 1353.92 1538.62 1353.57C1541.33 1353.22 1544.04 1353.84 1546.74 1354.06C1549.45 1354.28 1552.43 1354.25 1554.87 1354.87C1557.31 1355.49 1559.34 1356.77 1561.37 1357.8C1563.4 1358.83 1565.57 1360.67 1567.06 1361.05C1568.55 1361.43 1568.82 1360.83 1570.31 1360.07C1571.8 1359.31 1573.42 1357.31 1575.99 1356.5C1578.57 1355.68 1582.76 1355.6 1585.74 1355.2C1588.72 1354.79 1591.7 1354.65 1593.87 1354.06C1596.03 1353.46 1597.12 1352.08 1598.74 1351.62C1600.37 1351.16 1601.99 1351.08 1603.62 1351.3C1605.24 1351.51 1606.87 1351.78 1608.49 1352.92C1610.12 1354.06 1611.74 1356.58 1613.37 1358.12C1614.99 1359.67 1616.62 1360.88 1618.24 1362.18C1619.87 1363.48 1621.09 1365.24 1623.12 1365.92C1625.15 1366.6 1629.21 1366.19 1630.43 1366.25" stroke="#1a24b4" stroke-width="1.5" stroke-linejoin="round"/>
<path d="M1322.5 1361.37C1323.85 1361.37 1328.19 1361.91 1330.62 1361.37C1333.06 1360.83 1334.96 1359.61 1337.12 1358.12C1339.29 1356.63 1341.73 1353.73 1343.62 1352.43C1345.52 1351.13 1346.33 1350.05 1348.5 1350.32C1350.67 1350.59 1353.92 1353.03 1356.62 1354.06C1359.33 1355.09 1362.31 1355.95 1364.75 1356.5C1367.19 1357.04 1369.08 1356.5 1371.25 1357.31C1373.42 1358.12 1374.5 1360.83 1377.75 1361.37C1381 1361.91 1387.09 1360.56 1390.75 1360.56C1394.4 1360.56 1396.98 1360.97 1399.69 1361.37C1402.39 1361.78 1404.7 1363.81 1407 1363C1409.3 1362.18 1411.33 1359.2 1413.5 1356.5C1415.66 1353.79 1417.83 1350.13 1420 1346.75C1422.16 1343.36 1424.47 1339.22 1426.5 1336.18C1428.53 1333.15 1430.56 1330.17 1432.18 1328.55C1433.81 1326.92 1434.62 1326.25 1436.25 1326.43C1437.87 1326.62 1440.04 1327.65 1441.93 1329.68C1443.83 1331.72 1445.59 1336.59 1447.62 1338.62C1449.65 1340.65 1451.95 1340.38 1454.12 1341.87C1456.29 1343.36 1458.45 1346.48 1460.62 1347.56C1462.79 1348.64 1465.23 1346.88 1467.12 1348.37C1469.02 1349.86 1469.83 1354.33 1472 1356.5C1474.16 1358.66 1477.41 1359.2 1480.12 1361.37C1482.83 1363.54 1485.54 1368.01 1488.25 1369.5C1490.95 1370.99 1493.66 1369.63 1496.37 1370.31C1499.08 1370.99 1501.79 1374.1 1504.5 1373.56C1507.2 1373.02 1510.18 1369.63 1512.62 1367.06C1515.06 1364.49 1517.44 1360.29 1519.12 1358.12C1520.8 1355.95 1521.34 1354.06 1522.69 1354.06C1524.05 1354.06 1525.4 1357.04 1527.24 1358.12C1529.09 1359.2 1531.58 1359.48 1533.74 1360.56C1535.91 1361.64 1537.81 1362.73 1540.24 1364.62C1542.68 1366.52 1545.66 1370.04 1548.37 1371.93C1551.08 1373.83 1553.79 1375.86 1556.49 1376C1559.2 1376.13 1562.18 1372.88 1564.62 1372.75C1567.06 1372.61 1568.95 1374.24 1571.12 1375.18C1573.29 1376.13 1575.45 1378.3 1577.62 1378.43C1579.79 1378.57 1581.68 1377.21 1584.12 1376C1586.56 1374.78 1589.81 1372.75 1592.24 1371.12C1594.68 1369.5 1596.58 1367.87 1598.74 1366.25C1600.91 1364.62 1603.35 1361.37 1605.24 1361.37C1607.14 1361.37 1608.49 1364.08 1610.12 1366.25C1611.74 1368.41 1613.37 1371.39 1614.99 1374.37C1616.62 1377.35 1618.24 1381.95 1619.87 1384.12C1621.49 1386.29 1623.12 1390.35 1624.74 1387.37C1626.37 1384.39 1628.26 1372.48 1629.62 1366.25C1630.97 1360.02 1631.73 1355.41 1632.87 1350C1634 1344.58 1635.85 1336.46 1636.44 1333.75L1636.44 1376C1635.85 1377.08 1634.28 1377.35 1632.87 1382.5C1631.46 1387.64 1629.35 1399.83 1627.99 1406.87C1626.64 1413.91 1626.1 1420.01 1624.74 1424.74C1623.39 1429.48 1621.49 1433.01 1619.87 1435.31C1618.24 1437.61 1616.89 1438.42 1614.99 1438.56C1613.1 1438.69 1610.74 1435.44 1608.49 1436.12C1606.24 1436.8 1602.72 1444.24 1601.51 1442.62C1600.29 1440.99 1601.91 1428.4 1601.18 1426.37C1600.45 1424.34 1598.88 1431.24 1597.12 1430.43C1595.36 1429.62 1593.06 1425.15 1590.62 1421.49C1588.18 1417.84 1584.93 1410.53 1582.49 1408.5C1580.06 1406.46 1578.43 1409.98 1575.99 1409.31C1573.56 1408.63 1570.58 1405.92 1567.87 1404.43C1565.16 1402.94 1562.32 1401.45 1559.74 1400.37C1557.17 1399.29 1554.06 1399.83 1552.43 1397.93C1550.81 1396.04 1551.48 1391.57 1549.99 1389C1548.5 1386.42 1545.66 1383.99 1543.49 1382.5C1541.33 1381.01 1539.3 1380.06 1536.99 1380.06C1534.69 1380.06 1531.04 1382.9 1529.68 1382.5C1528.33 1382.09 1530.63 1378.3 1528.87 1377.62C1527.11 1376.94 1521.83 1378.16 1519.12 1378.43C1516.41 1378.7 1514.79 1378.84 1512.62 1379.25C1510.45 1379.65 1508.83 1380.74 1506.12 1380.87C1503.41 1381.01 1498.94 1379.25 1496.37 1380.06C1493.8 1380.87 1492.58 1385.07 1490.68 1385.75C1488.79 1386.42 1487.03 1385.75 1485 1384.12C1482.96 1382.5 1480.93 1378.16 1478.5 1376C1476.06 1373.83 1473.08 1373.02 1470.37 1371.12C1467.66 1369.23 1464.95 1367.33 1462.25 1364.62C1459.54 1361.91 1456.56 1357.58 1454.12 1354.87C1451.68 1352.16 1449.52 1350.27 1447.62 1348.37C1445.73 1346.48 1444.51 1344.44 1442.75 1343.5C1440.99 1342.55 1438.96 1341.87 1437.06 1342.68C1435.16 1343.5 1433.4 1345.8 1431.37 1348.37C1429.34 1350.94 1427.04 1355.41 1424.87 1358.12C1422.71 1360.83 1421.35 1362.05 1418.37 1364.62C1415.39 1367.19 1409.98 1372.61 1407 1373.56C1404.02 1374.51 1402.39 1370.71 1400.5 1370.31C1398.6 1369.9 1397.52 1371.39 1395.62 1371.12C1393.73 1370.85 1392.1 1368.74 1389.12 1368.68C1386.14 1368.63 1380.73 1371.2 1377.75 1370.8C1374.77 1370.39 1374.77 1367.14 1371.25 1366.25C1367.73 1365.35 1360.42 1365.98 1356.62 1365.43C1352.83 1364.89 1350.67 1363.13 1348.5 1363C1346.33 1362.86 1345.52 1362.73 1343.62 1364.62C1341.73 1366.52 1339.29 1372.07 1337.12 1374.37C1334.96 1376.67 1333.06 1378.7 1330.62 1378.43C1328.19 1378.16 1323.85 1373.69 1322.5 1372.75Z" fill="#cdd4d0"/>
<path d="M1322.5 1365.43C1323.85 1365.98 1328.19 1368.68 1330.62 1368.68C1333.06 1368.68 1334.96 1367.19 1337.12 1365.43C1339.29 1363.67 1341.73 1359.61 1343.62 1358.12C1345.52 1356.63 1346.33 1356.28 1348.5 1356.5C1350.67 1356.71 1353.92 1358.74 1356.62 1359.42C1359.33 1360.1 1362.31 1360.1 1364.75 1360.56C1367.19 1361.02 1369.08 1361.24 1371.25 1362.18C1373.42 1363.13 1375.58 1365.43 1377.75 1366.25C1379.92 1367.06 1382.08 1367.33 1384.25 1367.06C1386.41 1366.79 1388.85 1364.62 1390.75 1364.62C1392.64 1364.62 1394.13 1366.92 1395.62 1367.06C1397.11 1367.19 1397.93 1365.24 1399.69 1365.43C1401.45 1365.62 1403.88 1368.6 1406.19 1368.2C1408.49 1367.79 1411.2 1365.22 1413.5 1363C1415.8 1360.78 1417.83 1357.85 1420 1354.87C1422.16 1351.89 1424.33 1348.24 1426.5 1345.12C1428.66 1342.01 1431.24 1337.94 1433 1336.18C1434.76 1334.42 1435.71 1334.7 1437.06 1334.56C1438.41 1334.42 1439.63 1334.15 1441.12 1335.37C1442.61 1336.59 1444.1 1339.71 1446 1341.87C1447.89 1344.04 1450.33 1346.48 1452.5 1348.37C1454.66 1350.27 1456.83 1351.49 1459 1353.25C1461.16 1355.01 1463.33 1357.04 1465.5 1358.93C1467.66 1360.83 1469.83 1363 1472 1364.62C1474.16 1366.25 1476.33 1367.06 1478.5 1368.68C1480.66 1370.31 1482.96 1372.94 1485 1374.37C1487.03 1375.81 1488.79 1377.16 1490.68 1377.3C1492.58 1377.43 1494.34 1375.4 1496.37 1375.18C1498.4 1374.97 1501.25 1375.64 1502.87 1376C1504.5 1376.35 1504.5 1377.57 1506.12 1377.3C1507.75 1377.03 1510.45 1375.81 1512.62 1374.37C1514.79 1372.94 1517.49 1370.17 1519.12 1368.68C1520.74 1367.19 1521.02 1365.62 1522.37 1365.43C1523.72 1365.24 1525.89 1366.73 1527.24 1367.55C1528.6 1368.36 1529.14 1370.04 1530.49 1370.31C1531.85 1370.58 1533.74 1368.63 1535.37 1369.17C1536.99 1369.71 1538.35 1372.15 1540.24 1373.56C1542.14 1374.97 1544.71 1375.59 1546.74 1377.62C1548.78 1379.65 1550.26 1384.12 1552.43 1385.75C1554.6 1387.37 1557.44 1386.69 1559.74 1387.37C1562.05 1388.05 1564.62 1389.54 1566.24 1389.81C1567.87 1390.08 1567.87 1388.32 1569.49 1389C1571.12 1389.67 1573.83 1393.19 1575.99 1393.87C1578.16 1394.55 1580.33 1392.52 1582.49 1393.06C1584.66 1393.6 1586.83 1395.77 1588.99 1397.12C1591.16 1398.47 1593.6 1401.18 1595.49 1401.18C1597.39 1401.18 1599.37 1396.58 1600.37 1397.12C1601.37 1397.66 1600.42 1404.03 1601.51 1404.43C1602.59 1404.84 1604.89 1399.42 1606.87 1399.56C1608.84 1399.69 1611.2 1403.62 1613.37 1405.25C1615.53 1406.87 1618.11 1409.31 1619.87 1409.31C1621.63 1409.31 1622.58 1408.63 1623.93 1405.25C1625.28 1401.86 1626.64 1394.95 1627.99 1389C1629.35 1383.04 1630.65 1375.45 1632.05 1369.5C1633.46 1363.54 1635.71 1355.95 1636.44 1353.25" stroke="#767c7a" stroke-width="1.5" stroke-linejoin="round"/>
<path d="M1440 1206L1440 1459" stroke="#fbd9d9" stroke-width="3.2"/><path d="M1440 1206L1440 1459" stroke="#f25a66" stroke-width="1.5" stroke-dasharray="10 3.5"/>
<path d="M1322.4 1172L1322.4 1454.1" stroke="#0a0f0f" stroke-width="1.6"/>
<path d="M1321.6 1453.3L1637.4 1453.3" stroke="#0a0f0f" stroke-width="1.6"/>
<path d="M1316.9 1172.8L1322.4 1172.8" stroke="#0a0f0f" stroke-width="1.4"/>
<text transform="translate(1314.9,1183) scale(0.880,1)" font-size="28.5" text-anchor="end" style="stroke:#0a0a0a;stroke-width:0.5;stroke-linejoin:round;">8</text>
<path d="M1316.9 1266.3L1322.4 1266.3" stroke="#0a0f0f" stroke-width="1.4"/>
<text transform="translate(1314.9,1276.5) scale(0.880,1)" font-size="28.5" text-anchor="end" style="stroke:#0a0a0a;stroke-width:0.5;stroke-linejoin:round;">4</text>
<path d="M1316.9 1359.8L1322.4 1359.8" stroke="#0a0f0f" stroke-width="1.4"/>
<text transform="translate(1314.9,1370) scale(0.880,1)" font-size="28.5" text-anchor="end" style="stroke:#0a0a0a;stroke-width:0.5;stroke-linejoin:round;">0</text>
<path d="M1316.9 1453.3L1322.4 1453.3" stroke="#0a0f0f" stroke-width="1.4"/>
<text transform="translate(1314.9,1463.5) scale(0.880,1)" font-size="28.5" text-anchor="end" style="stroke:#0a0a0a;stroke-width:0.5;stroke-linejoin:round;">-4</text>
<path d="M1322.4 1453.3L1322.4 1458.3" stroke="#0a0f0f" stroke-width="1.4"/>
<text transform="translate(1321.9,1486.3) scale(0.880,1)" font-size="28.5" text-anchor="middle" style="stroke:#0a0a0a;stroke-width:0.5;stroke-linejoin:round;">-3</text>
<path d="M1361.68 1453.3L1361.68 1458.3" stroke="#0a0f0f" stroke-width="1.4"/>
<text transform="translate(1361.18,1486.3) scale(0.880,1)" font-size="28.5" text-anchor="middle" style="stroke:#0a0a0a;stroke-width:0.5;stroke-linejoin:round;">-2</text>
<path d="M1400.95 1453.3L1400.95 1458.3" stroke="#0a0f0f" stroke-width="1.4"/>
<text transform="translate(1400.45,1486.3) scale(0.880,1)" font-size="28.5" text-anchor="middle" style="stroke:#0a0a0a;stroke-width:0.5;stroke-linejoin:round;">-1</text>
<path d="M1440.22 1453.3L1440.22 1458.3" stroke="#0a0f0f" stroke-width="1.4"/>
<text transform="translate(1439.72,1486.3) scale(0.880,1)" font-size="28.5" text-anchor="middle" style="stroke:#0a0a0a;stroke-width:0.5;stroke-linejoin:round;">0</text>
<path d="M1479.5 1453.3L1479.5 1458.3" stroke="#0a0f0f" stroke-width="1.4"/>
<text transform="translate(1479,1486.3) scale(0.880,1)" font-size="28.5" text-anchor="middle" style="stroke:#0a0a0a;stroke-width:0.5;stroke-linejoin:round;">1</text>
<path d="M1518.78 1453.3L1518.78 1458.3" stroke="#0a0f0f" stroke-width="1.4"/>
<text transform="translate(1518.28,1486.3) scale(0.880,1)" font-size="28.5" text-anchor="middle" style="stroke:#0a0a0a;stroke-width:0.5;stroke-linejoin:round;">2</text>
<path d="M1558.05 1453.3L1558.05 1458.3" stroke="#0a0f0f" stroke-width="1.4"/>
<text transform="translate(1557.55,1486.3) scale(0.880,1)" font-size="28.5" text-anchor="middle" style="stroke:#0a0a0a;stroke-width:0.5;stroke-linejoin:round;">3</text>
<path d="M1597.32 1453.3L1597.32 1458.3" stroke="#0a0f0f" stroke-width="1.4"/>
<text transform="translate(1596.82,1486.3) scale(0.880,1)" font-size="28.5" text-anchor="middle" style="stroke:#0a0a0a;stroke-width:0.5;stroke-linejoin:round;">4</text>
<path d="M1636.6 1453.3L1636.6 1458.3" stroke="#0a0f0f" stroke-width="1.4"/>
<text transform="translate(1636.1,1486.3) scale(0.880,1)" font-size="28.5" text-anchor="middle" style="stroke:#0a0a0a;stroke-width:0.5;stroke-linejoin:round;">5</text>
<text transform="translate(1286,1521.1) scale(0.894,1)" font-size="27.5">Time from investigation <tspan style="fill:#2fe84a">onset</tspan> (s)</text>
<text transform="translate(1279,1361.8) rotate(-90) scale(1.009,1)" font-size="35" style="stroke:#0a0a0a;stroke-width:0.5;stroke-linejoin:round;">Z-score</text>
<path d="M1332 1176.5L1348 1176.5" stroke="#8e9492" stroke-width="4.2"/>
<path d="M1332 1197.5L1348 1197.5" stroke="#2030c0" stroke-width="4.2"/>
<text transform="translate(1355.3,1184.9) scale(0.990,1)" font-size="20.5" style="stroke:#0a0a0a;stroke-width:0.5;stroke-linejoin:round;">First</text>
<text transform="translate(1355.3,1205.6) scale(0.984,1)" font-size="20.5" style="stroke:#0a0a0a;stroke-width:0.5;stroke-linejoin:round;">Others</text>
</g>
<g id="panel_h">
<text transform="translate(1675.5,802.4) scale(0.840,1)" font-size="57">h</text>
<rect x="1813.82" y="908.32" width="23.75" height="58.68" fill="#fff" stroke="#10181a" stroke-width="1.4"/>
<rect x="1852.09" y="959.45" width="23.19" height="7.54" fill="#fff" stroke="#10181a" stroke-width="1.4"/>
<rect x="1914.96" y="959.45" width="23.75" height="7.54" fill="#fff" stroke="#10181a" stroke-width="1.4"/>
<rect x="1953.24" y="959.45" width="23.19" height="7.54" fill="#fff" stroke="#10181a" stroke-width="1.4"/>
<path d="M1800.3 967L1990.5 967" stroke="#10181a" stroke-width="1.5"/>
<g fill="#f4a3ba" fill-opacity="0.92" stroke="#10181a" stroke-width="1.8"><ellipse cx="1825.69" cy="829.81" rx="5.2" ry="5.7"/><ellipse cx="1825.69" cy="869.48" rx="5.2" ry="5.7"/><ellipse cx="1825.69" cy="884.01" rx="5.2" ry="5.7"/><ellipse cx="1825.69" cy="916.98" rx="5.2" ry="5.7"/><ellipse cx="1818.42" cy="944.08" rx="5.2" ry="5.7"/><ellipse cx="1833.23" cy="946.88" rx="5.2" ry="5.7"/><ellipse cx="1825.69" cy="966.44" rx="5.2" ry="5.7"/></g>
<g fill="#dbe6ad" fill-opacity="0.92" stroke="#10181a" stroke-width="1.8"><ellipse cx="1863.41" cy="924.53" rx="5.2" ry="5.7"/><ellipse cx="1863.41" cy="951.91" rx="5.2" ry="5.7"/><ellipse cx="1856.42" cy="956.94" rx="5.2" ry="5.7"/><ellipse cx="1870.95" cy="959.73" rx="5.2" ry="5.7"/><ellipse cx="1863.41" cy="965.88" rx="5.2" ry="5.7"/><ellipse cx="1859.78" cy="984.04" rx="5.2" ry="5.7"/><ellipse cx="1867.32" cy="984.04" rx="5.2" ry="5.7"/></g>
<g fill="#f4a3ba" fill-opacity="0.92" stroke="#10181a" stroke-width="1.8"><ellipse cx="1926.83" cy="922.57" rx="5.2" ry="5.7"/><ellipse cx="1919.29" cy="944.36" rx="5.2" ry="5.7"/><ellipse cx="1926.83" cy="950.51" rx="5.2" ry="5.7"/><ellipse cx="1919.29" cy="966.44" rx="5.2" ry="5.7"/><ellipse cx="1926.83" cy="972.86" rx="5.2" ry="5.7"/><ellipse cx="1934.38" cy="973.7" rx="5.2" ry="5.7"/><ellipse cx="1919.29" cy="982.08" rx="5.2" ry="5.7"/></g>
<g fill="#dbe6ad" fill-opacity="0.92" stroke="#10181a" stroke-width="1.8"><ellipse cx="1964.55" cy="927.32" rx="5.2" ry="5.7"/><ellipse cx="1972.1" cy="951.35" rx="5.2" ry="5.7"/><ellipse cx="1957.57" cy="959.73" rx="5.2" ry="5.7"/><ellipse cx="1972.1" cy="965.32" rx="5.2" ry="5.7"/><ellipse cx="1964.55" cy="970.91" rx="5.2" ry="5.7"/><ellipse cx="1964.55" cy="984.88" rx="5.2" ry="5.7"/><ellipse cx="1964.55" cy="957.5" rx="5.2" ry="5.7"/></g>
<path d="M1819.49 889.04H1831.89M1819.49 926.76H1831.89M1825.69 889.04V926.76" stroke="#000" stroke-width="2.8" fill="none"/>
<path d="M1857.21 953.31H1869.61M1857.21 967.28H1869.61M1863.41 953.31V967.28" stroke="#000" stroke-width="2.8" fill="none"/>
<path d="M1920.63 950.51H1933.03M1920.63 967.28H1933.03M1926.83 950.51V967.28" stroke="#000" stroke-width="2.8" fill="none"/>
<path d="M1958.35 951.91H1970.75M1958.35 965.88H1970.75M1964.55 951.91V965.88" stroke="#000" stroke-width="2.8" fill="none"/>
<path d="M1800.3 782.1L1800.3 1060" stroke="#10181a" stroke-width="1.6"/>
<path d="M1793.3 1059.2L1990.5 1059.2" stroke="#10181a" stroke-width="1.6"/>
<path d="M1793.3 782.9L1800.3 782.9" stroke="#10181a" stroke-width="1.5"/>
<text transform="translate(1789.8,792.2) scale(0.880,1)" font-size="26" text-anchor="end" style="stroke:#0a0a0a;stroke-width:0.5;stroke-linejoin:round;">4</text>
<path d="M1793.3 874.5L1800.3 874.5" stroke="#10181a" stroke-width="1.5"/>
<text transform="translate(1789.8,883.8) scale(0.880,1)" font-size="26" text-anchor="end" style="stroke:#0a0a0a;stroke-width:0.5;stroke-linejoin:round;">2</text>
<path d="M1793.3 967L1800.3 967" stroke="#10181a" stroke-width="1.5"/>
<text transform="translate(1789.8,976.3) scale(0.880,1)" font-size="26" text-anchor="end" style="stroke:#0a0a0a;stroke-width:0.5;stroke-linejoin:round;">0</text>
<path d="M1793.3 1059.2L1800.3 1059.2" stroke="#10181a" stroke-width="1.5"/>
<text transform="translate(1789.8,1068.5) scale(0.880,1)" font-size="26" text-anchor="end" style="stroke:#0a0a0a;stroke-width:0.5;stroke-linejoin:round;">-2</text>
<text transform="translate(1891.9,757.7) scale(0.970,1)" font-size="28.5" text-anchor="middle" style="stroke:#0a0a0a;stroke-width:0.5;stroke-linejoin:round;">Novel</text>
<text transform="translate(1874.6,799.7) scale(0.920,1)" font-size="38" text-anchor="middle" style="stroke:#0a0a0a;stroke-width:0.5;stroke-linejoin:round;">**</text><path d="M1829 800.5H1926.8V879.8" stroke="#10181a" stroke-width="1.5" fill="none"/>
<text transform="translate(1753.6,1013.5) rotate(-90) scale(1.103,1)" font-size="31" style="stroke:#0a0a0a;stroke-width:0.5;stroke-linejoin:round;">Mean Z-score</text>
<text transform="translate(1804.7,1084) scale(0.975,1)" font-size="20.5" style="stroke:#0a0a0a;stroke-width:0.5;stroke-linejoin:round;">mCherry</text>
<text transform="translate(1903.6,1084) scale(0.978,1)" font-size="20.5" style="stroke:#0a0a0a;stroke-width:0.5;stroke-linejoin:round;">Chrimson</text>
<text transform="translate(1828,1102.5) scale(0.940,1) rotate(-45)" font-size="21.5" text-anchor="end" style="font-weight:400;">First</text>
<text transform="translate(1870,1102.5) scale(0.940,1) rotate(-45)" font-size="21.5" text-anchor="end" style="font-weight:400;">Others</text>
<text transform="translate(1929,1102.5) scale(0.940,1) rotate(-45)" font-size="21.5" text-anchor="end" style="font-weight:400;">First</text>
<text transform="translate(1971,1102.5) scale(0.940,1) rotate(-45)" font-size="21.5" text-anchor="end" style="font-weight:400;">Others</text>
<rect x="1814.87" y="1360.99" width="22.52" height="1.33" fill="#fff" stroke="#10181a" stroke-width="1.4"/>
<rect x="1852.09" y="1336.8" width="23.85" height="24.19" fill="#fff" stroke="#10181a" stroke-width="1.4"/>
<rect x="1915.09" y="1360.99" width="23.32" height="24.19" fill="#fff" stroke="#10181a" stroke-width="1.4"/>
<rect x="1953.1" y="1360.2" width="23.06" height="0.8" fill="#fff" stroke="#10181a" stroke-width="1.4"/>
<path d="M1800.9 1361L1990.9 1361" stroke="#10181a" stroke-width="1.5"/>
<g fill="#b5bab6" fill-opacity="0.92" stroke="#10181a" stroke-width="1.8"><ellipse cx="1818.69" cy="1345.84" rx="5.2" ry="5.7"/><ellipse cx="1833.58" cy="1345.31" rx="5.2" ry="5.7"/><ellipse cx="1826.14" cy="1354.61" rx="5.2" ry="5.7"/><ellipse cx="1818.69" cy="1359.13" rx="5.2" ry="5.7"/><ellipse cx="1833.58" cy="1369.23" rx="5.2" ry="5.7"/><ellipse cx="1826.14" cy="1371.1" rx="5.2" ry="5.7"/><ellipse cx="1826.14" cy="1390.5" rx="5.2" ry="5.7"/></g>
<g fill="#9ccaf5" fill-opacity="0.92" stroke="#10181a" stroke-width="1.8"><ellipse cx="1863.88" cy="1300.12" rx="5.2" ry="5.7"/><ellipse cx="1871.32" cy="1320.06" rx="5.2" ry="5.7"/><ellipse cx="1856.17" cy="1328.03" rx="5.2" ry="5.7"/><ellipse cx="1871.32" cy="1336.01" rx="5.2" ry="5.7"/><ellipse cx="1856.17" cy="1344.78" rx="5.2" ry="5.7"/><ellipse cx="1871.32" cy="1359.13" rx="5.2" ry="5.7"/><ellipse cx="1856.17" cy="1366.04" rx="5.2" ry="5.7"/></g>
<g fill="#b5bab6" fill-opacity="0.92" stroke="#10181a" stroke-width="1.8"><ellipse cx="1927.15" cy="1331.49" rx="5.2" ry="5.7"/><ellipse cx="1934.32" cy="1359.93" rx="5.2" ry="5.7"/><ellipse cx="1927.15" cy="1365.25" rx="5.2" ry="5.7"/><ellipse cx="1919.7" cy="1377.21" rx="5.2" ry="5.7"/><ellipse cx="1934.32" cy="1377.21" rx="5.2" ry="5.7"/><ellipse cx="1927.15" cy="1381.2" rx="5.2" ry="5.7"/><ellipse cx="1927.15" cy="1426.38" rx="5.2" ry="5.7"/></g>
<g fill="#9ccaf5" fill-opacity="0.92" stroke="#10181a" stroke-width="1.8"><ellipse cx="1971.8" cy="1343.18" rx="5.2" ry="5.7"/><ellipse cx="1957.18" cy="1350.1" rx="5.2" ry="5.7"/><ellipse cx="1971.8" cy="1356.48" rx="5.2" ry="5.7"/><ellipse cx="1964.36" cy="1358.6" rx="5.2" ry="5.7"/><ellipse cx="1964.36" cy="1367.91" rx="5.2" ry="5.7"/><ellipse cx="1957.18" cy="1373.22" rx="5.2" ry="5.7"/><ellipse cx="1971.8" cy="1373.22" rx="5.2" ry="5.7"/></g>
<path d="M1819.94 1355.94H1832.34M1819.94 1367.91H1832.34M1826.14 1355.94V1367.91" stroke="#000" stroke-width="2.8" fill="none"/>
<path d="M1857.68 1328.03H1870.08M1857.68 1345.31H1870.08M1863.88 1328.03V1345.31" stroke="#000" stroke-width="2.8" fill="none"/>
<path d="M1920.95 1363.92H1933.35M1920.95 1385.18H1933.35M1927.15 1363.92V1385.18" stroke="#000" stroke-width="2.8" fill="none"/>
<path d="M1958.16 1355.41H1970.56M1958.16 1365.25H1970.56M1964.36 1355.41V1365.25" stroke="#000" stroke-width="2.8" fill="none"/>
<path d="M1800.9 1176.2L1800.9 1453.8" stroke="#10181a" stroke-width="1.6"/>
<path d="M1792.9 1453L1990.9 1453" stroke="#10181a" stroke-width="1.6"/>
<path d="M1793.9 1177L1800.9 1177" stroke="#10181a" stroke-width="1.5"/>
<text transform="translate(1790.4,1186.3) scale(0.880,1)" font-size="26" text-anchor="end" style="stroke:#0a0a0a;stroke-width:0.5;stroke-linejoin:round;">4</text>
<path d="M1793.9 1268.8L1800.9 1268.8" stroke="#10181a" stroke-width="1.5"/>
<text transform="translate(1790.4,1278.1) scale(0.880,1)" font-size="26" text-anchor="end" style="stroke:#0a0a0a;stroke-width:0.5;stroke-linejoin:round;">2</text>
<path d="M1793.9 1361L1800.9 1361" stroke="#10181a" stroke-width="1.5"/>
<text transform="translate(1790.4,1370.3) scale(0.880,1)" font-size="26" text-anchor="end" style="stroke:#0a0a0a;stroke-width:0.5;stroke-linejoin:round;">0</text>
<path d="M1793.9 1453L1800.9 1453" stroke="#10181a" stroke-width="1.5"/>
<text transform="translate(1790.4,1462.3) scale(0.880,1)" font-size="26" text-anchor="end" style="stroke:#0a0a0a;stroke-width:0.5;stroke-linejoin:round;">-2</text>
<text transform="translate(1896.6,1184) scale(0.985,1)" font-size="29" text-anchor="middle" style="stroke:#0a0a0a;stroke-width:0.5;stroke-linejoin:round;">Familiar</text>
<text transform="translate(1897.9,1218) scale(0.950,1)" font-size="24" text-anchor="middle" style="font-weight:400;">^ ^</text><path d="M1830.1 1229.7L1961.7 1229.7" stroke="#10181a" stroke-width="1.5"/>
<text transform="translate(1753.8,1408) rotate(-90) scale(1.103,1)" font-size="31" style="stroke:#0a0a0a;stroke-width:0.5;stroke-linejoin:round;">Mean Z-score</text>
<text transform="translate(1805.7,1478.2) scale(0.975,1)" font-size="20.5" style="stroke:#0a0a0a;stroke-width:0.5;stroke-linejoin:round;">mCherry</text>
<text transform="translate(1904,1478.2) scale(0.978,1)" font-size="20.5" style="stroke:#0a0a0a;stroke-width:0.5;stroke-linejoin:round;">Chrimson</text>
<text transform="translate(1829,1497.5) scale(0.940,1) rotate(-45)" font-size="21.5" text-anchor="end" style="font-weight:400;">First</text>
<text transform="translate(1871,1497.5) scale(0.940,1) rotate(-45)" font-size="21.5" text-anchor="end" style="font-weight:400;">Others</text>
<text transform="translate(1930,1497.5) scale(0.940,1) rotate(-45)" font-size="21.5" text-anchor="end" style="font-weight:400;">First</text>
<text transform="translate(1972,1497.5) scale(0.940,1) rotate(-45)" font-size="21.5" text-anchor="end" style="font-weight:400;">Others</text>
<linearGradient id="cbar" x1="0" y1="1" x2="0" y2="0">
<stop offset="0" stop-color="#050510"/><stop offset="0.12" stop-color="#0d0c48"/><stop offset="0.25" stop-color="#2a12a8"/>
<stop offset="0.4" stop-color="#8a1eb4"/><stop offset="0.52" stop-color="#d830a8"/><stop offset="0.63" stop-color="#f44a78"/>
<stop offset="0.75" stop-color="#fb8862"/><stop offset="0.88" stop-color="#fdc47c"/><stop offset="1" stop-color="#fbf5a0"/></linearGradient>
<rect x="1684" y="1175.4" width="15.4" height="57" fill="url(#cbar)" stroke="#0a0a0a" stroke-width="1.9"/>
<path d="M1683.8 1198.5h3M1699.4 1198.5h-3M1683.8 1224.5h3M1699.4 1224.5h-3" stroke="#0a0a0a" stroke-width="1.3"/>
<text transform="translate(1665,1184.8) scale(0.920,1)" font-size="25" style="stroke:#0a0a0a;stroke-width:0.5;stroke-linejoin:round;">8</text>
<text transform="translate(1655.5,1233.8) scale(0.920,1)" font-size="25" style="stroke:#0a0a0a;stroke-width:0.5;stroke-linejoin:round;">-2</text>
<text transform="translate(1574.5,1203.3) scale(1.008,1)" font-size="25" style="fill:#15151a;stroke:#15151a;stroke-width:0.15;stroke-linejoin:round;">Z-score</text>
</g>
</svg>
</body></html>
